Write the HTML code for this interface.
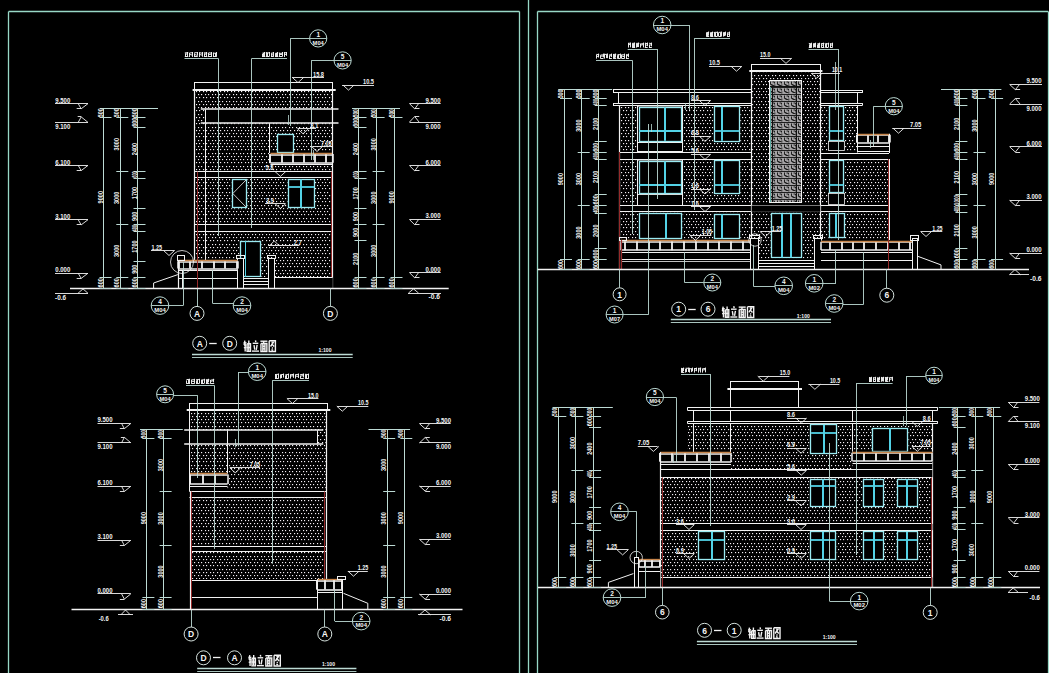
<!DOCTYPE html>
<html><head><meta charset="utf-8"><title>elevation</title>
<style>
html,body{margin:0;padding:0;background:#000;width:1049px;height:673px;overflow:hidden}
svg{display:block}
text{font-family:"Liberation Sans",sans-serif;font-weight:bold}
</style></head><body>
<svg width="1049" height="673" viewBox="0 0 1049 673">
<rect width="1049" height="673" fill="#000"/>
<defs>
<pattern id="dots" x="0" y="0" width="7" height="13" patternUnits="userSpaceOnUse"><g fill="#f4eef4"><rect x="0" y="0" width="1.15" height="1.15"/><rect x="3" y="0" width="1.15" height="1.15"/><rect x="2" y="3" width="1.15" height="1.15"/><rect x="5" y="3" width="1.15" height="1.15"/><rect x="0" y="6" width="1.15" height="1.15"/><rect x="3" y="6" width="1.15" height="1.15"/><rect x="2" y="10" width="1.15" height="1.15"/><rect x="5" y="10" width="1.15" height="1.15"/></g></pattern>
<pattern id="latt" x="769" y="80" width="7" height="7" patternUnits="userSpaceOnUse">
<rect width="7" height="7" fill="#a4a2a4"/>
<path d="M0 0.5H7 M1.5 1.5V4.5H3.5 M3.5 2H5.5V3.5 M5 5.5H2.5 M5.8 4.5V6.5" stroke="#101010" stroke-width="0.9" fill="none"/>
</pattern>
</defs>
<line x1="8.6" y1="11.5" x2="519.5" y2="11.5" stroke="#98d8c6" stroke-width="1.3"/>
<line x1="8.5" y1="11.4" x2="8.5" y2="673" stroke="#98d8c6" stroke-width="1.3"/>
<line x1="519.5" y1="11.4" x2="519.5" y2="673" stroke="#98d8c6" stroke-width="1.3"/>
<line x1="528.5" y1="0" x2="528.5" y2="673" stroke="#98d8c6" stroke-width="1.3"/>
<line x1="537.5" y1="11.5" x2="1048.3" y2="11.5" stroke="#98d8c6" stroke-width="1.3"/>
<line x1="537.5" y1="11.5" x2="537.5" y2="673" stroke="#98d8c6" stroke-width="1.3"/>
<line x1="1048.5" y1="11.5" x2="1048.5" y2="673" stroke="#98d8c6" stroke-width="1.3"/>
<rect x="195" y="90.5" width="137.8" height="186.5" fill="url(#dots)"/>
<rect x="195" y="277" width="42" height="11" fill="url(#dots)"/>
<rect x="194.5" y="82" width="138" height="7.5" fill="#000"/>
<rect x="194.5" y="82.5" width="138" height="7" fill="none" stroke="#f2f2f2" stroke-width="1"/>
<line x1="192.6" y1="90" x2="335.7" y2="90" stroke="#f2f2f2" stroke-width="2"/>
<rect x="205" y="109.4" width="127.8" height="13.9" fill="#000"/>
<line x1="200.8" y1="109" x2="338.5" y2="109" stroke="#f2f2f2" stroke-width="1.6"/>
<line x1="200.8" y1="123" x2="338.5" y2="123" stroke="#f2f2f2" stroke-width="1.6"/>
<line x1="205.5" y1="109.4" x2="205.5" y2="123.3" stroke="#f2f2f2" stroke-width="1"/>
<line x1="269.5" y1="123.3" x2="269.5" y2="153" stroke="#f2f2f2" stroke-width="1"/>
<rect x="277" y="133.7" width="17" height="19.3" fill="#000"/>
<rect x="277.5" y="134.5" width="16" height="18" fill="none" stroke="#9aeaf2" stroke-width="1.3"/>
<rect x="270.4" y="153" width="62.6" height="10.8" fill="#000"/>
<line x1="270.4" y1="155" x2="333" y2="155" stroke="#f2f2f2" stroke-width="1.6"/>
<line x1="270.4" y1="163" x2="333" y2="163" stroke="#f2f2f2" stroke-width="1.6"/>
<line x1="270" y1="154" x2="270" y2="162.8" stroke="#f2f2f2" stroke-width="1.8"/>
<line x1="282" y1="154" x2="282" y2="162.8" stroke="#f2f2f2" stroke-width="1.8"/>
<line x1="293" y1="154" x2="293" y2="162.8" stroke="#f2f2f2" stroke-width="1.8"/>
<line x1="304" y1="154" x2="304" y2="162.8" stroke="#f2f2f2" stroke-width="1.8"/>
<line x1="315" y1="154" x2="315" y2="162.8" stroke="#f2f2f2" stroke-width="1.8"/>
<line x1="326" y1="154" x2="326" y2="162.8" stroke="#f2f2f2" stroke-width="1.8"/>
<line x1="270" y1="154" x2="270" y2="162.8" stroke="#f2f2f2" stroke-width="1.5"/>
<line x1="333" y1="154" x2="333" y2="162.8" stroke="#f2f2f2" stroke-width="1.5"/>
<line x1="270.4" y1="153.5" x2="333" y2="153.5" stroke="#c8864c" stroke-width="1.3"/>
<line x1="270.4" y1="164.5" x2="333" y2="164.5" stroke="#f2f2f2" stroke-width="1"/>
<rect x="195" y="171.6" width="137.8" height="6.3" fill="#000"/>
<line x1="195" y1="171.5" x2="332.8" y2="171.5" stroke="#f2f2f2" stroke-width="1.2"/>
<line x1="195" y1="177.5" x2="332.8" y2="177.5" stroke="#f2f2f2" stroke-width="1.2"/>
<rect x="195" y="224.2" width="137.8" height="7.2" fill="#000"/>
<line x1="195" y1="224.5" x2="332.8" y2="224.5" stroke="#f2f2f2" stroke-width="1.2"/>
<line x1="195" y1="231.5" x2="332.8" y2="231.5" stroke="#f2f2f2" stroke-width="1.2"/>
<line x1="194.5" y1="89.9" x2="194.5" y2="288.6" stroke="#f2f2f2" stroke-width="1.2"/>
<line x1="332.5" y1="89.9" x2="332.5" y2="288.6" stroke="#f2f2f2" stroke-width="1.2"/>
<line x1="205.5" y1="123.3" x2="205.5" y2="288.6" stroke="#f2f2f2" stroke-width="1"/>
<line x1="197.5" y1="171.6" x2="197.5" y2="288.6" stroke="#962a2a" stroke-width="1"/>
<line x1="331.5" y1="171.6" x2="331.5" y2="288.6" stroke="#962a2a" stroke-width="1"/>
<rect x="231.3" y="178.5" width="16.1" height="29.9" fill="#000"/>
<rect x="232.5" y="179.5" width="14" height="28" fill="none" stroke="#9aeaf2" stroke-width="1.3"/>
<polyline points="246,180 232.8,193.5 246,207" fill="none" stroke="#f2f2f2" stroke-width="0.8"/>
<rect x="287.5" y="178.5" width="27.5" height="29.9" fill="#000"/>
<rect x="288.5" y="179.5" width="26" height="28" fill="none" stroke="#9aeaf2" stroke-width="1.3"/>
<line x1="301" y1="179.5" x2="301" y2="207.4" stroke="#52d2e6" stroke-width="2"/>
<line x1="288.5" y1="187" x2="314" y2="187" stroke="#52d2e6" stroke-width="1.8"/>
<rect x="237" y="277" width="95.8" height="11.6" fill="#000"/>
<line x1="274" y1="277.5" x2="332.8" y2="277.5" stroke="#f2f2f2" stroke-width="1"/>
<rect x="239.8" y="240.3" width="21.6" height="36.7" fill="#000"/>
<rect x="240.5" y="241.5" width="20" height="35" fill="none" stroke="#9aeaf2" stroke-width="1.3"/>
<line x1="245.5" y1="241" x2="245.5" y2="277" stroke="#52d2e6" stroke-width="1"/>
<rect x="241.4" y="277.5" width="27.9" height="11.1" fill="#000"/>
<line x1="241.4" y1="278.5" x2="269.3" y2="278.5" stroke="#f2f2f2" stroke-width="1"/>
<line x1="241.4" y1="281.5" x2="269.3" y2="281.5" stroke="#f2f2f2" stroke-width="1"/>
<line x1="241.4" y1="284.5" x2="269.3" y2="284.5" stroke="#f2f2f2" stroke-width="1"/>
<rect x="237" y="258" width="6" height="30.6" fill="#000"/>
<rect x="237.5" y="258.5" width="6" height="30" fill="none" stroke="#f2f2f2" stroke-width="1"/>
<rect x="236.5" y="255.5" width="8" height="3" fill="none" stroke="#f2f2f2" stroke-width="1"/>
<rect x="268" y="258" width="6" height="30.6" fill="#000"/>
<rect x="268.5" y="258.5" width="6" height="30" fill="none" stroke="#f2f2f2" stroke-width="1"/>
<rect x="267.5" y="255.5" width="8" height="3" fill="none" stroke="#f2f2f2" stroke-width="1"/>
<rect x="178" y="260.3" width="59" height="28.3" fill="#000"/>
<rect x="178.5" y="260.3" width="59" height="9.1" fill="#000"/>
<line x1="178.5" y1="262" x2="237.5" y2="262" stroke="#f2f2f2" stroke-width="1.6"/>
<line x1="178.5" y1="269" x2="237.5" y2="269" stroke="#f2f2f2" stroke-width="1.6"/>
<line x1="179" y1="261.3" x2="179" y2="268.4" stroke="#f2f2f2" stroke-width="1.8"/>
<line x1="190" y1="261.3" x2="190" y2="268.4" stroke="#f2f2f2" stroke-width="1.8"/>
<line x1="202" y1="261.3" x2="202" y2="268.4" stroke="#f2f2f2" stroke-width="1.8"/>
<line x1="214" y1="261.3" x2="214" y2="268.4" stroke="#f2f2f2" stroke-width="1.8"/>
<line x1="225" y1="261.3" x2="225" y2="268.4" stroke="#f2f2f2" stroke-width="1.8"/>
<line x1="237" y1="261.3" x2="237" y2="268.4" stroke="#f2f2f2" stroke-width="1.8"/>
<line x1="178" y1="261.3" x2="178" y2="268.4" stroke="#f2f2f2" stroke-width="1.5"/>
<line x1="238" y1="261.3" x2="238" y2="268.4" stroke="#f2f2f2" stroke-width="1.5"/>
<line x1="178.5" y1="260.5" x2="237.5" y2="260.5" stroke="#c8864c" stroke-width="1.3"/>
<line x1="178" y1="270.5" x2="237" y2="270.5" stroke="#f2f2f2" stroke-width="1"/>
<line x1="178" y1="278.5" x2="237" y2="278.5" stroke="#f2f2f2" stroke-width="1"/>
<line x1="178.5" y1="260" x2="178.5" y2="288.6" stroke="#f2f2f2" stroke-width="1.2"/>
<line x1="182.5" y1="270" x2="182.5" y2="288.6" stroke="#f2f2f2" stroke-width="1"/>
<line x1="212.5" y1="270" x2="212.5" y2="288.6" stroke="#f2f2f2" stroke-width="1"/>
<line x1="197.5" y1="260.3" x2="197.5" y2="288.6" stroke="#962a2a" stroke-width="1"/>
<rect x="177.5" y="255.5" width="7" height="5" fill="none" stroke="#f2f2f2" stroke-width="1"/>
<polyline points="153.6,288.6 153.6,283 177.8,274.6" fill="none" stroke="#f2f2f2" stroke-width="1"/>
<circle cx="182" cy="262" r="11.5" fill="none" stroke="#f2f2f2" stroke-width="0.8"/>
<line x1="70" y1="288.5" x2="448.7" y2="288.5" stroke="#f2f2f2" stroke-width="1.3"/>
<line x1="184.8" y1="52.86" x2="188.27" y2="52.72" stroke="#f4f4f4" stroke-width="0.95"/>
<line x1="185.5" y1="53.3" x2="185.5" y2="57" stroke="#f4f4f4" stroke-width="0.95"/>
<line x1="187.5" y1="52" x2="187.5" y2="56.89" stroke="#f4f4f4" stroke-width="0.95"/>
<line x1="184.8" y1="56.5" x2="188.27" y2="56.5" stroke="#f4f4f4" stroke-width="0.95"/>
<line x1="185.1" y1="54.5" x2="187.87" y2="53.62" stroke="#f4f4f4" stroke-width="0.95"/>
<line x1="189.57" y1="53.01" x2="193.04" y2="52.63" stroke="#f4f4f4" stroke-width="0.95"/>
<line x1="189.5" y1="52.87" x2="189.5" y2="57" stroke="#f4f4f4" stroke-width="0.95"/>
<line x1="192.5" y1="52" x2="192.5" y2="56.9" stroke="#f4f4f4" stroke-width="0.95"/>
<line x1="189.87" y1="54.5" x2="192.64" y2="55.15" stroke="#f4f4f4" stroke-width="0.95"/>
<line x1="194.34" y1="52.7" x2="197.81" y2="52.78" stroke="#f4f4f4" stroke-width="0.95"/>
<line x1="194.5" y1="53.25" x2="194.5" y2="57" stroke="#f4f4f4" stroke-width="0.95"/>
<line x1="197.5" y1="52" x2="197.5" y2="55.58" stroke="#f4f4f4" stroke-width="0.95"/>
<line x1="194.34" y1="56.5" x2="197.81" y2="56.5" stroke="#f4f4f4" stroke-width="0.95"/>
<line x1="194.64" y1="54.5" x2="197.41" y2="55.45" stroke="#f4f4f4" stroke-width="0.95"/>
<line x1="199.11" y1="52.64" x2="202.59" y2="53.29" stroke="#f4f4f4" stroke-width="0.95"/>
<line x1="199.5" y1="52.58" x2="199.5" y2="57" stroke="#f4f4f4" stroke-width="0.95"/>
<line x1="202.5" y1="52" x2="202.5" y2="56.78" stroke="#f4f4f4" stroke-width="0.95"/>
<line x1="199.41" y1="54.5" x2="202.19" y2="55.13" stroke="#f4f4f4" stroke-width="0.95"/>
<line x1="203.89" y1="52.74" x2="207.36" y2="53.07" stroke="#f4f4f4" stroke-width="0.95"/>
<line x1="204.5" y1="53.28" x2="204.5" y2="57" stroke="#f4f4f4" stroke-width="0.95"/>
<line x1="206.5" y1="52" x2="206.5" y2="56.44" stroke="#f4f4f4" stroke-width="0.95"/>
<line x1="203.89" y1="56.5" x2="207.36" y2="56.5" stroke="#f4f4f4" stroke-width="0.95"/>
<line x1="204.19" y1="54.5" x2="206.96" y2="53.62" stroke="#f4f4f4" stroke-width="0.95"/>
<line x1="208.66" y1="52.76" x2="212.13" y2="53.14" stroke="#f4f4f4" stroke-width="0.95"/>
<line x1="208.5" y1="52.86" x2="208.5" y2="57" stroke="#f4f4f4" stroke-width="0.95"/>
<line x1="211.5" y1="52" x2="211.5" y2="56.53" stroke="#f4f4f4" stroke-width="0.95"/>
<line x1="208.66" y1="56.5" x2="212.13" y2="56.5" stroke="#f4f4f4" stroke-width="0.95"/>
<line x1="208.96" y1="54.5" x2="211.73" y2="54.1" stroke="#f4f4f4" stroke-width="0.95"/>
<line x1="213.43" y1="53.24" x2="216.9" y2="53.16" stroke="#f4f4f4" stroke-width="0.95"/>
<line x1="213.5" y1="52.49" x2="213.5" y2="57" stroke="#f4f4f4" stroke-width="0.95"/>
<line x1="216.5" y1="52" x2="216.5" y2="56.14" stroke="#f4f4f4" stroke-width="0.95"/>
<line x1="213.43" y1="56.5" x2="216.9" y2="56.5" stroke="#f4f4f4" stroke-width="0.95"/>
<line x1="215.5" y1="53" x2="215.5" y2="56.5" stroke="#f4f4f4" stroke-width="0.95"/>
<line x1="184.5" y1="58.5" x2="218.5" y2="58.5" stroke="#bcdad4" stroke-width="0.9"/>
<line x1="218.5" y1="58.6" x2="218.5" y2="236" stroke="#bcdad4" stroke-width="0.9"/>
<line x1="262.3" y1="53.18" x2="265.32" y2="52.83" stroke="#f4f4f4" stroke-width="0.95"/>
<line x1="262.5" y1="53.96" x2="262.5" y2="57" stroke="#f4f4f4" stroke-width="0.95"/>
<line x1="264.5" y1="52" x2="264.5" y2="56.82" stroke="#f4f4f4" stroke-width="0.95"/>
<line x1="262.3" y1="56.5" x2="265.32" y2="56.5" stroke="#f4f4f4" stroke-width="0.95"/>
<line x1="263.5" y1="53" x2="263.5" y2="56.5" stroke="#f4f4f4" stroke-width="0.95"/>
<line x1="266.62" y1="52.72" x2="269.63" y2="52.99" stroke="#f4f4f4" stroke-width="0.95"/>
<line x1="266.5" y1="52.08" x2="266.5" y2="57" stroke="#f4f4f4" stroke-width="0.95"/>
<line x1="269.5" y1="52" x2="269.5" y2="56" stroke="#f4f4f4" stroke-width="0.95"/>
<line x1="266.62" y1="56.5" x2="269.63" y2="56.5" stroke="#f4f4f4" stroke-width="0.95"/>
<line x1="267.5" y1="53" x2="267.5" y2="56.5" stroke="#f4f4f4" stroke-width="0.95"/>
<line x1="270.93" y1="53.3" x2="273.95" y2="52.85" stroke="#f4f4f4" stroke-width="0.95"/>
<line x1="271.5" y1="53.39" x2="271.5" y2="57" stroke="#f4f4f4" stroke-width="0.95"/>
<line x1="273.5" y1="52" x2="273.5" y2="56.11" stroke="#f4f4f4" stroke-width="0.95"/>
<line x1="270.93" y1="56.5" x2="273.95" y2="56.5" stroke="#f4f4f4" stroke-width="0.95"/>
<line x1="271.23" y1="54.5" x2="273.55" y2="55.18" stroke="#f4f4f4" stroke-width="0.95"/>
<line x1="275.25" y1="53.36" x2="278.27" y2="52.98" stroke="#f4f4f4" stroke-width="0.95"/>
<line x1="275.5" y1="53.33" x2="275.5" y2="57" stroke="#f4f4f4" stroke-width="0.95"/>
<line x1="277.5" y1="52" x2="277.5" y2="56.91" stroke="#f4f4f4" stroke-width="0.95"/>
<line x1="275.25" y1="56.5" x2="278.27" y2="56.5" stroke="#f4f4f4" stroke-width="0.95"/>
<line x1="276.5" y1="53" x2="276.5" y2="56.5" stroke="#f4f4f4" stroke-width="0.95"/>
<line x1="279.57" y1="53.39" x2="282.58" y2="53.26" stroke="#f4f4f4" stroke-width="0.95"/>
<line x1="279.5" y1="52.57" x2="279.5" y2="57" stroke="#f4f4f4" stroke-width="0.95"/>
<line x1="282.5" y1="52" x2="282.5" y2="56.42" stroke="#f4f4f4" stroke-width="0.95"/>
<line x1="279.57" y1="56.5" x2="282.58" y2="56.5" stroke="#f4f4f4" stroke-width="0.95"/>
<line x1="279.87" y1="54.5" x2="282.18" y2="54.42" stroke="#f4f4f4" stroke-width="0.95"/>
<line x1="283.88" y1="52.73" x2="286.9" y2="52.69" stroke="#f4f4f4" stroke-width="0.95"/>
<line x1="284.5" y1="52.12" x2="284.5" y2="57" stroke="#f4f4f4" stroke-width="0.95"/>
<line x1="286.5" y1="52" x2="286.5" y2="55.85" stroke="#f4f4f4" stroke-width="0.95"/>
<line x1="284.18" y1="54.5" x2="286.5" y2="54.28" stroke="#f4f4f4" stroke-width="0.95"/>
<line x1="251.5" y1="58.5" x2="287" y2="58.5" stroke="#bcdad4" stroke-width="0.9"/>
<line x1="251.5" y1="58.6" x2="251.5" y2="228" stroke="#bcdad4" stroke-width="0.9"/>
<circle cx="318.2" cy="38.4" r="8.6" fill="none" stroke="#bcdad4" stroke-width="1"/>
<line x1="309.6" y1="38.5" x2="326.8" y2="38.5" stroke="#bcdad4" stroke-width="0.9"/>
<text x="318.2" y="36.8" font-size="6.5" fill="#f4f4f4" text-anchor="middle">1</text>
<text x="318.2" y="44.7" font-size="6" fill="#f4f4f4" text-anchor="middle" textLength="11.18" lengthAdjust="spacingAndGlyphs">M04</text>
<line x1="309.6" y1="38.5" x2="290.3" y2="38.5" stroke="#bcdad4" stroke-width="0.9"/>
<line x1="290.5" y1="38.4" x2="290.5" y2="126" stroke="#bcdad4" stroke-width="0.9"/>
<line x1="288.5" y1="115" x2="288.5" y2="125" stroke="#bcdad4" stroke-width="0.8"/>
<circle cx="342.6" cy="60.4" r="8.6" fill="none" stroke="#bcdad4" stroke-width="1"/>
<line x1="334" y1="60.5" x2="351.2" y2="60.5" stroke="#bcdad4" stroke-width="0.9"/>
<text x="342.6" y="58.8" font-size="6.5" fill="#f4f4f4" text-anchor="middle">5</text>
<text x="342.6" y="66.7" font-size="6" fill="#f4f4f4" text-anchor="middle" textLength="11.18" lengthAdjust="spacingAndGlyphs">M04</text>
<line x1="334" y1="60.5" x2="311.3" y2="60.5" stroke="#bcdad4" stroke-width="0.9"/>
<line x1="311.5" y1="60.4" x2="311.5" y2="160" stroke="#bcdad4" stroke-width="0.9"/>
<line x1="313.5" y1="150" x2="313.5" y2="160" stroke="#bcdad4" stroke-width="0.8"/>
<line x1="292" y1="77.5" x2="324" y2="77.5" stroke="#f2f2f2" stroke-width="0.9"/>
<polyline points="292.5,77.6 298,82.6 303.5,77.6" fill="none" stroke="#f2f2f2" stroke-width="0.9"/>
<text x="313" y="76.6" font-size="7" fill="#f4f4f4" text-anchor="start" textLength="11" lengthAdjust="spacingAndGlyphs">15.8</text>
<line x1="342" y1="85.5" x2="374" y2="85.5" stroke="#f2f2f2" stroke-width="0.9"/>
<polyline points="343,85.1 348.5,90.1 354,85.1" fill="none" stroke="#f2f2f2" stroke-width="0.9"/>
<text x="363" y="84.1" font-size="7" fill="#f4f4f4" text-anchor="start" textLength="11" lengthAdjust="spacingAndGlyphs">10.5</text>
<line x1="297.7" y1="128.5" x2="316" y2="128.5" stroke="#f2f2f2" stroke-width="0.9"/>
<polyline points="297.5,128.8 303,133.8 308.5,128.8" fill="none" stroke="#f2f2f2" stroke-width="0.9"/>
<text x="310.5" y="127.8" font-size="7" fill="#f4f4f4" text-anchor="start" textLength="7.8" lengthAdjust="spacingAndGlyphs">8.1</text>
<line x1="312.2" y1="146.5" x2="331" y2="146.5" stroke="#f2f2f2" stroke-width="0.9"/>
<polyline points="311.5,146.5 317,151.5 322.5,146.5" fill="none" stroke="#f2f2f2" stroke-width="0.9"/>
<text x="321" y="145.5" font-size="7" fill="#f4f4f4" text-anchor="start" textLength="10.4" lengthAdjust="spacingAndGlyphs">7.05</text>
<line x1="266" y1="171.5" x2="285" y2="171.5" stroke="#f2f2f2" stroke-width="0.9"/>
<polyline points="274.9,171.4 280.4,176.4 285.9,171.4" fill="none" stroke="#f2f2f2" stroke-width="0.9"/>
<text x="265.5" y="170.4" font-size="7" fill="#f4f4f4" text-anchor="start" textLength="7.8" lengthAdjust="spacingAndGlyphs">5.8</text>
<line x1="265" y1="203.5" x2="285" y2="203.5" stroke="#f2f2f2" stroke-width="0.9"/>
<polyline points="274.9,203.5 280.4,208.5 285.9,203.5" fill="none" stroke="#f2f2f2" stroke-width="0.9"/>
<text x="266" y="202.5" font-size="7" fill="#f4f4f4" text-anchor="start" textLength="7.8" lengthAdjust="spacingAndGlyphs">3.9</text>
<line x1="268.1" y1="245.5" x2="299.4" y2="245.5" stroke="#f2f2f2" stroke-width="0.9"/>
<polyline points="269.3,245.9 274.3,240.9 279.3,245.9" fill="none" stroke="#f2f2f2" stroke-width="0.9"/>
<text x="293.8" y="244.9" font-size="7" fill="#f4f4f4" text-anchor="start" textLength="7.8" lengthAdjust="spacingAndGlyphs">2.7</text>
<line x1="151" y1="250.5" x2="174.6" y2="250.5" stroke="#f2f2f2" stroke-width="0.9"/>
<polyline points="163.5,250.5 169,255.5 174.5,250.5" fill="none" stroke="#f2f2f2" stroke-width="0.9"/>
<text x="151.5" y="249.5" font-size="7" fill="#f4f4f4" text-anchor="start" textLength="10.5" lengthAdjust="spacingAndGlyphs">1.25</text>
<line x1="55" y1="103.5" x2="88" y2="103.5" stroke="#f2f2f2" stroke-width="0.9"/>
<polyline points="78.2,103.6 81.18,108.8 88,103.6" fill="none" stroke="#f2f2f2" stroke-width="0.9"/>
<line x1="81.18" y1="108.5" x2="76.68" y2="108.5" stroke="#f2f2f2" stroke-width="0.9"/>
<text x="55.3" y="102.8" font-size="7" fill="#f4f4f4" text-anchor="start" textLength="15" lengthAdjust="spacingAndGlyphs">9.500</text>
<line x1="55" y1="122.5" x2="88" y2="122.5" stroke="#f2f2f2" stroke-width="0.9"/>
<polyline points="78.2,122.4 81.18,116.9 88,122.4" fill="none" stroke="#f2f2f2" stroke-width="0.9"/>
<line x1="81.18" y1="116.5" x2="77.68" y2="116.5" stroke="#f2f2f2" stroke-width="0.9"/>
<text x="55.3" y="128.8" font-size="7" fill="#f4f4f4" text-anchor="start" textLength="15" lengthAdjust="spacingAndGlyphs">9.100</text>
<line x1="55" y1="165.5" x2="88" y2="165.5" stroke="#f2f2f2" stroke-width="0.9"/>
<polyline points="78.2,165.4 81.18,170.6 88,165.4" fill="none" stroke="#f2f2f2" stroke-width="0.9"/>
<line x1="81.18" y1="170.5" x2="76.68" y2="170.5" stroke="#f2f2f2" stroke-width="0.9"/>
<text x="55.3" y="164.6" font-size="7" fill="#f4f4f4" text-anchor="start" textLength="15" lengthAdjust="spacingAndGlyphs">6.100</text>
<line x1="55" y1="219.5" x2="88" y2="219.5" stroke="#f2f2f2" stroke-width="0.9"/>
<polyline points="78.2,219.7 81.18,224.9 88,219.7" fill="none" stroke="#f2f2f2" stroke-width="0.9"/>
<line x1="81.18" y1="224.5" x2="76.68" y2="224.5" stroke="#f2f2f2" stroke-width="0.9"/>
<text x="55.3" y="218.9" font-size="7" fill="#f4f4f4" text-anchor="start" textLength="15" lengthAdjust="spacingAndGlyphs">3.100</text>
<line x1="55" y1="273.5" x2="88" y2="273.5" stroke="#f2f2f2" stroke-width="0.9"/>
<polyline points="78.2,273.2 81.18,278.4 88,273.2" fill="none" stroke="#f2f2f2" stroke-width="0.9"/>
<line x1="81.18" y1="278.5" x2="76.68" y2="278.5" stroke="#f2f2f2" stroke-width="0.9"/>
<text x="55.3" y="272.4" font-size="7" fill="#f4f4f4" text-anchor="start" textLength="15" lengthAdjust="spacingAndGlyphs">0.000</text>
<line x1="55" y1="293.5" x2="88" y2="293.5" stroke="#f2f2f2" stroke-width="0.9"/>
<polyline points="78,293.3 83,288.9 88,293.3" fill="none" stroke="#f2f2f2" stroke-width="0.9"/>
<text x="55" y="299.5" font-size="7" fill="#f4f4f4" text-anchor="start" textLength="11" lengthAdjust="spacingAndGlyphs">-0.6</text>
<line x1="409.5" y1="103.5" x2="440.7" y2="103.5" stroke="#f2f2f2" stroke-width="0.9"/>
<polyline points="409.5,103.7 414.73,108.9 418.5,103.7" fill="none" stroke="#f2f2f2" stroke-width="0.9"/>
<line x1="414.73" y1="108.5" x2="419.53" y2="108.5" stroke="#f2f2f2" stroke-width="0.9"/>
<text x="425.5" y="102.5" font-size="7" fill="#f4f4f4" text-anchor="start" textLength="15" lengthAdjust="spacingAndGlyphs">9.500</text>
<line x1="409.5" y1="122.5" x2="440.7" y2="122.5" stroke="#f2f2f2" stroke-width="0.9"/>
<polyline points="409.5,122 414.73,116.5 419,122" fill="none" stroke="#f2f2f2" stroke-width="0.9"/>
<line x1="414.73" y1="116.5" x2="419.23" y2="116.5" stroke="#f2f2f2" stroke-width="0.9"/>
<text x="425.5" y="128.5" font-size="7" fill="#f4f4f4" text-anchor="start" textLength="15" lengthAdjust="spacingAndGlyphs">9.000</text>
<line x1="409.5" y1="165.5" x2="440.7" y2="165.5" stroke="#f2f2f2" stroke-width="0.9"/>
<polyline points="409.5,165.7 414.73,170.9 418.5,165.7" fill="none" stroke="#f2f2f2" stroke-width="0.9"/>
<line x1="414.73" y1="170.5" x2="419.53" y2="170.5" stroke="#f2f2f2" stroke-width="0.9"/>
<text x="425.5" y="164.5" font-size="7" fill="#f4f4f4" text-anchor="start" textLength="15" lengthAdjust="spacingAndGlyphs">6.000</text>
<line x1="409.5" y1="219.5" x2="440.7" y2="219.5" stroke="#f2f2f2" stroke-width="0.9"/>
<polyline points="409.5,219.6 414.73,224.8 418.5,219.6" fill="none" stroke="#f2f2f2" stroke-width="0.9"/>
<line x1="414.73" y1="224.5" x2="419.53" y2="224.5" stroke="#f2f2f2" stroke-width="0.9"/>
<text x="425.5" y="218.4" font-size="7" fill="#f4f4f4" text-anchor="start" textLength="15" lengthAdjust="spacingAndGlyphs">3.000</text>
<line x1="409.5" y1="272.5" x2="440.7" y2="272.5" stroke="#f2f2f2" stroke-width="0.9"/>
<polyline points="409.5,272.7 414.73,277.9 418.5,272.7" fill="none" stroke="#f2f2f2" stroke-width="0.9"/>
<line x1="414.73" y1="277.5" x2="419.53" y2="277.5" stroke="#f2f2f2" stroke-width="0.9"/>
<text x="425.5" y="271.5" font-size="7" fill="#f4f4f4" text-anchor="start" textLength="15" lengthAdjust="spacingAndGlyphs">0.000</text>
<line x1="408" y1="293.5" x2="441" y2="293.5" stroke="#f2f2f2" stroke-width="0.9"/>
<polyline points="408.5,293 413.5,288.9 418.5,293" fill="none" stroke="#f2f2f2" stroke-width="0.9"/>
<text x="428.5" y="299" font-size="7" fill="#f4f4f4" text-anchor="start" textLength="11.5" lengthAdjust="spacingAndGlyphs">-0.6</text>
<line x1="100" y1="108.5" x2="158" y2="108.5" stroke="#bcdad4" stroke-width="1"/>
<line x1="103.5" y1="108.2" x2="103.5" y2="288.6" stroke="#bcdad4" stroke-width="1"/>
<line x1="99.5" y1="117.5" x2="111.5" y2="117.5" stroke="#bcdad4" stroke-width="1"/>
<line x1="99.5" y1="277.5" x2="111.5" y2="277.5" stroke="#bcdad4" stroke-width="1"/>
<line x1="99.5" y1="288.5" x2="111.5" y2="288.5" stroke="#bcdad4" stroke-width="1"/>
<text x="102.7" y="112.8" font-size="7" fill="#f4f4f4" text-anchor="middle" textLength="8.7" lengthAdjust="spacingAndGlyphs" transform="rotate(-90 102.7 112.8)">500</text>
<text x="102.7" y="197.2" font-size="7" fill="#f4f4f4" text-anchor="middle" textLength="12.4" lengthAdjust="spacingAndGlyphs" transform="rotate(-90 102.7 197.2)">9000</text>
<text x="102.7" y="282.8" font-size="7" fill="#f4f4f4" text-anchor="middle" textLength="9.3" lengthAdjust="spacingAndGlyphs" transform="rotate(-90 102.7 282.8)">600</text>
<line x1="120.5" y1="108.2" x2="120.5" y2="288.6" stroke="#bcdad4" stroke-width="1"/>
<line x1="116.3" y1="117.5" x2="128.3" y2="117.5" stroke="#bcdad4" stroke-width="1"/>
<line x1="116.3" y1="171.5" x2="128.3" y2="171.5" stroke="#bcdad4" stroke-width="1"/>
<line x1="116.3" y1="224.5" x2="128.3" y2="224.5" stroke="#bcdad4" stroke-width="1"/>
<line x1="116.3" y1="277.5" x2="128.3" y2="277.5" stroke="#bcdad4" stroke-width="1"/>
<line x1="116.3" y1="288.5" x2="128.3" y2="288.5" stroke="#bcdad4" stroke-width="1"/>
<text x="119.5" y="112.8" font-size="7" fill="#f4f4f4" text-anchor="middle" textLength="8.7" lengthAdjust="spacingAndGlyphs" transform="rotate(-90 119.5 112.8)">500</text>
<text x="119.5" y="144.2" font-size="7" fill="#f4f4f4" text-anchor="middle" textLength="12.4" lengthAdjust="spacingAndGlyphs" transform="rotate(-90 119.5 144.2)">3000</text>
<text x="119.5" y="197.8" font-size="7" fill="#f4f4f4" text-anchor="middle" textLength="12.4" lengthAdjust="spacingAndGlyphs" transform="rotate(-90 119.5 197.8)">3000</text>
<text x="119.5" y="250.8" font-size="7" fill="#f4f4f4" text-anchor="middle" textLength="12.4" lengthAdjust="spacingAndGlyphs" transform="rotate(-90 119.5 250.8)">3000</text>
<text x="119.5" y="282.8" font-size="7" fill="#f4f4f4" text-anchor="middle" textLength="9.3" lengthAdjust="spacingAndGlyphs" transform="rotate(-90 119.5 282.8)">600</text>
<line x1="137.5" y1="108.2" x2="137.5" y2="288.6" stroke="#bcdad4" stroke-width="1"/>
<line x1="133.5" y1="117.5" x2="145.5" y2="117.5" stroke="#bcdad4" stroke-width="1"/>
<line x1="133.5" y1="127.5" x2="145.5" y2="127.5" stroke="#bcdad4" stroke-width="1"/>
<line x1="133.5" y1="171.5" x2="145.5" y2="171.5" stroke="#bcdad4" stroke-width="1"/>
<line x1="133.5" y1="178.5" x2="145.5" y2="178.5" stroke="#bcdad4" stroke-width="1"/>
<line x1="133.5" y1="208.5" x2="145.5" y2="208.5" stroke="#bcdad4" stroke-width="1"/>
<line x1="133.5" y1="224.5" x2="145.5" y2="224.5" stroke="#bcdad4" stroke-width="1"/>
<line x1="133.5" y1="231.5" x2="145.5" y2="231.5" stroke="#bcdad4" stroke-width="1"/>
<line x1="133.5" y1="261.5" x2="145.5" y2="261.5" stroke="#bcdad4" stroke-width="1"/>
<line x1="133.5" y1="277.5" x2="145.5" y2="277.5" stroke="#bcdad4" stroke-width="1"/>
<line x1="133.5" y1="288.5" x2="145.5" y2="288.5" stroke="#bcdad4" stroke-width="1"/>
<text x="136.7" y="112.8" font-size="7" fill="#f4f4f4" text-anchor="middle" textLength="8.7" lengthAdjust="spacingAndGlyphs" transform="rotate(-90 136.7 112.8)">500</text>
<text x="136.7" y="122.2" font-size="7" fill="#f4f4f4" text-anchor="middle" textLength="9.1" lengthAdjust="spacingAndGlyphs" transform="rotate(-90 136.7 122.2)">600</text>
<text x="136.7" y="149" font-size="7" fill="#f4f4f4" text-anchor="middle" textLength="12.4" lengthAdjust="spacingAndGlyphs" transform="rotate(-90 136.7 149)">2400</text>
<text x="136.7" y="174.5" font-size="7" fill="#f4f4f4" text-anchor="middle" textLength="6.5" lengthAdjust="spacingAndGlyphs" transform="rotate(-90 136.7 174.5)">600</text>
<text x="136.7" y="193" font-size="7" fill="#f4f4f4" text-anchor="middle" textLength="12.4" lengthAdjust="spacingAndGlyphs" transform="rotate(-90 136.7 193)">1700</text>
<text x="136.7" y="216.3" font-size="7" fill="#f4f4f4" text-anchor="middle" textLength="9.3" lengthAdjust="spacingAndGlyphs" transform="rotate(-90 136.7 216.3)">900</text>
<text x="136.7" y="228.15" font-size="7" fill="#f4f4f4" text-anchor="middle" textLength="6.6" lengthAdjust="spacingAndGlyphs" transform="rotate(-90 136.7 228.15)">400</text>
<text x="136.7" y="246.55" font-size="7" fill="#f4f4f4" text-anchor="middle" textLength="12.4" lengthAdjust="spacingAndGlyphs" transform="rotate(-90 136.7 246.55)">1700</text>
<text x="136.7" y="269.2" font-size="7" fill="#f4f4f4" text-anchor="middle" textLength="9.3" lengthAdjust="spacingAndGlyphs" transform="rotate(-90 136.7 269.2)">900</text>
<text x="136.7" y="282.8" font-size="7" fill="#f4f4f4" text-anchor="middle" textLength="9.3" lengthAdjust="spacingAndGlyphs" transform="rotate(-90 136.7 282.8)">600</text>
<line x1="352" y1="108.5" x2="400" y2="108.5" stroke="#bcdad4" stroke-width="1"/>
<line x1="358.5" y1="108.9" x2="358.5" y2="288.6" stroke="#bcdad4" stroke-width="1"/>
<line x1="354.5" y1="117.5" x2="366.5" y2="117.5" stroke="#bcdad4" stroke-width="1"/>
<line x1="354.5" y1="127.5" x2="366.5" y2="127.5" stroke="#bcdad4" stroke-width="1"/>
<line x1="354.5" y1="171.5" x2="366.5" y2="171.5" stroke="#bcdad4" stroke-width="1"/>
<line x1="354.5" y1="178.5" x2="366.5" y2="178.5" stroke="#bcdad4" stroke-width="1"/>
<line x1="354.5" y1="208.5" x2="366.5" y2="208.5" stroke="#bcdad4" stroke-width="1"/>
<line x1="354.5" y1="224.5" x2="366.5" y2="224.5" stroke="#bcdad4" stroke-width="1"/>
<line x1="354.5" y1="240.5" x2="366.5" y2="240.5" stroke="#bcdad4" stroke-width="1"/>
<line x1="354.5" y1="277.5" x2="366.5" y2="277.5" stroke="#bcdad4" stroke-width="1"/>
<line x1="354.5" y1="288.5" x2="366.5" y2="288.5" stroke="#bcdad4" stroke-width="1"/>
<text x="357.7" y="113.25" font-size="7" fill="#f4f4f4" text-anchor="middle" textLength="8.2" lengthAdjust="spacingAndGlyphs" transform="rotate(-90 357.7 113.25)">500</text>
<text x="357.7" y="122.3" font-size="7" fill="#f4f4f4" text-anchor="middle" textLength="8.9" lengthAdjust="spacingAndGlyphs" transform="rotate(-90 357.7 122.3)">600</text>
<text x="357.7" y="149" font-size="7" fill="#f4f4f4" text-anchor="middle" textLength="12.4" lengthAdjust="spacingAndGlyphs" transform="rotate(-90 357.7 149)">2400</text>
<text x="357.7" y="174.5" font-size="7" fill="#f4f4f4" text-anchor="middle" textLength="6.5" lengthAdjust="spacingAndGlyphs" transform="rotate(-90 357.7 174.5)">600</text>
<text x="357.7" y="193.3" font-size="7" fill="#f4f4f4" text-anchor="middle" textLength="12.4" lengthAdjust="spacingAndGlyphs" transform="rotate(-90 357.7 193.3)">1700</text>
<text x="357.7" y="216.5" font-size="7" fill="#f4f4f4" text-anchor="middle" textLength="9.3" lengthAdjust="spacingAndGlyphs" transform="rotate(-90 357.7 216.5)">900</text>
<text x="357.7" y="232.4" font-size="7" fill="#f4f4f4" text-anchor="middle" textLength="9.3" lengthAdjust="spacingAndGlyphs" transform="rotate(-90 357.7 232.4)">900</text>
<text x="357.7" y="258.75" font-size="7" fill="#f4f4f4" text-anchor="middle" textLength="12.4" lengthAdjust="spacingAndGlyphs" transform="rotate(-90 357.7 258.75)">2100</text>
<text x="357.7" y="282.85" font-size="7" fill="#f4f4f4" text-anchor="middle" textLength="9.3" lengthAdjust="spacingAndGlyphs" transform="rotate(-90 357.7 282.85)">600</text>
<line x1="376.5" y1="108.9" x2="376.5" y2="288.6" stroke="#bcdad4" stroke-width="1"/>
<line x1="372.6" y1="117.5" x2="384.6" y2="117.5" stroke="#bcdad4" stroke-width="1"/>
<line x1="372.6" y1="171.5" x2="384.6" y2="171.5" stroke="#bcdad4" stroke-width="1"/>
<line x1="372.6" y1="224.5" x2="384.6" y2="224.5" stroke="#bcdad4" stroke-width="1"/>
<line x1="372.6" y1="277.5" x2="384.6" y2="277.5" stroke="#bcdad4" stroke-width="1"/>
<line x1="372.6" y1="288.5" x2="384.6" y2="288.5" stroke="#bcdad4" stroke-width="1"/>
<text x="375.8" y="113.25" font-size="7" fill="#f4f4f4" text-anchor="middle" textLength="8.2" lengthAdjust="spacingAndGlyphs" transform="rotate(-90 375.8 113.25)">500</text>
<text x="375.8" y="144.3" font-size="7" fill="#f4f4f4" text-anchor="middle" textLength="12.4" lengthAdjust="spacingAndGlyphs" transform="rotate(-90 375.8 144.3)">3000</text>
<text x="375.8" y="197.7" font-size="7" fill="#f4f4f4" text-anchor="middle" textLength="12.4" lengthAdjust="spacingAndGlyphs" transform="rotate(-90 375.8 197.7)">3000</text>
<text x="375.8" y="250.75" font-size="7" fill="#f4f4f4" text-anchor="middle" textLength="12.4" lengthAdjust="spacingAndGlyphs" transform="rotate(-90 375.8 250.75)">3000</text>
<text x="375.8" y="282.85" font-size="7" fill="#f4f4f4" text-anchor="middle" textLength="9.3" lengthAdjust="spacingAndGlyphs" transform="rotate(-90 375.8 282.85)">600</text>
<line x1="394.5" y1="108.9" x2="394.5" y2="288.6" stroke="#bcdad4" stroke-width="1"/>
<line x1="390.5" y1="117.5" x2="402.5" y2="117.5" stroke="#bcdad4" stroke-width="1"/>
<line x1="390.5" y1="277.5" x2="402.5" y2="277.5" stroke="#bcdad4" stroke-width="1"/>
<line x1="390.5" y1="288.5" x2="402.5" y2="288.5" stroke="#bcdad4" stroke-width="1"/>
<text x="393.7" y="113.25" font-size="7" fill="#f4f4f4" text-anchor="middle" textLength="8.2" lengthAdjust="spacingAndGlyphs" transform="rotate(-90 393.7 113.25)">500</text>
<text x="393.7" y="197.35" font-size="7" fill="#f4f4f4" text-anchor="middle" textLength="12.4" lengthAdjust="spacingAndGlyphs" transform="rotate(-90 393.7 197.35)">9000</text>
<text x="393.7" y="282.85" font-size="7" fill="#f4f4f4" text-anchor="middle" textLength="9.3" lengthAdjust="spacingAndGlyphs" transform="rotate(-90 393.7 282.85)">600</text>
<line x1="197.5" y1="288.6" x2="197.5" y2="306.4" stroke="#bcdad4" stroke-width="0.9"/>
<circle cx="197" cy="313.4" r="7" fill="none" stroke="#d6e2de" stroke-width="1"/>
<text x="197" y="316.6" font-size="8.5" fill="#f4f4f4" text-anchor="middle">A</text>
<line x1="330.5" y1="288.6" x2="330.5" y2="306.4" stroke="#bcdad4" stroke-width="0.9"/>
<circle cx="330.4" cy="313.4" r="7" fill="none" stroke="#d6e2de" stroke-width="1"/>
<text x="330.4" y="316.6" font-size="8.5" fill="#f4f4f4" text-anchor="middle">D</text>
<circle cx="160" cy="305.6" r="8.8" fill="none" stroke="#bcdad4" stroke-width="1"/>
<line x1="151.2" y1="305.5" x2="168.8" y2="305.5" stroke="#bcdad4" stroke-width="0.9"/>
<text x="160" y="304" font-size="6.5" fill="#f4f4f4" text-anchor="middle">4</text>
<text x="160" y="311.9" font-size="6" fill="#f4f4f4" text-anchor="middle" textLength="11.44" lengthAdjust="spacingAndGlyphs">M04</text>
<line x1="168.8" y1="305.5" x2="183" y2="305.5" stroke="#bcdad4" stroke-width="0.9"/>
<line x1="183.5" y1="305.6" x2="183.5" y2="262" stroke="#bcdad4" stroke-width="0.9"/>
<circle cx="242" cy="305.6" r="8.8" fill="none" stroke="#bcdad4" stroke-width="1"/>
<line x1="233.2" y1="305.5" x2="250.8" y2="305.5" stroke="#bcdad4" stroke-width="0.9"/>
<text x="242" y="304" font-size="6.5" fill="#f4f4f4" text-anchor="middle">2</text>
<text x="242" y="311.9" font-size="6" fill="#f4f4f4" text-anchor="middle" textLength="11.44" lengthAdjust="spacingAndGlyphs">M04</text>
<line x1="233.2" y1="303.5" x2="212.4" y2="303.5" stroke="#bcdad4" stroke-width="0.9"/>
<line x1="212.5" y1="303" x2="212.5" y2="270" stroke="#bcdad4" stroke-width="0.9"/>
<circle cx="199.7" cy="343.3" r="7" fill="none" stroke="#d6e2de" stroke-width="1"/>
<text x="199.7" y="346.5" font-size="8.5" fill="#f4f4f4" text-anchor="middle">A</text>
<line x1="209.2" y1="343.5" x2="216.7" y2="343.5" stroke="#f2f2f2" stroke-width="1.3"/>
<circle cx="229.7" cy="343.3" r="7" fill="none" stroke="#d6e2de" stroke-width="1"/>
<text x="229.7" y="346.5" font-size="8.5" fill="#f4f4f4" text-anchor="middle">D</text>
<polyline points="243.62,342.83 246.51,342.83" fill="none" stroke="#f2f2f2" stroke-width="1.4"/>
<polyline points="244.88,340.65 244.14,345.13" fill="none" stroke="#f2f2f2" stroke-width="1.4"/>
<polyline points="244.14,345.13 246.36,345.13" fill="none" stroke="#f2f2f2" stroke-width="1.4"/>
<polyline points="243.84,347.89 246.51,347.2" fill="none" stroke="#f2f2f2" stroke-width="1.4"/>
<polyline points="245.18,343.29 245.18,351.57" fill="none" stroke="#f2f2f2" stroke-width="1.4"/>
<polyline points="247.1,343.75 250.5,343.75 250.5,351.34 247.1,351.34 247.1,343.75" fill="none" stroke="#f2f2f2" stroke-width="1.4"/>
<polyline points="248.8,340.53 248.8,351.34" fill="none" stroke="#f2f2f2" stroke-width="1.4"/>
<polyline points="247.1,347.55 250.5,347.55" fill="none" stroke="#f2f2f2" stroke-width="1.4"/>
<polyline points="255.5,340.3 255.8,342.14" fill="none" stroke="#f2f2f2" stroke-width="1.4"/>
<polyline points="252.69,343.29 258.31,343.29" fill="none" stroke="#f2f2f2" stroke-width="1.4"/>
<polyline points="254.02,345.13 254.76,349.73" fill="none" stroke="#f2f2f2" stroke-width="1.4"/>
<polyline points="257.13,344.9 256.24,349.96" fill="none" stroke="#f2f2f2" stroke-width="1.4"/>
<polyline points="252.02,351.11 258.98,351.11" fill="none" stroke="#f2f2f2" stroke-width="1.4"/>
<polyline points="260.42,341.22 267.38,341.22" fill="none" stroke="#f2f2f2" stroke-width="1.4"/>
<polyline points="263.9,341.22 263.46,343.52" fill="none" stroke="#f2f2f2" stroke-width="1.4"/>
<polyline points="260.94,343.52 266.86,343.52 266.86,351.57 260.94,351.57 260.94,343.52" fill="none" stroke="#f2f2f2" stroke-width="1.4"/>
<polyline points="262.86,343.52 262.86,351.57" fill="none" stroke="#f2f2f2" stroke-width="1.4"/>
<polyline points="264.94,343.52 264.94,351.57" fill="none" stroke="#f2f2f2" stroke-width="1.4"/>
<polyline points="262.86,346.28 264.94,346.28" fill="none" stroke="#f2f2f2" stroke-width="1.4"/>
<polyline points="262.86,348.81 264.94,348.81" fill="none" stroke="#f2f2f2" stroke-width="1.4"/>
<polyline points="269.19,340.76 275.41,340.76 275.41,351.57 269.19,351.57 269.19,340.76" fill="none" stroke="#f2f2f2" stroke-width="1.4"/>
<polyline points="271.41,342.14 273.48,342.14 270.52,346.51" fill="none" stroke="#f2f2f2" stroke-width="1.4"/>
<polyline points="271.56,343.75 274.22,346.51" fill="none" stroke="#f2f2f2" stroke-width="1.4"/>
<polyline points="271.86,347.66 272.89,348.35" fill="none" stroke="#f2f2f2" stroke-width="1.4"/>
<polyline points="271.41,349.73 273.19,350.42" fill="none" stroke="#f2f2f2" stroke-width="1.4"/>
<text x="318.5" y="351.6" font-size="6" fill="#f4f4f4" text-anchor="start" textLength="13" lengthAdjust="spacingAndGlyphs">1:100</text>
<line x1="192" y1="354.5" x2="352.7" y2="354.5" stroke="#bcdad4" stroke-width="1.3"/>
<line x1="192" y1="357.5" x2="352.7" y2="357.5" stroke="#bcdad4" stroke-width="0.9"/>
<rect x="619" y="105.5" width="132.8" height="134.5" fill="url(#dots)"/>
<rect x="820.3" y="105.5" width="37.1" height="47" fill="url(#dots)"/>
<rect x="820.3" y="159.3" width="67.7" height="80.7" fill="url(#dots)"/>
<rect x="613" y="89.9" width="138.8" height="15.3" fill="#000"/>
<line x1="613" y1="89.5" x2="751.8" y2="89.5" stroke="#f2f2f2" stroke-width="1.2"/>
<line x1="613" y1="92.5" x2="751.8" y2="92.5" stroke="#f2f2f2" stroke-width="1"/>
<line x1="613" y1="103.5" x2="751.8" y2="103.5" stroke="#f2f2f2" stroke-width="1.2"/>
<line x1="613" y1="105.5" x2="751.8" y2="105.5" stroke="#f2f2f2" stroke-width="1"/>
<line x1="613.5" y1="89.9" x2="613.5" y2="92.2" stroke="#f2f2f2" stroke-width="1"/>
<line x1="613.5" y1="103.6" x2="613.5" y2="105.2" stroke="#f2f2f2" stroke-width="1"/>
<line x1="618.5" y1="92.2" x2="618.5" y2="103.6" stroke="#f2f2f2" stroke-width="1"/>
<rect x="820.3" y="90.1" width="42.4" height="14.9" fill="#000"/>
<line x1="820.3" y1="90.5" x2="862.7" y2="90.5" stroke="#f2f2f2" stroke-width="1.2"/>
<line x1="820.3" y1="92.5" x2="862.7" y2="92.5" stroke="#f2f2f2" stroke-width="1"/>
<line x1="820.3" y1="103.5" x2="862.7" y2="103.5" stroke="#f2f2f2" stroke-width="1.2"/>
<line x1="820.3" y1="105.5" x2="862.7" y2="105.5" stroke="#f2f2f2" stroke-width="1"/>
<line x1="862.5" y1="90.1" x2="862.5" y2="92.8" stroke="#f2f2f2" stroke-width="1"/>
<line x1="862.5" y1="103.2" x2="862.5" y2="105" stroke="#f2f2f2" stroke-width="1"/>
<line x1="857.5" y1="92.8" x2="857.5" y2="103.2" stroke="#f2f2f2" stroke-width="1"/>
<rect x="619" y="152.5" width="132.8" height="6.8" fill="#000"/>
<line x1="619" y1="152.5" x2="751.8" y2="152.5" stroke="#f2f2f2" stroke-width="1.2"/>
<line x1="619" y1="159.5" x2="751.8" y2="159.5" stroke="#f2f2f2" stroke-width="1.2"/>
<rect x="619" y="205.5" width="132.8" height="6.3" fill="#000"/>
<line x1="619" y1="205.5" x2="751.8" y2="205.5" stroke="#f2f2f2" stroke-width="1.2"/>
<line x1="619" y1="211.5" x2="751.8" y2="211.5" stroke="#f2f2f2" stroke-width="1.2"/>
<rect x="820.3" y="152.5" width="68.7" height="6.8" fill="#000"/>
<line x1="820.3" y1="153.5" x2="889" y2="153.5" stroke="#f2f2f2" stroke-width="1.2"/>
<line x1="820.3" y1="159.5" x2="889" y2="159.5" stroke="#f2f2f2" stroke-width="1.2"/>
<rect x="820.3" y="205.5" width="67.7" height="6.3" fill="#000"/>
<line x1="751.6" y1="205.5" x2="888" y2="205.5" stroke="#f2f2f2" stroke-width="1.2"/>
<line x1="751.6" y1="211.5" x2="888" y2="211.5" stroke="#f2f2f2" stroke-width="1.2"/>
<rect x="637.4" y="106" width="45.2" height="45.7" fill="#000"/>
<rect x="637.5" y="106.5" width="45" height="45" fill="none" stroke="#f2f2f2" stroke-width="1"/>
<line x1="637.4" y1="142.5" x2="682.6" y2="142.5" stroke="#f2f2f2" stroke-width="1"/>
<rect x="638.2" y="106.5" width="43.8" height="35.3" fill="#000"/>
<rect x="639.5" y="107.5" width="42" height="34" fill="none" stroke="#9aeaf2" stroke-width="1.3"/>
<line x1="665" y1="107.5" x2="665" y2="140.8" stroke="#52d2e6" stroke-width="2"/>
<line x1="639.2" y1="131" x2="681" y2="131" stroke="#52d2e6" stroke-width="1.8"/>
<rect x="713.6" y="106" width="26.7" height="35.8" fill="#000"/>
<rect x="714.5" y="106.5" width="25" height="35" fill="none" stroke="#9aeaf2" stroke-width="1.3"/>
<line x1="722" y1="107" x2="722" y2="140.8" stroke="#52d2e6" stroke-width="2"/>
<line x1="714.6" y1="131" x2="739.3" y2="131" stroke="#52d2e6" stroke-width="1.8"/>
<rect x="828.3" y="106" width="16.3" height="35" fill="#000"/>
<rect x="829.5" y="106.5" width="14" height="34" fill="none" stroke="#9aeaf2" stroke-width="1.3"/>
<line x1="829.3" y1="131" x2="843.6" y2="131" stroke="#52d2e6" stroke-width="1.8"/>
<rect x="828.3" y="141" width="16.3" height="9.7" fill="#000"/>
<rect x="828.5" y="141.5" width="16" height="9" fill="none" stroke="#f2f2f2" stroke-width="0.8"/>
<rect x="637.4" y="160" width="45.2" height="45.2" fill="#000"/>
<rect x="637.5" y="160.5" width="45" height="45" fill="none" stroke="#f2f2f2" stroke-width="1"/>
<line x1="637.4" y1="194.5" x2="682.6" y2="194.5" stroke="#f2f2f2" stroke-width="1"/>
<rect x="638.2" y="160.5" width="43.8" height="33.6" fill="#000"/>
<rect x="639.5" y="161.5" width="42" height="32" fill="none" stroke="#9aeaf2" stroke-width="1.3"/>
<line x1="665" y1="161.5" x2="665" y2="193.1" stroke="#52d2e6" stroke-width="2"/>
<line x1="639.2" y1="185" x2="681" y2="185" stroke="#52d2e6" stroke-width="1.8"/>
<rect x="713.6" y="160" width="26.7" height="34.1" fill="#000"/>
<rect x="714.5" y="160.5" width="25" height="33" fill="none" stroke="#9aeaf2" stroke-width="1.3"/>
<line x1="722" y1="161" x2="722" y2="193.1" stroke="#52d2e6" stroke-width="2"/>
<line x1="714.6" y1="185" x2="739.3" y2="185" stroke="#52d2e6" stroke-width="1.8"/>
<rect x="828.3" y="160" width="16.3" height="33.3" fill="#000"/>
<rect x="829.5" y="160.5" width="14" height="32" fill="none" stroke="#9aeaf2" stroke-width="1.3"/>
<line x1="829.3" y1="185" x2="843.6" y2="185" stroke="#52d2e6" stroke-width="1.8"/>
<rect x="828.3" y="193.3" width="16.3" height="10.9" fill="#000"/>
<rect x="828.5" y="193.5" width="16" height="11" fill="none" stroke="#f2f2f2" stroke-width="0.8"/>
<rect x="638.2" y="213" width="44.4" height="26.2" fill="#000"/>
<rect x="639.5" y="213.5" width="42" height="25" fill="none" stroke="#9aeaf2" stroke-width="1.3"/>
<line x1="666" y1="214" x2="666" y2="238.2" stroke="#52d2e6" stroke-width="2"/>
<rect x="713.9" y="213.2" width="26.4" height="26" fill="#000"/>
<rect x="714.5" y="214.5" width="25" height="24" fill="none" stroke="#9aeaf2" stroke-width="1.3"/>
<line x1="722" y1="214.2" x2="722" y2="238.2" stroke="#52d2e6" stroke-width="2"/>
<rect x="828.6" y="213" width="16.4" height="25.3" fill="#000"/>
<rect x="829.5" y="213.5" width="15" height="24" fill="none" stroke="#9aeaf2" stroke-width="1.3"/>
<line x1="836" y1="214" x2="836" y2="237.3" stroke="#52d2e6" stroke-width="2"/>
<rect x="857.4" y="133.8" width="32.1" height="18.2" fill="#000"/>
<rect x="857.4" y="133.8" width="32.1" height="9.8" fill="#000"/>
<line x1="857.4" y1="135" x2="889.5" y2="135" stroke="#f2f2f2" stroke-width="1.6"/>
<line x1="857.4" y1="143" x2="889.5" y2="143" stroke="#f2f2f2" stroke-width="1.6"/>
<line x1="857" y1="134.8" x2="857" y2="142.6" stroke="#f2f2f2" stroke-width="1.8"/>
<line x1="868" y1="134.8" x2="868" y2="142.6" stroke="#f2f2f2" stroke-width="1.8"/>
<line x1="878" y1="134.8" x2="878" y2="142.6" stroke="#f2f2f2" stroke-width="1.8"/>
<line x1="889" y1="134.8" x2="889" y2="142.6" stroke="#f2f2f2" stroke-width="1.8"/>
<line x1="857" y1="134.8" x2="857" y2="142.6" stroke="#f2f2f2" stroke-width="1.5"/>
<line x1="890" y1="134.8" x2="890" y2="142.6" stroke="#f2f2f2" stroke-width="1.5"/>
<line x1="857.4" y1="134.5" x2="889.5" y2="134.5" stroke="#c8864c" stroke-width="1.3"/>
<line x1="857.4" y1="146.5" x2="889.5" y2="146.5" stroke="#f2f2f2" stroke-width="1"/>
<line x1="857.4" y1="151.5" x2="889.5" y2="151.5" stroke="#f2f2f2" stroke-width="1"/>
<line x1="889.5" y1="133.8" x2="889.5" y2="153" stroke="#f2f2f2" stroke-width="1"/>
<line x1="619.5" y1="105" x2="619.5" y2="269.3" stroke="#f2f2f2" stroke-width="1.2"/>
<line x1="619.5" y1="152" x2="619.5" y2="269.3" stroke="#962a2a" stroke-width="1"/>
<line x1="888.5" y1="159" x2="888.5" y2="269.3" stroke="#962a2a" stroke-width="1"/>
<line x1="889.5" y1="159" x2="889.5" y2="240" stroke="#f2f2f2" stroke-width="1"/>
<line x1="857.5" y1="105" x2="857.5" y2="152.5" stroke="#f2f2f2" stroke-width="1"/>
<rect x="751.6" y="72" width="68.7" height="197" fill="url(#dots)"/>
<rect x="751" y="64.6" width="69.3" height="5.4" fill="#000"/>
<rect x="751.5" y="64.5" width="69" height="6" fill="none" stroke="#f2f2f2" stroke-width="1"/>
<line x1="749.3" y1="71" x2="822.4" y2="71" stroke="#f2f2f2" stroke-width="1.8"/>
<line x1="751.5" y1="72" x2="751.5" y2="269.3" stroke="#f2f2f2" stroke-width="1.2"/>
<line x1="820.5" y1="72" x2="820.5" y2="269.3" stroke="#f2f2f2" stroke-width="1.2"/>
<rect x="769.4" y="80" width="32.1" height="122" fill="url(#latt)"/>
<line x1="772.5" y1="86" x2="772.5" y2="202" stroke="#101010" stroke-width="1"/>
<line x1="796.5" y1="80" x2="796.5" y2="202" stroke="#101010" stroke-width="1"/>
<line x1="769.4" y1="86.5" x2="801.5" y2="86.5" stroke="#101010" stroke-width="1"/>
<line x1="770.5" y1="87" x2="770.5" y2="202" stroke="#5aa8a0" stroke-width="1"/>
<rect x="769.5" y="80.5" width="32" height="122" fill="none" stroke="#f2f2f2" stroke-width="1"/>
<rect x="751.6" y="205.5" width="68.7" height="6.3" fill="#000"/>
<rect x="770.5" y="213" width="31.6" height="45.5" fill="#000"/>
<rect x="771.5" y="213.5" width="30" height="44" fill="none" stroke="#9aeaf2" stroke-width="1.3"/>
<line x1="782" y1="214" x2="782" y2="257.5" stroke="#52d2e6" stroke-width="2"/>
<line x1="791" y1="214" x2="791" y2="257.5" stroke="#52d2e6" stroke-width="2"/>
<rect x="755.4" y="258.5" width="60.6" height="10.8" fill="#000"/>
<line x1="755.4" y1="260.5" x2="816" y2="260.5" stroke="#f2f2f2" stroke-width="1"/>
<line x1="755.4" y1="263.5" x2="816" y2="263.5" stroke="#f2f2f2" stroke-width="1"/>
<line x1="755.4" y1="266.5" x2="816" y2="266.5" stroke="#f2f2f2" stroke-width="1"/>
<rect x="621" y="240.3" width="130.4" height="29" fill="#000"/>
<rect x="621" y="240.3" width="130.4" height="11" fill="#000"/>
<line x1="621" y1="242" x2="751.4" y2="242" stroke="#f2f2f2" stroke-width="1.6"/>
<line x1="621" y1="250" x2="751.4" y2="250" stroke="#f2f2f2" stroke-width="1.6"/>
<line x1="625" y1="241.3" x2="625" y2="250.3" stroke="#f2f2f2" stroke-width="1.8"/>
<line x1="637" y1="241.3" x2="637" y2="250.3" stroke="#f2f2f2" stroke-width="1.8"/>
<line x1="649" y1="241.3" x2="649" y2="250.3" stroke="#f2f2f2" stroke-width="1.8"/>
<line x1="660" y1="241.3" x2="660" y2="250.3" stroke="#f2f2f2" stroke-width="1.8"/>
<line x1="672" y1="241.3" x2="672" y2="250.3" stroke="#f2f2f2" stroke-width="1.8"/>
<line x1="684" y1="241.3" x2="684" y2="250.3" stroke="#f2f2f2" stroke-width="1.8"/>
<line x1="696" y1="241.3" x2="696" y2="250.3" stroke="#f2f2f2" stroke-width="1.8"/>
<line x1="708" y1="241.3" x2="708" y2="250.3" stroke="#f2f2f2" stroke-width="1.8"/>
<line x1="719" y1="241.3" x2="719" y2="250.3" stroke="#f2f2f2" stroke-width="1.8"/>
<line x1="731" y1="241.3" x2="731" y2="250.3" stroke="#f2f2f2" stroke-width="1.8"/>
<line x1="743" y1="241.3" x2="743" y2="250.3" stroke="#f2f2f2" stroke-width="1.8"/>
<line x1="621" y1="241.3" x2="621" y2="250.3" stroke="#f2f2f2" stroke-width="1.5"/>
<line x1="751" y1="241.3" x2="751" y2="250.3" stroke="#f2f2f2" stroke-width="1.5"/>
<line x1="621" y1="240.5" x2="751.4" y2="240.5" stroke="#c8864c" stroke-width="1.3"/>
<line x1="621" y1="252.5" x2="751.4" y2="252.5" stroke="#f2f2f2" stroke-width="1"/>
<line x1="621" y1="259.5" x2="751.4" y2="259.5" stroke="#f2f2f2" stroke-width="1.2"/>
<line x1="621" y1="261.5" x2="751.4" y2="261.5" stroke="#f2f2f2" stroke-width="0.8"/>
<rect x="619.5" y="237.5" width="7" height="3" fill="none" stroke="#f2f2f2" stroke-width="1"/>
<line x1="621.5" y1="240" x2="621.5" y2="269.3" stroke="#962a2a" stroke-width="1.2"/>
<rect x="750.4" y="238" width="8.4" height="31.3" fill="#000"/>
<rect x="750.5" y="238.5" width="8" height="31" fill="none" stroke="#f2f2f2" stroke-width="1"/>
<rect x="749.5" y="235.5" width="10" height="3" fill="none" stroke="#f2f2f2" stroke-width="1"/>
<rect x="814.7" y="238" width="6.3" height="31.3" fill="#000"/>
<rect x="814.5" y="238.5" width="7" height="31" fill="none" stroke="#f2f2f2" stroke-width="1"/>
<rect x="813.5" y="235.5" width="9" height="3" fill="none" stroke="#f2f2f2" stroke-width="1"/>
<rect x="821" y="240.8" width="94.8" height="28.5" fill="#000"/>
<rect x="821" y="240.8" width="94.8" height="10.2" fill="#000"/>
<line x1="821" y1="242" x2="915.8" y2="242" stroke="#f2f2f2" stroke-width="1.6"/>
<line x1="821" y1="250" x2="915.8" y2="250" stroke="#f2f2f2" stroke-width="1.6"/>
<line x1="830" y1="241.8" x2="830" y2="250" stroke="#f2f2f2" stroke-width="1.8"/>
<line x1="842" y1="241.8" x2="842" y2="250" stroke="#f2f2f2" stroke-width="1.8"/>
<line x1="853" y1="241.8" x2="853" y2="250" stroke="#f2f2f2" stroke-width="1.8"/>
<line x1="864" y1="241.8" x2="864" y2="250" stroke="#f2f2f2" stroke-width="1.8"/>
<line x1="876" y1="241.8" x2="876" y2="250" stroke="#f2f2f2" stroke-width="1.8"/>
<line x1="888" y1="241.8" x2="888" y2="250" stroke="#f2f2f2" stroke-width="1.8"/>
<line x1="899" y1="241.8" x2="899" y2="250" stroke="#f2f2f2" stroke-width="1.8"/>
<line x1="910" y1="241.8" x2="910" y2="250" stroke="#f2f2f2" stroke-width="1.8"/>
<line x1="821" y1="241.8" x2="821" y2="250" stroke="#f2f2f2" stroke-width="1.5"/>
<line x1="916" y1="241.8" x2="916" y2="250" stroke="#f2f2f2" stroke-width="1.5"/>
<line x1="821" y1="241.5" x2="915.8" y2="241.5" stroke="#c8864c" stroke-width="1.3"/>
<line x1="821" y1="252.5" x2="915.8" y2="252.5" stroke="#f2f2f2" stroke-width="1"/>
<line x1="821" y1="260.5" x2="915.8" y2="260.5" stroke="#f2f2f2" stroke-width="1.2"/>
<line x1="888.5" y1="240" x2="888.5" y2="269.3" stroke="#962a2a" stroke-width="1"/>
<rect x="912" y="238" width="5" height="31.3" fill="#000"/>
<rect x="912.5" y="238.5" width="5" height="31" fill="none" stroke="#f2f2f2" stroke-width="1"/>
<rect x="910.5" y="235.5" width="8" height="5" fill="none" stroke="#f2f2f2" stroke-width="1"/>
<polyline points="917,256 941,264.9 941,269.3" fill="none" stroke="#f2f2f2" stroke-width="1"/>
<circle cx="755" cy="240" r="6.2" fill="none" stroke="#f2f2f2" stroke-width="0.8"/>
<line x1="537.6" y1="269.5" x2="1029" y2="269.5" stroke="#f2f2f2" stroke-width="1.3"/>
<circle cx="662.2" cy="25" r="8.75" fill="none" stroke="#bcdad4" stroke-width="1"/>
<line x1="653.45" y1="25.5" x2="670.95" y2="25.5" stroke="#bcdad4" stroke-width="0.9"/>
<text x="662.2" y="23.4" font-size="6.5" fill="#f4f4f4" text-anchor="middle">1</text>
<text x="662.2" y="31.3" font-size="6" fill="#f4f4f4" text-anchor="middle" textLength="11.38" lengthAdjust="spacingAndGlyphs">M04</text>
<line x1="671" y1="25.5" x2="689" y2="25.5" stroke="#bcdad4" stroke-width="0.9"/>
<line x1="689.5" y1="25" x2="689.5" y2="110" stroke="#bcdad4" stroke-width="0.9"/>
<line x1="685.5" y1="103" x2="685.5" y2="110" stroke="#bcdad4" stroke-width="0.8"/>
<line x1="706.3" y1="32.9" x2="709.15" y2="32.26" stroke="#f4f4f4" stroke-width="0.95"/>
<line x1="706.5" y1="32.5" x2="706.5" y2="36.6" stroke="#f4f4f4" stroke-width="0.95"/>
<line x1="708.5" y1="31.6" x2="708.5" y2="35.78" stroke="#f4f4f4" stroke-width="0.95"/>
<line x1="706.3" y1="36.5" x2="709.15" y2="36.5" stroke="#f4f4f4" stroke-width="0.95"/>
<line x1="707.5" y1="32.6" x2="707.5" y2="36.1" stroke="#f4f4f4" stroke-width="0.95"/>
<line x1="710.45" y1="32.89" x2="713.3" y2="32.42" stroke="#f4f4f4" stroke-width="0.95"/>
<line x1="710.5" y1="32.43" x2="710.5" y2="36.6" stroke="#f4f4f4" stroke-width="0.95"/>
<line x1="712.5" y1="31.6" x2="712.5" y2="36.06" stroke="#f4f4f4" stroke-width="0.95"/>
<line x1="710.45" y1="36.5" x2="713.3" y2="36.5" stroke="#f4f4f4" stroke-width="0.95"/>
<line x1="711.5" y1="32.6" x2="711.5" y2="36.1" stroke="#f4f4f4" stroke-width="0.95"/>
<line x1="714.6" y1="32.32" x2="717.45" y2="32.34" stroke="#f4f4f4" stroke-width="0.95"/>
<line x1="714.5" y1="32.06" x2="714.5" y2="36.6" stroke="#f4f4f4" stroke-width="0.95"/>
<line x1="717.5" y1="31.6" x2="717.5" y2="36.25" stroke="#f4f4f4" stroke-width="0.95"/>
<line x1="714.6" y1="36.5" x2="717.45" y2="36.5" stroke="#f4f4f4" stroke-width="0.95"/>
<line x1="715.5" y1="32.6" x2="715.5" y2="36.1" stroke="#f4f4f4" stroke-width="0.95"/>
<line x1="718.75" y1="32.41" x2="721.6" y2="32.2" stroke="#f4f4f4" stroke-width="0.95"/>
<line x1="718.5" y1="32.44" x2="718.5" y2="36.6" stroke="#f4f4f4" stroke-width="0.95"/>
<line x1="721.5" y1="31.6" x2="721.5" y2="36.05" stroke="#f4f4f4" stroke-width="0.95"/>
<line x1="718.75" y1="36.5" x2="721.6" y2="36.5" stroke="#f4f4f4" stroke-width="0.95"/>
<line x1="720.5" y1="32.6" x2="720.5" y2="36.1" stroke="#f4f4f4" stroke-width="0.95"/>
<line x1="722.9" y1="32.75" x2="725.75" y2="32.61" stroke="#f4f4f4" stroke-width="0.95"/>
<line x1="723.5" y1="32.84" x2="723.5" y2="36.6" stroke="#f4f4f4" stroke-width="0.95"/>
<line x1="725.5" y1="31.6" x2="725.5" y2="35.59" stroke="#f4f4f4" stroke-width="0.95"/>
<line x1="724.5" y1="32.6" x2="724.5" y2="36.1" stroke="#f4f4f4" stroke-width="0.95"/>
<line x1="727.05" y1="32.82" x2="729.9" y2="32.9" stroke="#f4f4f4" stroke-width="0.95"/>
<line x1="727.5" y1="33.2" x2="727.5" y2="36.6" stroke="#f4f4f4" stroke-width="0.95"/>
<line x1="729.5" y1="31.6" x2="729.5" y2="36.01" stroke="#f4f4f4" stroke-width="0.95"/>
<line x1="727.05" y1="36.5" x2="729.9" y2="36.5" stroke="#f4f4f4" stroke-width="0.95"/>
<line x1="727.35" y1="34.1" x2="729.5" y2="34.37" stroke="#f4f4f4" stroke-width="0.95"/>
<line x1="694.6" y1="38.5" x2="730" y2="38.5" stroke="#bcdad4" stroke-width="0.9"/>
<line x1="694.5" y1="38.2" x2="694.5" y2="210" stroke="#bcdad4" stroke-width="0.9"/>
<line x1="628" y1="43.25" x2="630.9" y2="43.25" stroke="#f4f4f4" stroke-width="0.95"/>
<line x1="628.5" y1="43.02" x2="628.5" y2="47.6" stroke="#f4f4f4" stroke-width="0.95"/>
<line x1="630.5" y1="42.6" x2="630.5" y2="47.36" stroke="#f4f4f4" stroke-width="0.95"/>
<line x1="628.3" y1="45.1" x2="630.5" y2="44.1" stroke="#f4f4f4" stroke-width="0.95"/>
<line x1="632.2" y1="43.32" x2="635.1" y2="43.28" stroke="#f4f4f4" stroke-width="0.95"/>
<line x1="632.5" y1="43.33" x2="632.5" y2="47.6" stroke="#f4f4f4" stroke-width="0.95"/>
<line x1="634.5" y1="42.6" x2="634.5" y2="47.56" stroke="#f4f4f4" stroke-width="0.95"/>
<line x1="632.2" y1="47.5" x2="635.1" y2="47.5" stroke="#f4f4f4" stroke-width="0.95"/>
<line x1="633.5" y1="43.6" x2="633.5" y2="47.1" stroke="#f4f4f4" stroke-width="0.95"/>
<line x1="636.4" y1="43.32" x2="639.3" y2="43.4" stroke="#f4f4f4" stroke-width="0.95"/>
<line x1="636.5" y1="43.29" x2="636.5" y2="47.6" stroke="#f4f4f4" stroke-width="0.95"/>
<line x1="638.5" y1="42.6" x2="638.5" y2="47.05" stroke="#f4f4f4" stroke-width="0.95"/>
<line x1="637.5" y1="43.6" x2="637.5" y2="47.1" stroke="#f4f4f4" stroke-width="0.95"/>
<line x1="640.6" y1="43.99" x2="643.5" y2="43.57" stroke="#f4f4f4" stroke-width="0.95"/>
<line x1="640.5" y1="43.57" x2="640.5" y2="47.6" stroke="#f4f4f4" stroke-width="0.95"/>
<line x1="643.5" y1="42.6" x2="643.5" y2="47.47" stroke="#f4f4f4" stroke-width="0.95"/>
<line x1="640.9" y1="45.1" x2="643.1" y2="44.63" stroke="#f4f4f4" stroke-width="0.95"/>
<line x1="644.8" y1="43.86" x2="647.7" y2="43.33" stroke="#f4f4f4" stroke-width="0.95"/>
<line x1="645.5" y1="42.65" x2="645.5" y2="47.6" stroke="#f4f4f4" stroke-width="0.95"/>
<line x1="647.5" y1="42.6" x2="647.5" y2="46.17" stroke="#f4f4f4" stroke-width="0.95"/>
<line x1="644.8" y1="47.5" x2="647.7" y2="47.5" stroke="#f4f4f4" stroke-width="0.95"/>
<line x1="645.1" y1="45.1" x2="647.3" y2="45.19" stroke="#f4f4f4" stroke-width="0.95"/>
<line x1="649" y1="43.22" x2="651.9" y2="43.62" stroke="#f4f4f4" stroke-width="0.95"/>
<line x1="649.5" y1="44.56" x2="649.5" y2="47.6" stroke="#f4f4f4" stroke-width="0.95"/>
<line x1="651.5" y1="42.6" x2="651.5" y2="46.31" stroke="#f4f4f4" stroke-width="0.95"/>
<line x1="649" y1="47.5" x2="651.9" y2="47.5" stroke="#f4f4f4" stroke-width="0.95"/>
<line x1="649.3" y1="45.1" x2="651.5" y2="44.83" stroke="#f4f4f4" stroke-width="0.95"/>
<line x1="627.7" y1="49.5" x2="657.7" y2="49.5" stroke="#bcdad4" stroke-width="0.9"/>
<line x1="657.5" y1="49.2" x2="657.5" y2="199" stroke="#bcdad4" stroke-width="0.9"/>
<line x1="596.3" y1="54.33" x2="599.24" y2="54.82" stroke="#f4f4f4" stroke-width="0.95"/>
<line x1="596.5" y1="54.67" x2="596.5" y2="58.6" stroke="#f4f4f4" stroke-width="0.95"/>
<line x1="598.5" y1="53.6" x2="598.5" y2="57.43" stroke="#f4f4f4" stroke-width="0.95"/>
<line x1="596.6" y1="56.1" x2="598.84" y2="56.72" stroke="#f4f4f4" stroke-width="0.95"/>
<line x1="600.54" y1="54.99" x2="603.47" y2="54.88" stroke="#f4f4f4" stroke-width="0.95"/>
<line x1="600.5" y1="55.21" x2="600.5" y2="58.6" stroke="#f4f4f4" stroke-width="0.95"/>
<line x1="603.5" y1="53.6" x2="603.5" y2="57.37" stroke="#f4f4f4" stroke-width="0.95"/>
<line x1="600.54" y1="58.5" x2="603.47" y2="58.5" stroke="#f4f4f4" stroke-width="0.95"/>
<line x1="600.84" y1="56.1" x2="603.07" y2="56.14" stroke="#f4f4f4" stroke-width="0.95"/>
<line x1="604.77" y1="54.48" x2="607.71" y2="54.22" stroke="#f4f4f4" stroke-width="0.95"/>
<line x1="604.5" y1="53.66" x2="604.5" y2="58.6" stroke="#f4f4f4" stroke-width="0.95"/>
<line x1="607.5" y1="53.6" x2="607.5" y2="58.18" stroke="#f4f4f4" stroke-width="0.95"/>
<line x1="606.5" y1="54.6" x2="606.5" y2="58.1" stroke="#f4f4f4" stroke-width="0.95"/>
<line x1="609.01" y1="54.97" x2="611.95" y2="54.56" stroke="#f4f4f4" stroke-width="0.95"/>
<line x1="609.5" y1="55.47" x2="609.5" y2="58.6" stroke="#f4f4f4" stroke-width="0.95"/>
<line x1="611.5" y1="53.6" x2="611.5" y2="57.12" stroke="#f4f4f4" stroke-width="0.95"/>
<line x1="609.01" y1="58.5" x2="611.95" y2="58.5" stroke="#f4f4f4" stroke-width="0.95"/>
<line x1="609.31" y1="56.1" x2="611.55" y2="55.54" stroke="#f4f4f4" stroke-width="0.95"/>
<line x1="613.25" y1="54.38" x2="616.19" y2="54.36" stroke="#f4f4f4" stroke-width="0.95"/>
<line x1="613.5" y1="54.01" x2="613.5" y2="58.6" stroke="#f4f4f4" stroke-width="0.95"/>
<line x1="615.5" y1="53.6" x2="615.5" y2="57.66" stroke="#f4f4f4" stroke-width="0.95"/>
<line x1="613.25" y1="58.5" x2="616.19" y2="58.5" stroke="#f4f4f4" stroke-width="0.95"/>
<line x1="614.5" y1="54.6" x2="614.5" y2="58.1" stroke="#f4f4f4" stroke-width="0.95"/>
<line x1="617.49" y1="54.58" x2="620.42" y2="54.72" stroke="#f4f4f4" stroke-width="0.95"/>
<line x1="617.5" y1="55.2" x2="617.5" y2="58.6" stroke="#f4f4f4" stroke-width="0.95"/>
<line x1="620.5" y1="53.6" x2="620.5" y2="58.47" stroke="#f4f4f4" stroke-width="0.95"/>
<line x1="617.49" y1="58.5" x2="620.42" y2="58.5" stroke="#f4f4f4" stroke-width="0.95"/>
<line x1="618.5" y1="54.6" x2="618.5" y2="58.1" stroke="#f4f4f4" stroke-width="0.95"/>
<line x1="621.72" y1="54.83" x2="624.66" y2="54.8" stroke="#f4f4f4" stroke-width="0.95"/>
<line x1="621.5" y1="54.56" x2="621.5" y2="58.6" stroke="#f4f4f4" stroke-width="0.95"/>
<line x1="624.5" y1="53.6" x2="624.5" y2="58.33" stroke="#f4f4f4" stroke-width="0.95"/>
<line x1="621.72" y1="58.5" x2="624.66" y2="58.5" stroke="#f4f4f4" stroke-width="0.95"/>
<line x1="622.02" y1="56.1" x2="624.26" y2="56.7" stroke="#f4f4f4" stroke-width="0.95"/>
<line x1="625.96" y1="54.98" x2="628.9" y2="54.52" stroke="#f4f4f4" stroke-width="0.95"/>
<line x1="626.5" y1="54.4" x2="626.5" y2="58.6" stroke="#f4f4f4" stroke-width="0.95"/>
<line x1="628.5" y1="53.6" x2="628.5" y2="57.18" stroke="#f4f4f4" stroke-width="0.95"/>
<line x1="625.96" y1="58.5" x2="628.9" y2="58.5" stroke="#f4f4f4" stroke-width="0.95"/>
<line x1="626.26" y1="56.1" x2="628.5" y2="55.35" stroke="#f4f4f4" stroke-width="0.95"/>
<line x1="596" y1="60.5" x2="632" y2="60.5" stroke="#bcdad4" stroke-width="0.9"/>
<line x1="632.5" y1="60.2" x2="632.5" y2="234" stroke="#bcdad4" stroke-width="0.9"/>
<line x1="648.5" y1="124" x2="648.5" y2="250" stroke="#bcdad4" stroke-width="0.9"/>
<line x1="651.5" y1="124" x2="651.5" y2="132" stroke="#bcdad4" stroke-width="0.8"/>
<circle cx="614.6" cy="314.5" r="8.5" fill="none" stroke="#bcdad4" stroke-width="1"/>
<line x1="606.1" y1="314.5" x2="623.1" y2="314.5" stroke="#bcdad4" stroke-width="0.9"/>
<text x="614.6" y="312.9" font-size="6.5" fill="#f4f4f4" text-anchor="middle">1</text>
<text x="614.6" y="320.8" font-size="6" fill="#f4f4f4" text-anchor="middle" textLength="11.05" lengthAdjust="spacingAndGlyphs">M07</text>
<line x1="623.1" y1="314.5" x2="648.7" y2="314.5" stroke="#bcdad4" stroke-width="0.9"/>
<line x1="648.5" y1="314.5" x2="648.5" y2="250" stroke="#bcdad4" stroke-width="0.9"/>
<circle cx="712.3" cy="282.5" r="8.5" fill="none" stroke="#bcdad4" stroke-width="1"/>
<line x1="703.8" y1="282.5" x2="720.8" y2="282.5" stroke="#bcdad4" stroke-width="0.9"/>
<text x="712.3" y="280.9" font-size="6.5" fill="#f4f4f4" text-anchor="middle">2</text>
<text x="712.3" y="288.8" font-size="6" fill="#f4f4f4" text-anchor="middle" textLength="11.05" lengthAdjust="spacingAndGlyphs">M04</text>
<line x1="703.8" y1="282.5" x2="684.5" y2="282.5" stroke="#bcdad4" stroke-width="0.9"/>
<line x1="684.5" y1="282.5" x2="684.5" y2="252" stroke="#bcdad4" stroke-width="0.9"/>
<circle cx="783.7" cy="285.8" r="8.8" fill="none" stroke="#bcdad4" stroke-width="1"/>
<line x1="774.9" y1="285.5" x2="792.5" y2="285.5" stroke="#bcdad4" stroke-width="0.9"/>
<text x="783.7" y="284.2" font-size="6.5" fill="#f4f4f4" text-anchor="middle">4</text>
<text x="783.7" y="292.1" font-size="6" fill="#f4f4f4" text-anchor="middle" textLength="11.44" lengthAdjust="spacingAndGlyphs">M04</text>
<line x1="774.9" y1="286.5" x2="753.4" y2="286.5" stroke="#bcdad4" stroke-width="0.9"/>
<line x1="753.5" y1="286.3" x2="753.5" y2="245" stroke="#bcdad4" stroke-width="0.9"/>
<circle cx="814.2" cy="283.3" r="8.8" fill="none" stroke="#bcdad4" stroke-width="1"/>
<line x1="805.4" y1="283.5" x2="823" y2="283.5" stroke="#bcdad4" stroke-width="0.9"/>
<text x="814.2" y="281.7" font-size="6.5" fill="#f4f4f4" text-anchor="middle">1</text>
<text x="814.2" y="289.6" font-size="6" fill="#f4f4f4" text-anchor="middle" textLength="11.44" lengthAdjust="spacingAndGlyphs">M02</text>
<line x1="823" y1="283.5" x2="835.7" y2="283.5" stroke="#bcdad4" stroke-width="0.9"/>
<line x1="835.5" y1="283.8" x2="835.5" y2="250" stroke="#bcdad4" stroke-width="0.9"/>
<circle cx="834.2" cy="303.5" r="8.8" fill="none" stroke="#bcdad4" stroke-width="1"/>
<line x1="825.4" y1="303.5" x2="843" y2="303.5" stroke="#bcdad4" stroke-width="0.9"/>
<text x="834.2" y="301.9" font-size="6.5" fill="#f4f4f4" text-anchor="middle">2</text>
<text x="834.2" y="309.8" font-size="6" fill="#f4f4f4" text-anchor="middle" textLength="11.44" lengthAdjust="spacingAndGlyphs">M04</text>
<line x1="843" y1="304.5" x2="863.5" y2="304.5" stroke="#bcdad4" stroke-width="0.9"/>
<line x1="863.5" y1="304.5" x2="863.5" y2="252" stroke="#bcdad4" stroke-width="0.9"/>
<circle cx="893.8" cy="106.2" r="8.6" fill="none" stroke="#bcdad4" stroke-width="1"/>
<line x1="885.2" y1="106.5" x2="902.4" y2="106.5" stroke="#bcdad4" stroke-width="0.9"/>
<text x="893.8" y="104.6" font-size="6.5" fill="#f4f4f4" text-anchor="middle">5</text>
<text x="893.8" y="112.5" font-size="6" fill="#f4f4f4" text-anchor="middle" textLength="11.18" lengthAdjust="spacingAndGlyphs">M04</text>
<line x1="885.2" y1="106.5" x2="873.8" y2="106.5" stroke="#bcdad4" stroke-width="0.9"/>
<line x1="873.5" y1="106.2" x2="873.5" y2="146" stroke="#bcdad4" stroke-width="0.9"/>
<line x1="870.5" y1="140" x2="870.5" y2="148" stroke="#bcdad4" stroke-width="0.8"/>
<line x1="808.8" y1="43.42" x2="811.72" y2="44.02" stroke="#f4f4f4" stroke-width="0.95"/>
<line x1="809.5" y1="44.31" x2="809.5" y2="47.7" stroke="#f4f4f4" stroke-width="0.95"/>
<line x1="811.5" y1="42.7" x2="811.5" y2="47.48" stroke="#f4f4f4" stroke-width="0.95"/>
<line x1="808.8" y1="47.5" x2="811.72" y2="47.5" stroke="#f4f4f4" stroke-width="0.95"/>
<line x1="810.5" y1="43.7" x2="810.5" y2="47.2" stroke="#f4f4f4" stroke-width="0.95"/>
<line x1="813.02" y1="43.83" x2="815.93" y2="43.58" stroke="#f4f4f4" stroke-width="0.95"/>
<line x1="813.5" y1="43.8" x2="813.5" y2="47.7" stroke="#f4f4f4" stroke-width="0.95"/>
<line x1="815.5" y1="42.7" x2="815.5" y2="47.5" stroke="#f4f4f4" stroke-width="0.95"/>
<line x1="814.5" y1="43.7" x2="814.5" y2="47.2" stroke="#f4f4f4" stroke-width="0.95"/>
<line x1="817.23" y1="43.82" x2="820.15" y2="43.72" stroke="#f4f4f4" stroke-width="0.95"/>
<line x1="817.5" y1="44.57" x2="817.5" y2="47.7" stroke="#f4f4f4" stroke-width="0.95"/>
<line x1="819.5" y1="42.7" x2="819.5" y2="47.05" stroke="#f4f4f4" stroke-width="0.95"/>
<line x1="817.23" y1="47.5" x2="820.15" y2="47.5" stroke="#f4f4f4" stroke-width="0.95"/>
<line x1="818.5" y1="43.7" x2="818.5" y2="47.2" stroke="#f4f4f4" stroke-width="0.95"/>
<line x1="821.45" y1="43.47" x2="824.37" y2="43.5" stroke="#f4f4f4" stroke-width="0.95"/>
<line x1="821.5" y1="43.29" x2="821.5" y2="47.7" stroke="#f4f4f4" stroke-width="0.95"/>
<line x1="823.5" y1="42.7" x2="823.5" y2="47.34" stroke="#f4f4f4" stroke-width="0.95"/>
<line x1="821.45" y1="47.5" x2="824.37" y2="47.5" stroke="#f4f4f4" stroke-width="0.95"/>
<line x1="821.75" y1="45.2" x2="823.97" y2="45.04" stroke="#f4f4f4" stroke-width="0.95"/>
<line x1="825.67" y1="43.4" x2="828.58" y2="44.03" stroke="#f4f4f4" stroke-width="0.95"/>
<line x1="825.5" y1="43.41" x2="825.5" y2="47.7" stroke="#f4f4f4" stroke-width="0.95"/>
<line x1="828.5" y1="42.7" x2="828.5" y2="47.01" stroke="#f4f4f4" stroke-width="0.95"/>
<line x1="825.67" y1="47.5" x2="828.58" y2="47.5" stroke="#f4f4f4" stroke-width="0.95"/>
<line x1="826.5" y1="43.7" x2="826.5" y2="47.2" stroke="#f4f4f4" stroke-width="0.95"/>
<line x1="829.88" y1="43.64" x2="832.8" y2="44.03" stroke="#f4f4f4" stroke-width="0.95"/>
<line x1="830.5" y1="43.7" x2="830.5" y2="47.7" stroke="#f4f4f4" stroke-width="0.95"/>
<line x1="832.5" y1="42.7" x2="832.5" y2="46.9" stroke="#f4f4f4" stroke-width="0.95"/>
<line x1="829.88" y1="47.5" x2="832.8" y2="47.5" stroke="#f4f4f4" stroke-width="0.95"/>
<line x1="830.18" y1="45.2" x2="832.4" y2="45.08" stroke="#f4f4f4" stroke-width="0.95"/>
<line x1="808.5" y1="49.5" x2="838.8" y2="49.5" stroke="#bcdad4" stroke-width="0.9"/>
<line x1="838.5" y1="49.3" x2="838.5" y2="240" stroke="#bcdad4" stroke-width="0.9"/>
<line x1="835.5" y1="62" x2="835.5" y2="110" stroke="#bcdad4" stroke-width="0.8"/>
<line x1="619.5" y1="269.3" x2="619.5" y2="287.8" stroke="#bcdad4" stroke-width="0.9"/>
<circle cx="619.6" cy="294.3" r="6.5" fill="none" stroke="#d6e2de" stroke-width="1"/>
<text x="619.6" y="297.5" font-size="8.5" fill="#f4f4f4" text-anchor="middle">1</text>
<line x1="886.5" y1="269.3" x2="886.5" y2="288.2" stroke="#bcdad4" stroke-width="0.9"/>
<circle cx="886.8" cy="295.2" r="7" fill="none" stroke="#d6e2de" stroke-width="1"/>
<text x="886.8" y="298.4" font-size="8.5" fill="#f4f4f4" text-anchor="middle">6</text>
<circle cx="678.7" cy="309.2" r="7" fill="none" stroke="#d6e2de" stroke-width="1"/>
<text x="678.7" y="312.4" font-size="8.5" fill="#f4f4f4" text-anchor="middle">1</text>
<line x1="688.2" y1="309.5" x2="695.7" y2="309.5" stroke="#f2f2f2" stroke-width="1.3"/>
<circle cx="708" cy="309.2" r="7" fill="none" stroke="#d6e2de" stroke-width="1"/>
<text x="708" y="312.4" font-size="8.5" fill="#f4f4f4" text-anchor="middle">6</text>
<polyline points="721.92,308.73 724.81,308.73" fill="none" stroke="#f2f2f2" stroke-width="1.4"/>
<polyline points="723.18,306.55 722.44,311.03" fill="none" stroke="#f2f2f2" stroke-width="1.4"/>
<polyline points="722.44,311.03 724.66,311.03" fill="none" stroke="#f2f2f2" stroke-width="1.4"/>
<polyline points="722.14,313.79 724.81,313.1" fill="none" stroke="#f2f2f2" stroke-width="1.4"/>
<polyline points="723.48,309.19 723.48,317.47" fill="none" stroke="#f2f2f2" stroke-width="1.4"/>
<polyline points="725.4,309.65 728.8,309.65 728.8,317.24 725.4,317.24 725.4,309.65" fill="none" stroke="#f2f2f2" stroke-width="1.4"/>
<polyline points="727.1,306.43 727.1,317.24" fill="none" stroke="#f2f2f2" stroke-width="1.4"/>
<polyline points="725.4,313.44 728.8,313.44" fill="none" stroke="#f2f2f2" stroke-width="1.4"/>
<polyline points="733.8,306.2 734.1,308.04" fill="none" stroke="#f2f2f2" stroke-width="1.4"/>
<polyline points="730.99,309.19 736.61,309.19" fill="none" stroke="#f2f2f2" stroke-width="1.4"/>
<polyline points="732.32,311.03 733.06,315.63" fill="none" stroke="#f2f2f2" stroke-width="1.4"/>
<polyline points="735.43,310.8 734.54,315.86" fill="none" stroke="#f2f2f2" stroke-width="1.4"/>
<polyline points="730.32,317.01 737.28,317.01" fill="none" stroke="#f2f2f2" stroke-width="1.4"/>
<polyline points="738.72,307.12 745.68,307.12" fill="none" stroke="#f2f2f2" stroke-width="1.4"/>
<polyline points="742.2,307.12 741.76,309.42" fill="none" stroke="#f2f2f2" stroke-width="1.4"/>
<polyline points="739.24,309.42 745.16,309.42 745.16,317.47 739.24,317.47 739.24,309.42" fill="none" stroke="#f2f2f2" stroke-width="1.4"/>
<polyline points="741.16,309.42 741.16,317.47" fill="none" stroke="#f2f2f2" stroke-width="1.4"/>
<polyline points="743.24,309.42 743.24,317.47" fill="none" stroke="#f2f2f2" stroke-width="1.4"/>
<polyline points="741.16,312.18 743.24,312.18" fill="none" stroke="#f2f2f2" stroke-width="1.4"/>
<polyline points="741.16,314.71 743.24,314.71" fill="none" stroke="#f2f2f2" stroke-width="1.4"/>
<polyline points="747.49,306.66 753.71,306.66 753.71,317.47 747.49,317.47 747.49,306.66" fill="none" stroke="#f2f2f2" stroke-width="1.4"/>
<polyline points="749.71,308.04 751.78,308.04 748.82,312.41" fill="none" stroke="#f2f2f2" stroke-width="1.4"/>
<polyline points="749.86,309.65 752.52,312.41" fill="none" stroke="#f2f2f2" stroke-width="1.4"/>
<polyline points="750.16,313.56 751.19,314.25" fill="none" stroke="#f2f2f2" stroke-width="1.4"/>
<polyline points="749.71,315.63 751.49,316.32" fill="none" stroke="#f2f2f2" stroke-width="1.4"/>
<text x="796.8" y="317.5" font-size="6" fill="#f4f4f4" text-anchor="start" textLength="13" lengthAdjust="spacingAndGlyphs">1:100</text>
<line x1="670.8" y1="319.5" x2="831" y2="319.5" stroke="#bcdad4" stroke-width="1.3"/>
<line x1="670.8" y1="322.5" x2="831" y2="322.5" stroke="#bcdad4" stroke-width="0.9"/>
<line x1="709" y1="66.5" x2="741.5" y2="66.5" stroke="#f2f2f2" stroke-width="0.9"/>
<polyline points="731,66.2 736.5,71.2 742,66.2" fill="none" stroke="#f2f2f2" stroke-width="0.9"/>
<text x="709" y="65.2" font-size="7" fill="#f4f4f4" text-anchor="start" textLength="11" lengthAdjust="spacingAndGlyphs">10.5</text>
<line x1="760" y1="58.5" x2="791.7" y2="58.5" stroke="#f2f2f2" stroke-width="0.9"/>
<polyline points="780.5,58.4 786,63.4 791.5,58.4" fill="none" stroke="#f2f2f2" stroke-width="0.9"/>
<text x="760" y="57.4" font-size="7" fill="#f4f4f4" text-anchor="start" textLength="10.4" lengthAdjust="spacingAndGlyphs">15.0</text>
<line x1="811.4" y1="73.5" x2="840" y2="73.5" stroke="#f2f2f2" stroke-width="0.9"/>
<polyline points="811.2,73.2 816.7,78.2 822.2,73.2" fill="none" stroke="#f2f2f2" stroke-width="0.9"/>
<text x="831.9" y="72.2" font-size="7" fill="#f4f4f4" text-anchor="start" textLength="10.4" lengthAdjust="spacingAndGlyphs">10.1</text>
<line x1="691" y1="100.5" x2="710.6" y2="100.5" stroke="#f2f2f2" stroke-width="0.9"/>
<polyline points="699.5,100.6 705,105.6 710.5,100.6" fill="none" stroke="#f2f2f2" stroke-width="0.9"/>
<text x="691" y="99.6" font-size="7" fill="#f4f4f4" text-anchor="start" textLength="7.8" lengthAdjust="spacingAndGlyphs">8.6</text>
<line x1="691" y1="136.5" x2="710.6" y2="136.5" stroke="#f2f2f2" stroke-width="0.9"/>
<polyline points="699.5,136.4 705,141.4 710.5,136.4" fill="none" stroke="#f2f2f2" stroke-width="0.9"/>
<text x="691" y="135.4" font-size="7" fill="#f4f4f4" text-anchor="start" textLength="7.8" lengthAdjust="spacingAndGlyphs">6.8</text>
<line x1="691" y1="154.5" x2="710.6" y2="154.5" stroke="#f2f2f2" stroke-width="0.9"/>
<polyline points="699.5,154.4 705,159.4 710.5,154.4" fill="none" stroke="#f2f2f2" stroke-width="0.9"/>
<text x="691" y="153.4" font-size="7" fill="#f4f4f4" text-anchor="start" textLength="7.8" lengthAdjust="spacingAndGlyphs">5.6</text>
<line x1="691" y1="189.5" x2="710.6" y2="189.5" stroke="#f2f2f2" stroke-width="0.9"/>
<polyline points="699.5,189 705,194 710.5,189" fill="none" stroke="#f2f2f2" stroke-width="0.9"/>
<text x="691" y="188" font-size="7" fill="#f4f4f4" text-anchor="start" textLength="7.8" lengthAdjust="spacingAndGlyphs">1.6</text>
<line x1="691" y1="206.5" x2="710.6" y2="206.5" stroke="#f2f2f2" stroke-width="0.9"/>
<polyline points="699.5,206.5 705,211.5 710.5,206.5" fill="none" stroke="#f2f2f2" stroke-width="0.9"/>
<text x="691" y="205.5" font-size="7" fill="#f4f4f4" text-anchor="start" textLength="7.8" lengthAdjust="spacingAndGlyphs">1.6</text>
<line x1="690" y1="235.5" x2="711.3" y2="235.5" stroke="#f2f2f2" stroke-width="0.9"/>
<polyline points="689.9,235.3 695.4,240.3 700.9,235.3" fill="none" stroke="#f2f2f2" stroke-width="0.9"/>
<text x="701.7" y="234.3" font-size="7" fill="#f4f4f4" text-anchor="start" textLength="10.4" lengthAdjust="spacingAndGlyphs">1.05</text>
<line x1="892.2" y1="128.5" x2="921.3" y2="128.5" stroke="#f2f2f2" stroke-width="0.9"/>
<polyline points="893,128.2 898.5,133.2 904,128.2" fill="none" stroke="#f2f2f2" stroke-width="0.9"/>
<text x="910" y="127.2" font-size="7" fill="#f4f4f4" text-anchor="start" textLength="11.3" lengthAdjust="spacingAndGlyphs">7.05</text>
<line x1="760.4" y1="231.5" x2="781" y2="231.5" stroke="#f2f2f2" stroke-width="0.9"/>
<polyline points="760,231.5 765.5,236.5 771,231.5" fill="none" stroke="#f2f2f2" stroke-width="0.9"/>
<text x="771.8" y="230.5" font-size="7" fill="#f4f4f4" text-anchor="start" textLength="10.4" lengthAdjust="spacingAndGlyphs">1.25</text>
<line x1="920.9" y1="231.5" x2="942.3" y2="231.5" stroke="#f2f2f2" stroke-width="0.9"/>
<polyline points="920.5,231.5 926,236.5 931.5,231.5" fill="none" stroke="#f2f2f2" stroke-width="0.9"/>
<text x="932.2" y="230.5" font-size="7" fill="#f4f4f4" text-anchor="start" textLength="10.4" lengthAdjust="spacingAndGlyphs">1.25</text>
<line x1="1009.7" y1="84.5" x2="1042" y2="84.5" stroke="#f2f2f2" stroke-width="0.9"/>
<polyline points="1009.7,84.5 1015.37,89.7 1019.5,84.5" fill="none" stroke="#f2f2f2" stroke-width="0.9"/>
<line x1="1015.37" y1="89.5" x2="1020.16" y2="89.5" stroke="#f2f2f2" stroke-width="0.9"/>
<text x="1026.5" y="83.3" font-size="7" fill="#f4f4f4" text-anchor="start" textLength="15" lengthAdjust="spacingAndGlyphs">9.500</text>
<line x1="1009.7" y1="104.5" x2="1042" y2="104.5" stroke="#f2f2f2" stroke-width="0.9"/>
<polyline points="1009.7,104 1015.37,98.5 1020,104" fill="none" stroke="#f2f2f2" stroke-width="0.9"/>
<line x1="1015.37" y1="98.5" x2="1019.87" y2="98.5" stroke="#f2f2f2" stroke-width="0.9"/>
<text x="1026.5" y="110.5" font-size="7" fill="#f4f4f4" text-anchor="start" textLength="15" lengthAdjust="spacingAndGlyphs">9.000</text>
<line x1="1009.7" y1="146.5" x2="1042" y2="146.5" stroke="#f2f2f2" stroke-width="0.9"/>
<polyline points="1009.7,146.9 1015.37,152.1 1019.5,146.9" fill="none" stroke="#f2f2f2" stroke-width="0.9"/>
<line x1="1015.37" y1="152.5" x2="1020.16" y2="152.5" stroke="#f2f2f2" stroke-width="0.9"/>
<text x="1026.5" y="145.7" font-size="7" fill="#f4f4f4" text-anchor="start" textLength="15" lengthAdjust="spacingAndGlyphs">6.000</text>
<line x1="1009.7" y1="200.5" x2="1042" y2="200.5" stroke="#f2f2f2" stroke-width="0.9"/>
<polyline points="1009.7,200.4 1015.37,205.6 1019.5,200.4" fill="none" stroke="#f2f2f2" stroke-width="0.9"/>
<line x1="1015.37" y1="205.5" x2="1020.16" y2="205.5" stroke="#f2f2f2" stroke-width="0.9"/>
<text x="1026.5" y="199.2" font-size="7" fill="#f4f4f4" text-anchor="start" textLength="15" lengthAdjust="spacingAndGlyphs">3.000</text>
<line x1="1009.7" y1="253.5" x2="1042" y2="253.5" stroke="#f2f2f2" stroke-width="0.9"/>
<polyline points="1009.7,253.3 1015.37,258.5 1019.5,253.3" fill="none" stroke="#f2f2f2" stroke-width="0.9"/>
<line x1="1015.37" y1="258.5" x2="1020.16" y2="258.5" stroke="#f2f2f2" stroke-width="0.9"/>
<text x="1026.5" y="252.1" font-size="7" fill="#f4f4f4" text-anchor="start" textLength="15" lengthAdjust="spacingAndGlyphs">0.000</text>
<line x1="1009.5" y1="274.5" x2="1029" y2="274.5" stroke="#f2f2f2" stroke-width="0.9"/>
<polyline points="1009.5,274.7 1015,269.6 1020.5,274.7" fill="none" stroke="#f2f2f2" stroke-width="0.9"/>
<text x="1030" y="281" font-size="7" fill="#f4f4f4" text-anchor="start" textLength="11.5" lengthAdjust="spacingAndGlyphs">-0.6</text>
<line x1="558.2" y1="89.5" x2="612.2" y2="89.5" stroke="#bcdad4" stroke-width="1"/>
<line x1="564.5" y1="89.3" x2="564.5" y2="269.3" stroke="#bcdad4" stroke-width="1"/>
<line x1="560" y1="98.5" x2="572" y2="98.5" stroke="#bcdad4" stroke-width="1"/>
<line x1="560" y1="259.5" x2="572" y2="259.5" stroke="#bcdad4" stroke-width="1"/>
<line x1="560" y1="269.5" x2="572" y2="269.5" stroke="#bcdad4" stroke-width="1"/>
<text x="563.2" y="93.95" font-size="7" fill="#f4f4f4" text-anchor="middle" textLength="8.8" lengthAdjust="spacingAndGlyphs" transform="rotate(-90 563.2 93.95)">500</text>
<text x="563.2" y="179.15" font-size="7" fill="#f4f4f4" text-anchor="middle" textLength="12.4" lengthAdjust="spacingAndGlyphs" transform="rotate(-90 563.2 179.15)">9000</text>
<text x="563.2" y="264.5" font-size="7" fill="#f4f4f4" text-anchor="middle" textLength="9.1" lengthAdjust="spacingAndGlyphs" transform="rotate(-90 563.2 264.5)">600</text>
<line x1="581.5" y1="89.3" x2="581.5" y2="269.3" stroke="#bcdad4" stroke-width="1"/>
<line x1="577.7" y1="98.5" x2="589.7" y2="98.5" stroke="#bcdad4" stroke-width="1"/>
<line x1="577.7" y1="152.5" x2="589.7" y2="152.5" stroke="#bcdad4" stroke-width="1"/>
<line x1="577.7" y1="205.5" x2="589.7" y2="205.5" stroke="#bcdad4" stroke-width="1"/>
<line x1="577.7" y1="259.5" x2="589.7" y2="259.5" stroke="#bcdad4" stroke-width="1"/>
<line x1="577.7" y1="269.5" x2="589.7" y2="269.5" stroke="#bcdad4" stroke-width="1"/>
<text x="580.9" y="93.95" font-size="7" fill="#f4f4f4" text-anchor="middle" textLength="8.8" lengthAdjust="spacingAndGlyphs" transform="rotate(-90 580.9 93.95)">500</text>
<text x="580.9" y="125.6" font-size="7" fill="#f4f4f4" text-anchor="middle" textLength="12.4" lengthAdjust="spacingAndGlyphs" transform="rotate(-90 580.9 125.6)">3000</text>
<text x="580.9" y="179.05" font-size="7" fill="#f4f4f4" text-anchor="middle" textLength="12.4" lengthAdjust="spacingAndGlyphs" transform="rotate(-90 580.9 179.05)">3000</text>
<text x="580.9" y="232.6" font-size="7" fill="#f4f4f4" text-anchor="middle" textLength="12.4" lengthAdjust="spacingAndGlyphs" transform="rotate(-90 580.9 232.6)">3000</text>
<text x="580.9" y="264.5" font-size="7" fill="#f4f4f4" text-anchor="middle" textLength="9.1" lengthAdjust="spacingAndGlyphs" transform="rotate(-90 580.9 264.5)">600</text>
<line x1="598.5" y1="89.3" x2="598.5" y2="269.3" stroke="#bcdad4" stroke-width="1"/>
<line x1="594.7" y1="98.5" x2="606.7" y2="98.5" stroke="#bcdad4" stroke-width="1"/>
<line x1="594.7" y1="105.5" x2="606.7" y2="105.5" stroke="#bcdad4" stroke-width="1"/>
<line x1="594.7" y1="141.5" x2="606.7" y2="141.5" stroke="#bcdad4" stroke-width="1"/>
<line x1="594.7" y1="152.5" x2="606.7" y2="152.5" stroke="#bcdad4" stroke-width="1"/>
<line x1="594.7" y1="159.5" x2="606.7" y2="159.5" stroke="#bcdad4" stroke-width="1"/>
<line x1="594.7" y1="194.5" x2="606.7" y2="194.5" stroke="#bcdad4" stroke-width="1"/>
<line x1="594.7" y1="205.5" x2="606.7" y2="205.5" stroke="#bcdad4" stroke-width="1"/>
<line x1="594.7" y1="213.5" x2="606.7" y2="213.5" stroke="#bcdad4" stroke-width="1"/>
<line x1="594.7" y1="248.5" x2="606.7" y2="248.5" stroke="#bcdad4" stroke-width="1"/>
<line x1="594.7" y1="259.5" x2="606.7" y2="259.5" stroke="#bcdad4" stroke-width="1"/>
<text x="597.9" y="93.95" font-size="7" fill="#f4f4f4" text-anchor="middle" textLength="8.8" lengthAdjust="spacingAndGlyphs" transform="rotate(-90 597.9 93.95)">500</text>
<text x="597.9" y="102.15" font-size="7" fill="#f4f4f4" text-anchor="middle" textLength="6.6" lengthAdjust="spacingAndGlyphs" transform="rotate(-90 597.9 102.15)">400</text>
<text x="597.9" y="123.75" font-size="7" fill="#f4f4f4" text-anchor="middle" textLength="12.4" lengthAdjust="spacingAndGlyphs" transform="rotate(-90 597.9 123.75)">2100</text>
<text x="597.9" y="147.2" font-size="7" fill="#f4f4f4" text-anchor="middle" textLength="9.3" lengthAdjust="spacingAndGlyphs" transform="rotate(-90 597.9 147.2)">600</text>
<text x="597.9" y="156.2" font-size="7" fill="#f4f4f4" text-anchor="middle" textLength="6.7" lengthAdjust="spacingAndGlyphs" transform="rotate(-90 597.9 156.2)">400</text>
<text x="597.9" y="176.9" font-size="7" fill="#f4f4f4" text-anchor="middle" textLength="12.4" lengthAdjust="spacingAndGlyphs" transform="rotate(-90 597.9 176.9)">2100</text>
<text x="597.9" y="199.75" font-size="7" fill="#f4f4f4" text-anchor="middle" textLength="9.3" lengthAdjust="spacingAndGlyphs" transform="rotate(-90 597.9 199.75)">600</text>
<text x="597.9" y="209.25" font-size="7" fill="#f4f4f4" text-anchor="middle" textLength="7" lengthAdjust="spacingAndGlyphs" transform="rotate(-90 597.9 209.25)">400</text>
<text x="597.9" y="230.7" font-size="7" fill="#f4f4f4" text-anchor="middle" textLength="12.4" lengthAdjust="spacingAndGlyphs" transform="rotate(-90 597.9 230.7)">2000</text>
<text x="597.9" y="254.05" font-size="7" fill="#f4f4f4" text-anchor="middle" textLength="9.3" lengthAdjust="spacingAndGlyphs" transform="rotate(-90 597.9 254.05)">600</text>
<text x="597.9" y="264.5" font-size="7" fill="#f4f4f4" text-anchor="middle" textLength="9.1" lengthAdjust="spacingAndGlyphs" transform="rotate(-90 597.9 264.5)">600</text>
<line x1="941" y1="89.5" x2="1001.4" y2="89.5" stroke="#bcdad4" stroke-width="1"/>
<line x1="959.5" y1="89.1" x2="959.5" y2="269.3" stroke="#bcdad4" stroke-width="1"/>
<line x1="955.4" y1="98.5" x2="967.4" y2="98.5" stroke="#bcdad4" stroke-width="1"/>
<line x1="955.4" y1="105.5" x2="967.4" y2="105.5" stroke="#bcdad4" stroke-width="1"/>
<line x1="955.4" y1="141.5" x2="967.4" y2="141.5" stroke="#bcdad4" stroke-width="1"/>
<line x1="955.4" y1="152.5" x2="967.4" y2="152.5" stroke="#bcdad4" stroke-width="1"/>
<line x1="955.4" y1="159.5" x2="967.4" y2="159.5" stroke="#bcdad4" stroke-width="1"/>
<line x1="955.4" y1="194.5" x2="967.4" y2="194.5" stroke="#bcdad4" stroke-width="1"/>
<line x1="955.4" y1="205.5" x2="967.4" y2="205.5" stroke="#bcdad4" stroke-width="1"/>
<line x1="955.4" y1="212.5" x2="967.4" y2="212.5" stroke="#bcdad4" stroke-width="1"/>
<line x1="955.4" y1="248.5" x2="967.4" y2="248.5" stroke="#bcdad4" stroke-width="1"/>
<line x1="955.4" y1="259.5" x2="967.4" y2="259.5" stroke="#bcdad4" stroke-width="1"/>
<text x="958.6" y="93.85" font-size="7" fill="#f4f4f4" text-anchor="middle" textLength="9" lengthAdjust="spacingAndGlyphs" transform="rotate(-90 958.6 93.85)">500</text>
<text x="958.6" y="102.15" font-size="7" fill="#f4f4f4" text-anchor="middle" textLength="6.6" lengthAdjust="spacingAndGlyphs" transform="rotate(-90 958.6 102.15)">400</text>
<text x="958.6" y="123.75" font-size="7" fill="#f4f4f4" text-anchor="middle" textLength="12.4" lengthAdjust="spacingAndGlyphs" transform="rotate(-90 958.6 123.75)">2100</text>
<text x="958.6" y="147.2" font-size="7" fill="#f4f4f4" text-anchor="middle" textLength="9.3" lengthAdjust="spacingAndGlyphs" transform="rotate(-90 958.6 147.2)">600</text>
<text x="958.6" y="156.2" font-size="7" fill="#f4f4f4" text-anchor="middle" textLength="6.7" lengthAdjust="spacingAndGlyphs" transform="rotate(-90 958.6 156.2)">400</text>
<text x="958.6" y="177.2" font-size="7" fill="#f4f4f4" text-anchor="middle" textLength="12.4" lengthAdjust="spacingAndGlyphs" transform="rotate(-90 958.6 177.2)">2100</text>
<text x="958.6" y="200" font-size="7" fill="#f4f4f4" text-anchor="middle" textLength="10.3" lengthAdjust="spacingAndGlyphs" transform="rotate(-90 958.6 200)">1000</text>
<text x="958.6" y="208.85" font-size="7" fill="#f4f4f4" text-anchor="middle" textLength="6.4" lengthAdjust="spacingAndGlyphs" transform="rotate(-90 958.6 208.85)">400</text>
<text x="958.6" y="230.3" font-size="7" fill="#f4f4f4" text-anchor="middle" textLength="12.4" lengthAdjust="spacingAndGlyphs" transform="rotate(-90 958.6 230.3)">2100</text>
<text x="958.6" y="253.7" font-size="7" fill="#f4f4f4" text-anchor="middle" textLength="9.3" lengthAdjust="spacingAndGlyphs" transform="rotate(-90 958.6 253.7)">600</text>
<text x="958.6" y="264.2" font-size="7" fill="#f4f4f4" text-anchor="middle" textLength="9.3" lengthAdjust="spacingAndGlyphs" transform="rotate(-90 958.6 264.2)">600</text>
<line x1="977.5" y1="89.1" x2="977.5" y2="269.3" stroke="#bcdad4" stroke-width="1"/>
<line x1="973.5" y1="98.5" x2="985.5" y2="98.5" stroke="#bcdad4" stroke-width="1"/>
<line x1="973.5" y1="152.5" x2="985.5" y2="152.5" stroke="#bcdad4" stroke-width="1"/>
<line x1="973.5" y1="205.5" x2="985.5" y2="205.5" stroke="#bcdad4" stroke-width="1"/>
<line x1="973.5" y1="259.5" x2="985.5" y2="259.5" stroke="#bcdad4" stroke-width="1"/>
<text x="976.7" y="93.85" font-size="7" fill="#f4f4f4" text-anchor="middle" textLength="9" lengthAdjust="spacingAndGlyphs" transform="rotate(-90 976.7 93.85)">500</text>
<text x="976.7" y="125.6" font-size="7" fill="#f4f4f4" text-anchor="middle" textLength="12.4" lengthAdjust="spacingAndGlyphs" transform="rotate(-90 976.7 125.6)">3000</text>
<text x="976.7" y="179" font-size="7" fill="#f4f4f4" text-anchor="middle" textLength="12.4" lengthAdjust="spacingAndGlyphs" transform="rotate(-90 976.7 179)">3000</text>
<text x="976.7" y="232.25" font-size="7" fill="#f4f4f4" text-anchor="middle" textLength="12.4" lengthAdjust="spacingAndGlyphs" transform="rotate(-90 976.7 232.25)">3000</text>
<text x="976.7" y="264.2" font-size="7" fill="#f4f4f4" text-anchor="middle" textLength="9.3" lengthAdjust="spacingAndGlyphs" transform="rotate(-90 976.7 264.2)">600</text>
<line x1="995.5" y1="89.1" x2="995.5" y2="269.3" stroke="#bcdad4" stroke-width="1"/>
<line x1="991.1" y1="98.5" x2="1003.1" y2="98.5" stroke="#bcdad4" stroke-width="1"/>
<line x1="991.1" y1="259.5" x2="1003.1" y2="259.5" stroke="#bcdad4" stroke-width="1"/>
<text x="994.3" y="93.85" font-size="7" fill="#f4f4f4" text-anchor="middle" textLength="9" lengthAdjust="spacingAndGlyphs" transform="rotate(-90 994.3 93.85)">500</text>
<text x="994.3" y="178.85" font-size="7" fill="#f4f4f4" text-anchor="middle" textLength="12.4" lengthAdjust="spacingAndGlyphs" transform="rotate(-90 994.3 178.85)">9000</text>
<text x="994.3" y="264.2" font-size="7" fill="#f4f4f4" text-anchor="middle" textLength="9.3" lengthAdjust="spacingAndGlyphs" transform="rotate(-90 994.3 264.2)">600</text>
<rect x="189.4" y="412" width="136.3" height="79.5" fill="url(#dots)"/>
<rect x="190.6" y="497.8" width="134.2" height="81.2" fill="url(#dots)"/>
<rect x="189.4" y="403.3" width="138.4" height="6.7" fill="#000"/>
<rect x="189.5" y="403.5" width="138" height="7" fill="none" stroke="#f2f2f2" stroke-width="1"/>
<line x1="186.7" y1="410" x2="330.3" y2="410" stroke="#f2f2f2" stroke-width="2"/>
<rect x="184.2" y="430.3" width="133.2" height="13.6" fill="#000"/>
<line x1="184.2" y1="430" x2="323.2" y2="430" stroke="#f2f2f2" stroke-width="1.6"/>
<line x1="184.2" y1="444" x2="323.2" y2="444" stroke="#f2f2f2" stroke-width="1.6"/>
<line x1="227.5" y1="430.3" x2="227.5" y2="443.9" stroke="#f2f2f2" stroke-width="1"/>
<line x1="317.5" y1="430.3" x2="317.5" y2="443.9" stroke="#f2f2f2" stroke-width="1"/>
<line x1="189.5" y1="443.9" x2="189.5" y2="491.5" stroke="#f2f2f2" stroke-width="1"/>
<rect x="190" y="473.4" width="37.5" height="18.1" fill="#000"/>
<rect x="190" y="473.4" width="37.5" height="11.5" fill="#000"/>
<line x1="190" y1="475" x2="227.5" y2="475" stroke="#f2f2f2" stroke-width="1.6"/>
<line x1="190" y1="484" x2="227.5" y2="484" stroke="#f2f2f2" stroke-width="1.6"/>
<line x1="190" y1="474.4" x2="190" y2="483.9" stroke="#f2f2f2" stroke-width="1.8"/>
<line x1="203" y1="474.4" x2="203" y2="483.9" stroke="#f2f2f2" stroke-width="1.8"/>
<line x1="215" y1="474.4" x2="215" y2="483.9" stroke="#f2f2f2" stroke-width="1.8"/>
<line x1="190" y1="474.4" x2="190" y2="483.9" stroke="#f2f2f2" stroke-width="1.5"/>
<line x1="228" y1="474.4" x2="228" y2="483.9" stroke="#f2f2f2" stroke-width="1.5"/>
<line x1="190" y1="473.5" x2="227.5" y2="473.5" stroke="#c8864c" stroke-width="1.3"/>
<line x1="190" y1="486.5" x2="227.5" y2="486.5" stroke="#f2f2f2" stroke-width="1"/>
<line x1="227.5" y1="443.9" x2="227.5" y2="473.4" stroke="#f2f2f2" stroke-width="1"/>
<rect x="189.4" y="491.5" width="137.4" height="6.3" fill="#000"/>
<line x1="189.4" y1="491.5" x2="326.8" y2="491.5" stroke="#f2f2f2" stroke-width="1.2"/>
<line x1="189.4" y1="497.5" x2="326.8" y2="497.5" stroke="#f2f2f2" stroke-width="1.2"/>
<rect x="190" y="546" width="136.8" height="5.7" fill="#000"/>
<line x1="190" y1="546.5" x2="326.8" y2="546.5" stroke="#f2f2f2" stroke-width="1.2"/>
<line x1="190" y1="551.5" x2="326.8" y2="551.5" stroke="#f2f2f2" stroke-width="1.2"/>
<rect x="190" y="579" width="136.8" height="30.7" fill="#000"/>
<line x1="190" y1="580.5" x2="326.8" y2="580.5" stroke="#f2f2f2" stroke-width="1.2"/>
<line x1="190" y1="597.5" x2="326.8" y2="597.5" stroke="#f2f2f2" stroke-width="1"/>
<line x1="189.5" y1="403" x2="189.5" y2="443.9" stroke="#f2f2f2" stroke-width="1"/>
<line x1="190.5" y1="491" x2="190.5" y2="609.7" stroke="#f2f2f2" stroke-width="1.2"/>
<line x1="326.5" y1="410" x2="326.5" y2="609.7" stroke="#f2f2f2" stroke-width="1.2"/>
<line x1="191.5" y1="491.5" x2="191.5" y2="609.7" stroke="#962a2a" stroke-width="1"/>
<line x1="324.5" y1="491.5" x2="324.5" y2="609.7" stroke="#962a2a" stroke-width="1"/>
<rect x="317" y="579" width="25" height="30.7" fill="#000"/>
<rect x="317" y="579" width="25" height="11.4" fill="#000"/>
<line x1="317" y1="581" x2="342" y2="581" stroke="#f2f2f2" stroke-width="1.6"/>
<line x1="317" y1="590" x2="342" y2="590" stroke="#f2f2f2" stroke-width="1.6"/>
<line x1="317" y1="580" x2="317" y2="589.4" stroke="#f2f2f2" stroke-width="1.8"/>
<line x1="325" y1="580" x2="325" y2="589.4" stroke="#f2f2f2" stroke-width="1.8"/>
<line x1="334" y1="580" x2="334" y2="589.4" stroke="#f2f2f2" stroke-width="1.8"/>
<line x1="342" y1="580" x2="342" y2="589.4" stroke="#f2f2f2" stroke-width="1.8"/>
<line x1="317" y1="580" x2="317" y2="589.4" stroke="#f2f2f2" stroke-width="1.5"/>
<line x1="342" y1="580" x2="342" y2="589.4" stroke="#f2f2f2" stroke-width="1.5"/>
<line x1="317" y1="579.5" x2="342" y2="579.5" stroke="#c8864c" stroke-width="1.3"/>
<line x1="317" y1="592.5" x2="342" y2="592.5" stroke="#f2f2f2" stroke-width="1"/>
<line x1="342.5" y1="580" x2="342.5" y2="609.7" stroke="#f2f2f2" stroke-width="1"/>
<line x1="317.5" y1="579" x2="317.5" y2="609.7" stroke="#f2f2f2" stroke-width="1"/>
<rect x="337.5" y="576.5" width="8" height="3" fill="none" stroke="#f2f2f2" stroke-width="1"/>
<polyline points="343.5,593.3 367.8,603.3 367.8,609.7" fill="none" stroke="#f2f2f2" stroke-width="1"/>
<line x1="71.5" y1="609.5" x2="462.5" y2="609.5" stroke="#f2f2f2" stroke-width="1.3"/>
<circle cx="165.1" cy="394.3" r="8.5" fill="none" stroke="#bcdad4" stroke-width="1"/>
<line x1="156.6" y1="394.5" x2="173.6" y2="394.5" stroke="#bcdad4" stroke-width="0.9"/>
<text x="165.1" y="392.7" font-size="6.5" fill="#f4f4f4" text-anchor="middle">5</text>
<text x="165.1" y="400.6" font-size="6" fill="#f4f4f4" text-anchor="middle" textLength="11.05" lengthAdjust="spacingAndGlyphs">M04</text>
<line x1="173.6" y1="395.5" x2="197.7" y2="395.5" stroke="#bcdad4" stroke-width="0.9"/>
<line x1="197.5" y1="395.4" x2="197.5" y2="478" stroke="#bcdad4" stroke-width="0.9"/>
<line x1="186.5" y1="379.55" x2="190.03" y2="379.4" stroke="#f4f4f4" stroke-width="0.95"/>
<line x1="186.5" y1="380.4" x2="186.5" y2="383.8" stroke="#f4f4f4" stroke-width="0.95"/>
<line x1="189.5" y1="378.8" x2="189.5" y2="383.54" stroke="#f4f4f4" stroke-width="0.95"/>
<line x1="186.5" y1="383.5" x2="190.03" y2="383.5" stroke="#f4f4f4" stroke-width="0.95"/>
<line x1="188.5" y1="379.8" x2="188.5" y2="383.3" stroke="#f4f4f4" stroke-width="0.95"/>
<line x1="191.33" y1="379.85" x2="194.87" y2="379.66" stroke="#f4f4f4" stroke-width="0.95"/>
<line x1="191.5" y1="379.84" x2="191.5" y2="383.8" stroke="#f4f4f4" stroke-width="0.95"/>
<line x1="194.5" y1="378.8" x2="194.5" y2="382.97" stroke="#f4f4f4" stroke-width="0.95"/>
<line x1="191.33" y1="383.5" x2="194.87" y2="383.5" stroke="#f4f4f4" stroke-width="0.95"/>
<line x1="191.63" y1="381.3" x2="194.47" y2="381.42" stroke="#f4f4f4" stroke-width="0.95"/>
<line x1="196.17" y1="379.6" x2="199.7" y2="379.62" stroke="#f4f4f4" stroke-width="0.95"/>
<line x1="196.5" y1="380.34" x2="196.5" y2="383.8" stroke="#f4f4f4" stroke-width="0.95"/>
<line x1="199.5" y1="378.8" x2="199.5" y2="383.04" stroke="#f4f4f4" stroke-width="0.95"/>
<line x1="196.17" y1="383.5" x2="199.7" y2="383.5" stroke="#f4f4f4" stroke-width="0.95"/>
<line x1="197.5" y1="379.8" x2="197.5" y2="383.3" stroke="#f4f4f4" stroke-width="0.95"/>
<line x1="201" y1="380.13" x2="204.53" y2="379.75" stroke="#f4f4f4" stroke-width="0.95"/>
<line x1="201.5" y1="380.03" x2="201.5" y2="383.8" stroke="#f4f4f4" stroke-width="0.95"/>
<line x1="204.5" y1="378.8" x2="204.5" y2="383.04" stroke="#f4f4f4" stroke-width="0.95"/>
<line x1="201" y1="383.5" x2="204.53" y2="383.5" stroke="#f4f4f4" stroke-width="0.95"/>
<line x1="202.5" y1="379.8" x2="202.5" y2="383.3" stroke="#f4f4f4" stroke-width="0.95"/>
<line x1="205.83" y1="379.76" x2="209.37" y2="379.83" stroke="#f4f4f4" stroke-width="0.95"/>
<line x1="206.5" y1="379.76" x2="206.5" y2="383.8" stroke="#f4f4f4" stroke-width="0.95"/>
<line x1="208.5" y1="378.8" x2="208.5" y2="382.39" stroke="#f4f4f4" stroke-width="0.95"/>
<line x1="205.83" y1="383.5" x2="209.37" y2="383.5" stroke="#f4f4f4" stroke-width="0.95"/>
<line x1="207.5" y1="379.8" x2="207.5" y2="383.3" stroke="#f4f4f4" stroke-width="0.95"/>
<line x1="210.67" y1="380.15" x2="214.2" y2="379.61" stroke="#f4f4f4" stroke-width="0.95"/>
<line x1="210.5" y1="379.92" x2="210.5" y2="383.8" stroke="#f4f4f4" stroke-width="0.95"/>
<line x1="213.5" y1="378.8" x2="213.5" y2="382.39" stroke="#f4f4f4" stroke-width="0.95"/>
<line x1="210.67" y1="383.5" x2="214.2" y2="383.5" stroke="#f4f4f4" stroke-width="0.95"/>
<line x1="210.97" y1="381.3" x2="213.8" y2="380.54" stroke="#f4f4f4" stroke-width="0.95"/>
<line x1="186" y1="385.5" x2="214.4" y2="385.5" stroke="#bcdad4" stroke-width="0.9"/>
<line x1="214.5" y1="385.4" x2="214.5" y2="548.9" stroke="#bcdad4" stroke-width="0.9"/>
<circle cx="257.2" cy="371.7" r="8.8" fill="none" stroke="#bcdad4" stroke-width="1"/>
<line x1="248.4" y1="371.5" x2="266" y2="371.5" stroke="#bcdad4" stroke-width="0.9"/>
<text x="257.2" y="370.1" font-size="6.5" fill="#f4f4f4" text-anchor="middle">1</text>
<text x="257.2" y="378" font-size="6" fill="#f4f4f4" text-anchor="middle" textLength="11.44" lengthAdjust="spacingAndGlyphs">M04</text>
<line x1="248.4" y1="372.5" x2="238.5" y2="372.5" stroke="#bcdad4" stroke-width="0.9"/>
<line x1="238.5" y1="372" x2="238.5" y2="446.4" stroke="#bcdad4" stroke-width="0.9"/>
<line x1="235.5" y1="439" x2="235.5" y2="447.4" stroke="#bcdad4" stroke-width="0.8"/>
<line x1="275" y1="374.55" x2="278.73" y2="374.26" stroke="#f4f4f4" stroke-width="0.95"/>
<line x1="275.5" y1="374.08" x2="275.5" y2="378.6" stroke="#f4f4f4" stroke-width="0.95"/>
<line x1="278.5" y1="373.6" x2="278.5" y2="378.49" stroke="#f4f4f4" stroke-width="0.95"/>
<line x1="275" y1="378.5" x2="278.73" y2="378.5" stroke="#f4f4f4" stroke-width="0.95"/>
<line x1="276.5" y1="374.6" x2="276.5" y2="378.1" stroke="#f4f4f4" stroke-width="0.95"/>
<line x1="280.03" y1="374.92" x2="283.76" y2="374.32" stroke="#f4f4f4" stroke-width="0.95"/>
<line x1="280.5" y1="375.03" x2="280.5" y2="378.6" stroke="#f4f4f4" stroke-width="0.95"/>
<line x1="283.5" y1="373.6" x2="283.5" y2="377.61" stroke="#f4f4f4" stroke-width="0.95"/>
<line x1="281.5" y1="374.6" x2="281.5" y2="378.1" stroke="#f4f4f4" stroke-width="0.95"/>
<line x1="285.06" y1="374.97" x2="288.79" y2="374.38" stroke="#f4f4f4" stroke-width="0.95"/>
<line x1="285.5" y1="375.51" x2="285.5" y2="378.6" stroke="#f4f4f4" stroke-width="0.95"/>
<line x1="288.5" y1="373.6" x2="288.5" y2="378" stroke="#f4f4f4" stroke-width="0.95"/>
<line x1="285.06" y1="378.5" x2="288.79" y2="378.5" stroke="#f4f4f4" stroke-width="0.95"/>
<line x1="286.5" y1="374.6" x2="286.5" y2="378.1" stroke="#f4f4f4" stroke-width="0.95"/>
<line x1="290.09" y1="374.87" x2="293.81" y2="374.33" stroke="#f4f4f4" stroke-width="0.95"/>
<line x1="290.5" y1="374.46" x2="290.5" y2="378.6" stroke="#f4f4f4" stroke-width="0.95"/>
<line x1="293.5" y1="373.6" x2="293.5" y2="377.83" stroke="#f4f4f4" stroke-width="0.95"/>
<line x1="290.39" y1="376.1" x2="293.41" y2="375.74" stroke="#f4f4f4" stroke-width="0.95"/>
<line x1="295.11" y1="374.78" x2="298.84" y2="374.22" stroke="#f4f4f4" stroke-width="0.95"/>
<line x1="295.5" y1="374.71" x2="295.5" y2="378.6" stroke="#f4f4f4" stroke-width="0.95"/>
<line x1="298.5" y1="373.6" x2="298.5" y2="377.94" stroke="#f4f4f4" stroke-width="0.95"/>
<line x1="295.41" y1="376.1" x2="298.44" y2="376.35" stroke="#f4f4f4" stroke-width="0.95"/>
<line x1="300.14" y1="374.61" x2="303.87" y2="374.25" stroke="#f4f4f4" stroke-width="0.95"/>
<line x1="300.5" y1="375.57" x2="300.5" y2="378.6" stroke="#f4f4f4" stroke-width="0.95"/>
<line x1="303.5" y1="373.6" x2="303.5" y2="377.42" stroke="#f4f4f4" stroke-width="0.95"/>
<line x1="300.14" y1="378.5" x2="303.87" y2="378.5" stroke="#f4f4f4" stroke-width="0.95"/>
<line x1="300.44" y1="376.1" x2="303.47" y2="375.63" stroke="#f4f4f4" stroke-width="0.95"/>
<line x1="305.17" y1="374.23" x2="308.9" y2="374.82" stroke="#f4f4f4" stroke-width="0.95"/>
<line x1="305.5" y1="374.14" x2="305.5" y2="378.6" stroke="#f4f4f4" stroke-width="0.95"/>
<line x1="308.5" y1="373.6" x2="308.5" y2="378.41" stroke="#f4f4f4" stroke-width="0.95"/>
<line x1="305.17" y1="378.5" x2="308.9" y2="378.5" stroke="#f4f4f4" stroke-width="0.95"/>
<line x1="306.5" y1="374.6" x2="306.5" y2="378.1" stroke="#f4f4f4" stroke-width="0.95"/>
<line x1="272.6" y1="380.5" x2="309" y2="380.5" stroke="#bcdad4" stroke-width="0.9"/>
<line x1="272.5" y1="380.2" x2="272.5" y2="563.7" stroke="#bcdad4" stroke-width="0.9"/>
<circle cx="361.2" cy="621.1" r="8.8" fill="none" stroke="#bcdad4" stroke-width="1"/>
<line x1="352.4" y1="621.5" x2="370" y2="621.5" stroke="#bcdad4" stroke-width="0.9"/>
<text x="361.2" y="619.5" font-size="6.5" fill="#f4f4f4" text-anchor="middle">2</text>
<text x="361.2" y="627.4" font-size="6" fill="#f4f4f4" text-anchor="middle" textLength="11.44" lengthAdjust="spacingAndGlyphs">M04</text>
<line x1="352.4" y1="621.5" x2="334.9" y2="621.5" stroke="#bcdad4" stroke-width="0.9"/>
<line x1="334.5" y1="621.1" x2="334.5" y2="590" stroke="#bcdad4" stroke-width="0.9"/>
<line x1="191.5" y1="609.7" x2="191.5" y2="627" stroke="#bcdad4" stroke-width="0.9"/>
<circle cx="191.1" cy="634" r="7" fill="none" stroke="#d6e2de" stroke-width="1"/>
<text x="191.1" y="637.2" font-size="8.5" fill="#f4f4f4" text-anchor="middle">D</text>
<line x1="324.5" y1="609.7" x2="324.5" y2="627" stroke="#bcdad4" stroke-width="0.9"/>
<circle cx="324.8" cy="634" r="7" fill="none" stroke="#d6e2de" stroke-width="1"/>
<text x="324.8" y="637.2" font-size="8.5" fill="#f4f4f4" text-anchor="middle">A</text>
<circle cx="203.5" cy="657.8" r="7" fill="none" stroke="#d6e2de" stroke-width="1"/>
<text x="203.5" y="661" font-size="8.5" fill="#f4f4f4" text-anchor="middle">D</text>
<line x1="213" y1="657.5" x2="220.5" y2="657.5" stroke="#f2f2f2" stroke-width="1.3"/>
<circle cx="234.5" cy="657.8" r="7" fill="none" stroke="#d6e2de" stroke-width="1"/>
<text x="234.5" y="661" font-size="8.5" fill="#f4f4f4" text-anchor="middle">A</text>
<polyline points="248.52,657.33 251.41,657.33" fill="none" stroke="#f2f2f2" stroke-width="1.4"/>
<polyline points="249.78,655.14 249.04,659.63" fill="none" stroke="#f2f2f2" stroke-width="1.4"/>
<polyline points="249.04,659.63 251.26,659.63" fill="none" stroke="#f2f2f2" stroke-width="1.4"/>
<polyline points="248.74,662.39 251.41,661.7" fill="none" stroke="#f2f2f2" stroke-width="1.4"/>
<polyline points="250.08,657.79 250.08,666.07" fill="none" stroke="#f2f2f2" stroke-width="1.4"/>
<polyline points="252,658.25 255.4,658.25 255.4,665.84 252,665.84 252,658.25" fill="none" stroke="#f2f2f2" stroke-width="1.4"/>
<polyline points="253.7,655.03 253.7,665.84" fill="none" stroke="#f2f2f2" stroke-width="1.4"/>
<polyline points="252,662.04 255.4,662.04" fill="none" stroke="#f2f2f2" stroke-width="1.4"/>
<polyline points="260.4,654.8 260.7,656.64" fill="none" stroke="#f2f2f2" stroke-width="1.4"/>
<polyline points="257.59,657.79 263.21,657.79" fill="none" stroke="#f2f2f2" stroke-width="1.4"/>
<polyline points="258.92,659.63 259.66,664.23" fill="none" stroke="#f2f2f2" stroke-width="1.4"/>
<polyline points="262.03,659.4 261.14,664.46" fill="none" stroke="#f2f2f2" stroke-width="1.4"/>
<polyline points="256.92,665.61 263.88,665.61" fill="none" stroke="#f2f2f2" stroke-width="1.4"/>
<polyline points="265.32,655.72 272.28,655.72" fill="none" stroke="#f2f2f2" stroke-width="1.4"/>
<polyline points="268.8,655.72 268.36,658.02" fill="none" stroke="#f2f2f2" stroke-width="1.4"/>
<polyline points="265.84,658.02 271.76,658.02 271.76,666.07 265.84,666.07 265.84,658.02" fill="none" stroke="#f2f2f2" stroke-width="1.4"/>
<polyline points="267.76,658.02 267.76,666.07" fill="none" stroke="#f2f2f2" stroke-width="1.4"/>
<polyline points="269.84,658.02 269.84,666.07" fill="none" stroke="#f2f2f2" stroke-width="1.4"/>
<polyline points="267.76,660.78 269.84,660.78" fill="none" stroke="#f2f2f2" stroke-width="1.4"/>
<polyline points="267.76,663.31 269.84,663.31" fill="none" stroke="#f2f2f2" stroke-width="1.4"/>
<polyline points="274.09,655.26 280.31,655.26 280.31,666.07 274.09,666.07 274.09,655.26" fill="none" stroke="#f2f2f2" stroke-width="1.4"/>
<polyline points="276.31,656.64 278.38,656.64 275.42,661.01" fill="none" stroke="#f2f2f2" stroke-width="1.4"/>
<polyline points="276.46,658.25 279.12,661.01" fill="none" stroke="#f2f2f2" stroke-width="1.4"/>
<polyline points="276.76,662.16 277.79,662.85" fill="none" stroke="#f2f2f2" stroke-width="1.4"/>
<polyline points="276.31,664.23 278.09,664.92" fill="none" stroke="#f2f2f2" stroke-width="1.4"/>
<text x="322" y="666.1" font-size="6" fill="#f4f4f4" text-anchor="start" textLength="13" lengthAdjust="spacingAndGlyphs">1:100</text>
<line x1="197.2" y1="668.5" x2="356.4" y2="668.5" stroke="#bcdad4" stroke-width="1.3"/>
<line x1="197.2" y1="671.5" x2="356.4" y2="671.5" stroke="#bcdad4" stroke-width="0.9"/>
<line x1="287.2" y1="398.5" x2="318.4" y2="398.5" stroke="#f2f2f2" stroke-width="0.9"/>
<polyline points="286.9,398.5 292.4,403.5 297.9,398.5" fill="none" stroke="#f2f2f2" stroke-width="0.9"/>
<text x="308" y="397.5" font-size="7" fill="#f4f4f4" text-anchor="start" textLength="10.4" lengthAdjust="spacingAndGlyphs">15.0</text>
<line x1="337.1" y1="406.5" x2="368.3" y2="406.5" stroke="#f2f2f2" stroke-width="0.9"/>
<polyline points="336.8,406.2 342.3,411.2 347.8,406.2" fill="none" stroke="#f2f2f2" stroke-width="0.9"/>
<text x="358" y="405.2" font-size="7" fill="#f4f4f4" text-anchor="start" textLength="10.4" lengthAdjust="spacingAndGlyphs">10.5</text>
<line x1="230" y1="467.5" x2="260" y2="467.5" stroke="#f2f2f2" stroke-width="0.9"/>
<polyline points="229.7,467.8 235.2,472.8 240.7,467.8" fill="none" stroke="#f2f2f2" stroke-width="0.9"/>
<text x="249.7" y="466.8" font-size="7" fill="#f4f4f4" text-anchor="start" textLength="10.4" lengthAdjust="spacingAndGlyphs">7.05</text>
<line x1="347.8" y1="571.5" x2="367.8" y2="571.5" stroke="#f2f2f2" stroke-width="0.9"/>
<polyline points="348,571.2 353.5,576.2 359,571.2" fill="none" stroke="#f2f2f2" stroke-width="0.9"/>
<text x="357.8" y="570.2" font-size="7" fill="#f4f4f4" text-anchor="start" textLength="10.4" lengthAdjust="spacingAndGlyphs">1.25</text>
<line x1="97.5" y1="423.5" x2="130.8" y2="423.5" stroke="#f2f2f2" stroke-width="0.9"/>
<polyline points="121.6,423.5 124.35,428.7 130.8,423.5" fill="none" stroke="#f2f2f2" stroke-width="0.9"/>
<line x1="124.35" y1="428.5" x2="119.85" y2="428.5" stroke="#f2f2f2" stroke-width="0.9"/>
<text x="97.5" y="422.3" font-size="7" fill="#f4f4f4" text-anchor="start" textLength="15" lengthAdjust="spacingAndGlyphs">9.500</text>
<line x1="97.5" y1="442.5" x2="130.8" y2="442.5" stroke="#f2f2f2" stroke-width="0.9"/>
<polyline points="121.6,442.8 124.35,437.3 130.8,442.8" fill="none" stroke="#f2f2f2" stroke-width="0.9"/>
<line x1="124.35" y1="437.5" x2="120.85" y2="437.5" stroke="#f2f2f2" stroke-width="0.9"/>
<text x="97.5" y="449.3" font-size="7" fill="#f4f4f4" text-anchor="start" textLength="15" lengthAdjust="spacingAndGlyphs">9.100</text>
<line x1="97.5" y1="486.5" x2="130.8" y2="486.5" stroke="#f2f2f2" stroke-width="0.9"/>
<polyline points="121.6,486.3 124.35,491.5 130.8,486.3" fill="none" stroke="#f2f2f2" stroke-width="0.9"/>
<line x1="124.35" y1="491.5" x2="119.85" y2="491.5" stroke="#f2f2f2" stroke-width="0.9"/>
<text x="97.5" y="485.1" font-size="7" fill="#f4f4f4" text-anchor="start" textLength="15" lengthAdjust="spacingAndGlyphs">6.100</text>
<line x1="97.5" y1="540.5" x2="130.8" y2="540.5" stroke="#f2f2f2" stroke-width="0.9"/>
<polyline points="121.6,540.3 124.35,545.5 130.8,540.3" fill="none" stroke="#f2f2f2" stroke-width="0.9"/>
<line x1="124.35" y1="545.5" x2="119.85" y2="545.5" stroke="#f2f2f2" stroke-width="0.9"/>
<text x="97.5" y="539.1" font-size="7" fill="#f4f4f4" text-anchor="start" textLength="15" lengthAdjust="spacingAndGlyphs">3.100</text>
<line x1="97.5" y1="593.5" x2="130.8" y2="593.5" stroke="#f2f2f2" stroke-width="0.9"/>
<polyline points="121.6,593.9 124.35,599.1 130.8,593.9" fill="none" stroke="#f2f2f2" stroke-width="0.9"/>
<line x1="124.35" y1="599.5" x2="119.85" y2="599.5" stroke="#f2f2f2" stroke-width="0.9"/>
<text x="97.5" y="592.7" font-size="7" fill="#f4f4f4" text-anchor="start" textLength="15" lengthAdjust="spacingAndGlyphs">0.000</text>
<line x1="97.5" y1="614.5" x2="130.8" y2="614.5" stroke="#f2f2f2" stroke-width="0"/>
<polyline points="120.8,614.9 125.5,610 130.3,614.9" fill="none" stroke="#f2f2f2" stroke-width="0.9"/>
<line x1="118" y1="614.5" x2="133" y2="614.5" stroke="#f2f2f2" stroke-width="0.9"/>
<text x="98.7" y="620.5" font-size="7" fill="#f4f4f4" text-anchor="start" textLength="10" lengthAdjust="spacingAndGlyphs">-0.6</text>
<line x1="419.5" y1="423.5" x2="450.7" y2="423.5" stroke="#f2f2f2" stroke-width="0.9"/>
<polyline points="419.5,423.7 425.27,428.9 429.5,423.7" fill="none" stroke="#f2f2f2" stroke-width="0.9"/>
<line x1="425.27" y1="428.5" x2="430.07" y2="428.5" stroke="#f2f2f2" stroke-width="0.9"/>
<text x="436" y="422.5" font-size="7" fill="#f4f4f4" text-anchor="start" textLength="15" lengthAdjust="spacingAndGlyphs">9.500</text>
<line x1="419.5" y1="442.5" x2="450.7" y2="442.5" stroke="#f2f2f2" stroke-width="0.9"/>
<polyline points="419.5,442.9 425.27,437.4 430,442.9" fill="none" stroke="#f2f2f2" stroke-width="0.9"/>
<line x1="425.27" y1="437.5" x2="429.77" y2="437.5" stroke="#f2f2f2" stroke-width="0.9"/>
<text x="436" y="449.4" font-size="7" fill="#f4f4f4" text-anchor="start" textLength="15" lengthAdjust="spacingAndGlyphs">9.000</text>
<line x1="419.5" y1="486.5" x2="450.7" y2="486.5" stroke="#f2f2f2" stroke-width="0.9"/>
<polyline points="419.5,486 425.27,491.2 429.5,486" fill="none" stroke="#f2f2f2" stroke-width="0.9"/>
<line x1="425.27" y1="491.5" x2="430.07" y2="491.5" stroke="#f2f2f2" stroke-width="0.9"/>
<text x="436" y="484.8" font-size="7" fill="#f4f4f4" text-anchor="start" textLength="15" lengthAdjust="spacingAndGlyphs">6.000</text>
<line x1="419.5" y1="539.5" x2="450.7" y2="539.5" stroke="#f2f2f2" stroke-width="0.9"/>
<polyline points="419.5,539.4 425.27,544.6 429.5,539.4" fill="none" stroke="#f2f2f2" stroke-width="0.9"/>
<line x1="425.27" y1="544.5" x2="430.07" y2="544.5" stroke="#f2f2f2" stroke-width="0.9"/>
<text x="436" y="538.2" font-size="7" fill="#f4f4f4" text-anchor="start" textLength="15" lengthAdjust="spacingAndGlyphs">3.000</text>
<line x1="419.5" y1="594.5" x2="450.7" y2="594.5" stroke="#f2f2f2" stroke-width="0.9"/>
<polyline points="419.5,594.1 425.27,599.3 429.5,594.1" fill="none" stroke="#f2f2f2" stroke-width="0.9"/>
<line x1="425.27" y1="599.5" x2="430.07" y2="599.5" stroke="#f2f2f2" stroke-width="0.9"/>
<text x="436" y="592.9" font-size="7" fill="#f4f4f4" text-anchor="start" textLength="15" lengthAdjust="spacingAndGlyphs">0.000</text>
<line x1="418" y1="614.5" x2="451" y2="614.5" stroke="#f2f2f2" stroke-width="0.9"/>
<polyline points="419.5,614.8 425,610 430.5,614.8" fill="none" stroke="#f2f2f2" stroke-width="0.9"/>
<text x="439.5" y="621" font-size="7" fill="#f4f4f4" text-anchor="start" textLength="11.5" lengthAdjust="spacingAndGlyphs">-0.6</text>
<line x1="140" y1="429.5" x2="182.8" y2="429.5" stroke="#bcdad4" stroke-width="1"/>
<line x1="146.5" y1="429.7" x2="146.5" y2="609.7" stroke="#bcdad4" stroke-width="1"/>
<line x1="142.4" y1="438.5" x2="154.4" y2="438.5" stroke="#bcdad4" stroke-width="1"/>
<line x1="142.4" y1="597.5" x2="154.4" y2="597.5" stroke="#bcdad4" stroke-width="1"/>
<line x1="142.4" y1="609.5" x2="154.4" y2="609.5" stroke="#bcdad4" stroke-width="1"/>
<text x="145.6" y="434.2" font-size="7" fill="#f4f4f4" text-anchor="middle" textLength="8.5" lengthAdjust="spacingAndGlyphs" transform="rotate(-90 145.6 434.2)">500</text>
<text x="145.6" y="518.15" font-size="7" fill="#f4f4f4" text-anchor="middle" textLength="12.4" lengthAdjust="spacingAndGlyphs" transform="rotate(-90 145.6 518.15)">9000</text>
<text x="145.6" y="603.65" font-size="7" fill="#f4f4f4" text-anchor="middle" textLength="9.3" lengthAdjust="spacingAndGlyphs" transform="rotate(-90 145.6 603.65)">600</text>
<line x1="163.5" y1="429.7" x2="163.5" y2="609.7" stroke="#bcdad4" stroke-width="1"/>
<line x1="159.6" y1="438.5" x2="171.6" y2="438.5" stroke="#bcdad4" stroke-width="1"/>
<line x1="159.6" y1="491.5" x2="171.6" y2="491.5" stroke="#bcdad4" stroke-width="1"/>
<line x1="159.6" y1="545.5" x2="171.6" y2="545.5" stroke="#bcdad4" stroke-width="1"/>
<line x1="159.6" y1="597.5" x2="171.6" y2="597.5" stroke="#bcdad4" stroke-width="1"/>
<line x1="159.6" y1="609.5" x2="171.6" y2="609.5" stroke="#bcdad4" stroke-width="1"/>
<text x="162.8" y="434.2" font-size="7" fill="#f4f4f4" text-anchor="middle" textLength="8.5" lengthAdjust="spacingAndGlyphs" transform="rotate(-90 162.8 434.2)">500</text>
<text x="162.8" y="465.1" font-size="7" fill="#f4f4f4" text-anchor="middle" textLength="12.4" lengthAdjust="spacingAndGlyphs" transform="rotate(-90 162.8 465.1)">3000</text>
<text x="162.8" y="518.45" font-size="7" fill="#f4f4f4" text-anchor="middle" textLength="12.4" lengthAdjust="spacingAndGlyphs" transform="rotate(-90 162.8 518.45)">3000</text>
<text x="162.8" y="571.5" font-size="7" fill="#f4f4f4" text-anchor="middle" textLength="12.4" lengthAdjust="spacingAndGlyphs" transform="rotate(-90 162.8 571.5)">3000</text>
<text x="162.8" y="603.65" font-size="7" fill="#f4f4f4" text-anchor="middle" textLength="9.3" lengthAdjust="spacingAndGlyphs" transform="rotate(-90 162.8 603.65)">600</text>
<line x1="368.5" y1="429.5" x2="410.1" y2="429.5" stroke="#bcdad4" stroke-width="1"/>
<line x1="387.5" y1="429.3" x2="387.5" y2="609.7" stroke="#bcdad4" stroke-width="1"/>
<line x1="383.2" y1="438.5" x2="395.2" y2="438.5" stroke="#bcdad4" stroke-width="1"/>
<line x1="383.2" y1="491.5" x2="395.2" y2="491.5" stroke="#bcdad4" stroke-width="1"/>
<line x1="383.2" y1="545.5" x2="395.2" y2="545.5" stroke="#bcdad4" stroke-width="1"/>
<line x1="383.2" y1="597.5" x2="395.2" y2="597.5" stroke="#bcdad4" stroke-width="1"/>
<line x1="383.2" y1="609.5" x2="395.2" y2="609.5" stroke="#bcdad4" stroke-width="1"/>
<text x="386.4" y="433.8" font-size="7" fill="#f4f4f4" text-anchor="middle" textLength="8.5" lengthAdjust="spacingAndGlyphs" transform="rotate(-90 386.4 433.8)">500</text>
<text x="386.4" y="464.8" font-size="7" fill="#f4f4f4" text-anchor="middle" textLength="12.4" lengthAdjust="spacingAndGlyphs" transform="rotate(-90 386.4 464.8)">3000</text>
<text x="386.4" y="518.35" font-size="7" fill="#f4f4f4" text-anchor="middle" textLength="12.4" lengthAdjust="spacingAndGlyphs" transform="rotate(-90 386.4 518.35)">3000</text>
<text x="386.4" y="571.5" font-size="7" fill="#f4f4f4" text-anchor="middle" textLength="12.4" lengthAdjust="spacingAndGlyphs" transform="rotate(-90 386.4 571.5)">3000</text>
<text x="386.4" y="603.65" font-size="7" fill="#f4f4f4" text-anchor="middle" textLength="9.3" lengthAdjust="spacingAndGlyphs" transform="rotate(-90 386.4 603.65)">600</text>
<line x1="404.5" y1="429.3" x2="404.5" y2="609.7" stroke="#bcdad4" stroke-width="1"/>
<line x1="400.3" y1="438.5" x2="412.3" y2="438.5" stroke="#bcdad4" stroke-width="1"/>
<line x1="400.3" y1="597.5" x2="412.3" y2="597.5" stroke="#bcdad4" stroke-width="1"/>
<line x1="400.3" y1="609.5" x2="412.3" y2="609.5" stroke="#bcdad4" stroke-width="1"/>
<text x="403.5" y="433.8" font-size="7" fill="#f4f4f4" text-anchor="middle" textLength="8.5" lengthAdjust="spacingAndGlyphs" transform="rotate(-90 403.5 433.8)">500</text>
<text x="403.5" y="517.95" font-size="7" fill="#f4f4f4" text-anchor="middle" textLength="12.4" lengthAdjust="spacingAndGlyphs" transform="rotate(-90 403.5 517.95)">9000</text>
<text x="403.5" y="603.65" font-size="7" fill="#f4f4f4" text-anchor="middle" textLength="9.3" lengthAdjust="spacingAndGlyphs" transform="rotate(-90 403.5 603.65)">600</text>
<rect x="687.3" y="423.2" width="245.1" height="46.4" fill="url(#dots)"/>
<rect x="660.3" y="477.5" width="272" height="99.5" fill="url(#dots)"/>
<rect x="730.5" y="381.4" width="67.9" height="7.2" fill="#000"/>
<rect x="730.5" y="381.5" width="68" height="7" fill="none" stroke="#f2f2f2" stroke-width="1"/>
<line x1="727.4" y1="389" x2="802" y2="389" stroke="#f2f2f2" stroke-width="1.8"/>
<line x1="730.5" y1="389" x2="730.5" y2="407.2" stroke="#f2f2f2" stroke-width="1"/>
<line x1="798.5" y1="389" x2="798.5" y2="407.2" stroke="#f2f2f2" stroke-width="1"/>
<rect x="687.3" y="407.7" width="250.5" height="15.5" fill="#000"/>
<line x1="687.3" y1="407.5" x2="937.8" y2="407.5" stroke="#f2f2f2" stroke-width="1.2"/>
<line x1="687.3" y1="410.5" x2="937.8" y2="410.5" stroke="#f2f2f2" stroke-width="1"/>
<line x1="687.3" y1="421.5" x2="937.8" y2="421.5" stroke="#f2f2f2" stroke-width="1.2"/>
<line x1="687.3" y1="423.5" x2="937.8" y2="423.5" stroke="#f2f2f2" stroke-width="1"/>
<line x1="693.5" y1="410" x2="693.5" y2="421.5" stroke="#f2f2f2" stroke-width="1"/>
<line x1="730.5" y1="410" x2="730.5" y2="421.5" stroke="#f2f2f2" stroke-width="1"/>
<line x1="852.5" y1="410" x2="852.5" y2="421.5" stroke="#f2f2f2" stroke-width="1"/>
<line x1="932.5" y1="410" x2="932.5" y2="421.5" stroke="#f2f2f2" stroke-width="1"/>
<line x1="687.5" y1="407.7" x2="687.5" y2="410" stroke="#f2f2f2" stroke-width="1"/>
<line x1="937.5" y1="407.7" x2="937.5" y2="410" stroke="#f2f2f2" stroke-width="1"/>
<line x1="687.5" y1="421.5" x2="687.5" y2="423.2" stroke="#f2f2f2" stroke-width="1"/>
<line x1="937.5" y1="421.5" x2="937.5" y2="423.2" stroke="#f2f2f2" stroke-width="1"/>
<line x1="693.5" y1="423" x2="693.5" y2="452" stroke="#f2f2f2" stroke-width="1"/>
<line x1="730.5" y1="423" x2="730.5" y2="469.6" stroke="#f2f2f2" stroke-width="1"/>
<line x1="852.5" y1="423" x2="852.5" y2="451.8" stroke="#f2f2f2" stroke-width="1"/>
<line x1="932.5" y1="423" x2="932.5" y2="587.7" stroke="#f2f2f2" stroke-width="1.2"/>
<rect x="810.1" y="423.9" width="26.9" height="30.2" fill="#000"/>
<rect x="810.5" y="424.5" width="26" height="29" fill="none" stroke="#9aeaf2" stroke-width="1.3"/>
<line x1="824" y1="424.9" x2="824" y2="453.1" stroke="#52d2e6" stroke-width="2"/>
<line x1="811.1" y1="433" x2="836" y2="433" stroke="#52d2e6" stroke-width="1.8"/>
<rect x="871.6" y="427.4" width="36.9" height="24.4" fill="#000"/>
<rect x="872.5" y="428.5" width="35" height="23" fill="none" stroke="#9aeaf2" stroke-width="1.3"/>
<line x1="890" y1="428.4" x2="890" y2="450.8" stroke="#52d2e6" stroke-width="2"/>
<rect x="660.3" y="452" width="70.7" height="17.6" fill="#000"/>
<rect x="660.3" y="452" width="70.7" height="10.4" fill="#000"/>
<line x1="660.3" y1="454" x2="731" y2="454" stroke="#f2f2f2" stroke-width="1.6"/>
<line x1="660.3" y1="462" x2="731" y2="462" stroke="#f2f2f2" stroke-width="1.6"/>
<line x1="660" y1="453" x2="660" y2="461.4" stroke="#f2f2f2" stroke-width="1.8"/>
<line x1="672" y1="453" x2="672" y2="461.4" stroke="#f2f2f2" stroke-width="1.8"/>
<line x1="685" y1="453" x2="685" y2="461.4" stroke="#f2f2f2" stroke-width="1.8"/>
<line x1="697" y1="453" x2="697" y2="461.4" stroke="#f2f2f2" stroke-width="1.8"/>
<line x1="709" y1="453" x2="709" y2="461.4" stroke="#f2f2f2" stroke-width="1.8"/>
<line x1="721" y1="453" x2="721" y2="461.4" stroke="#f2f2f2" stroke-width="1.8"/>
<line x1="660" y1="453" x2="660" y2="461.4" stroke="#f2f2f2" stroke-width="1.5"/>
<line x1="731" y1="453" x2="731" y2="461.4" stroke="#f2f2f2" stroke-width="1.5"/>
<line x1="660.3" y1="452.5" x2="731" y2="452.5" stroke="#c8864c" stroke-width="1.3"/>
<line x1="660.3" y1="464.5" x2="731" y2="464.5" stroke="#f2f2f2" stroke-width="1"/>
<rect x="852.5" y="451.8" width="79.9" height="17.8" fill="#000"/>
<rect x="852.5" y="451.8" width="79.9" height="10.2" fill="#000"/>
<line x1="852.5" y1="453" x2="932.4" y2="453" stroke="#f2f2f2" stroke-width="1.6"/>
<line x1="852.5" y1="461" x2="932.4" y2="461" stroke="#f2f2f2" stroke-width="1.6"/>
<line x1="864" y1="452.8" x2="864" y2="461" stroke="#f2f2f2" stroke-width="1.8"/>
<line x1="876" y1="452.8" x2="876" y2="461" stroke="#f2f2f2" stroke-width="1.8"/>
<line x1="888" y1="452.8" x2="888" y2="461" stroke="#f2f2f2" stroke-width="1.8"/>
<line x1="900" y1="452.8" x2="900" y2="461" stroke="#f2f2f2" stroke-width="1.8"/>
<line x1="912" y1="452.8" x2="912" y2="461" stroke="#f2f2f2" stroke-width="1.8"/>
<line x1="924" y1="452.8" x2="924" y2="461" stroke="#f2f2f2" stroke-width="1.8"/>
<line x1="852" y1="452.8" x2="852" y2="461" stroke="#f2f2f2" stroke-width="1.5"/>
<line x1="932" y1="452.8" x2="932" y2="461" stroke="#f2f2f2" stroke-width="1.5"/>
<line x1="852.5" y1="452.5" x2="932.4" y2="452.5" stroke="#c8864c" stroke-width="1.3"/>
<line x1="852.5" y1="463.5" x2="932.4" y2="463.5" stroke="#f2f2f2" stroke-width="1"/>
<rect x="660.3" y="469.6" width="272.1" height="7.7" fill="#000"/>
<line x1="660.3" y1="469.5" x2="932.4" y2="469.5" stroke="#f2f2f2" stroke-width="1.2"/>
<line x1="660.3" y1="477.5" x2="932.4" y2="477.5" stroke="#f2f2f2" stroke-width="1.2"/>
<rect x="660.3" y="523.7" width="272.1" height="6.6" fill="#000"/>
<line x1="660.3" y1="523.5" x2="932.4" y2="523.5" stroke="#f2f2f2" stroke-width="1.2"/>
<line x1="660.3" y1="530.5" x2="932.4" y2="530.5" stroke="#f2f2f2" stroke-width="1.2"/>
<rect x="660.3" y="577" width="272.1" height="10.7" fill="#000"/>
<line x1="660.3" y1="577.5" x2="932.4" y2="577.5" stroke="#f2f2f2" stroke-width="1.2"/>
<line x1="660.5" y1="452" x2="660.5" y2="587.7" stroke="#f2f2f2" stroke-width="1.2"/>
<line x1="662.5" y1="477.5" x2="662.5" y2="587.7" stroke="#962a2a" stroke-width="1"/>
<line x1="931.5" y1="477.5" x2="931.5" y2="587.7" stroke="#962a2a" stroke-width="1"/>
<rect x="809.6" y="478.4" width="27.1" height="28.6" fill="#000"/>
<rect x="810.5" y="479.5" width="25" height="27" fill="none" stroke="#9aeaf2" stroke-width="1.3"/>
<line x1="823" y1="479.4" x2="823" y2="506" stroke="#52d2e6" stroke-width="2"/>
<line x1="810.6" y1="486" x2="835.7" y2="486" stroke="#52d2e6" stroke-width="1.8"/>
<rect x="863" y="478.4" width="20.9" height="28.6" fill="#000"/>
<rect x="863.5" y="479.5" width="20" height="27" fill="none" stroke="#9aeaf2" stroke-width="1.3"/>
<line x1="874" y1="479.4" x2="874" y2="506" stroke="#52d2e6" stroke-width="2"/>
<line x1="864" y1="486" x2="882.9" y2="486" stroke="#52d2e6" stroke-width="1.8"/>
<rect x="896.6" y="478.4" width="21.4" height="28.6" fill="#000"/>
<rect x="897.5" y="479.5" width="20" height="27" fill="none" stroke="#9aeaf2" stroke-width="1.3"/>
<line x1="907" y1="479.4" x2="907" y2="506" stroke="#52d2e6" stroke-width="2"/>
<line x1="897.6" y1="486" x2="917" y2="486" stroke="#52d2e6" stroke-width="1.8"/>
<rect x="809.6" y="531" width="27.1" height="29.5" fill="#000"/>
<rect x="810.5" y="531.5" width="25" height="28" fill="none" stroke="#9aeaf2" stroke-width="1.3"/>
<line x1="823" y1="532" x2="823" y2="559.5" stroke="#52d2e6" stroke-width="2"/>
<line x1="810.6" y1="540" x2="835.7" y2="540" stroke="#52d2e6" stroke-width="1.8"/>
<rect x="863" y="531" width="20.9" height="29.5" fill="#000"/>
<rect x="863.5" y="531.5" width="20" height="28" fill="none" stroke="#9aeaf2" stroke-width="1.3"/>
<line x1="874" y1="532" x2="874" y2="559.5" stroke="#52d2e6" stroke-width="2"/>
<line x1="864" y1="540" x2="882.9" y2="540" stroke="#52d2e6" stroke-width="1.8"/>
<rect x="896.6" y="531" width="21.4" height="29.5" fill="#000"/>
<rect x="897.5" y="531.5" width="20" height="28" fill="none" stroke="#9aeaf2" stroke-width="1.3"/>
<line x1="907" y1="532" x2="907" y2="559.5" stroke="#52d2e6" stroke-width="2"/>
<line x1="897.6" y1="540" x2="917" y2="540" stroke="#52d2e6" stroke-width="1.8"/>
<rect x="698" y="531" width="27.2" height="29.5" fill="#000"/>
<rect x="698.5" y="531.5" width="26" height="28" fill="none" stroke="#9aeaf2" stroke-width="1.3"/>
<line x1="712" y1="532" x2="712" y2="559.5" stroke="#52d2e6" stroke-width="2"/>
<line x1="699" y1="540" x2="724.2" y2="540" stroke="#52d2e6" stroke-width="1.8"/>
<rect x="634.7" y="559" width="25.6" height="28.7" fill="#000"/>
<rect x="638.6" y="559" width="21.7" height="9" fill="#000"/>
<line x1="638.6" y1="561" x2="660.3" y2="561" stroke="#f2f2f2" stroke-width="1.6"/>
<line x1="638.6" y1="567" x2="660.3" y2="567" stroke="#f2f2f2" stroke-width="1.6"/>
<line x1="645" y1="560" x2="645" y2="567" stroke="#f2f2f2" stroke-width="1.8"/>
<line x1="652" y1="560" x2="652" y2="567" stroke="#f2f2f2" stroke-width="1.8"/>
<line x1="660" y1="560" x2="660" y2="567" stroke="#f2f2f2" stroke-width="1.8"/>
<line x1="639" y1="560" x2="639" y2="567" stroke="#f2f2f2" stroke-width="1.5"/>
<line x1="660" y1="560" x2="660" y2="567" stroke="#f2f2f2" stroke-width="1.5"/>
<line x1="638.6" y1="559.5" x2="660.3" y2="559.5" stroke="#c8864c" stroke-width="1.3"/>
<line x1="638.6" y1="571.5" x2="660.3" y2="571.5" stroke="#f2f2f2" stroke-width="1"/>
<rect x="634.5" y="557.5" width="4" height="30" fill="none" stroke="#f2f2f2" stroke-width="1"/>
<circle cx="636.2" cy="557.5" r="6.2" fill="none" stroke="#f2f2f2" stroke-width="0.8"/>
<polyline points="608.4,587.7 608.4,582.4 633.4,573.6" fill="none" stroke="#f2f2f2" stroke-width="1"/>
<line x1="538" y1="587.5" x2="1040" y2="587.5" stroke="#f2f2f2" stroke-width="1.3"/>
<circle cx="654.9" cy="397" r="8.6" fill="none" stroke="#bcdad4" stroke-width="1"/>
<line x1="646.3" y1="397.5" x2="663.5" y2="397.5" stroke="#bcdad4" stroke-width="0.9"/>
<text x="654.9" y="395.4" font-size="6.5" fill="#f4f4f4" text-anchor="middle">5</text>
<text x="654.9" y="403.3" font-size="6" fill="#f4f4f4" text-anchor="middle" textLength="11.18" lengthAdjust="spacingAndGlyphs">M04</text>
<line x1="663.5" y1="397.5" x2="676.3" y2="397.5" stroke="#bcdad4" stroke-width="0.9"/>
<line x1="676.5" y1="397.5" x2="676.5" y2="462" stroke="#bcdad4" stroke-width="0.9"/>
<line x1="673.5" y1="455" x2="673.5" y2="463" stroke="#bcdad4" stroke-width="0.8"/>
<line x1="681.3" y1="368.86" x2="684.23" y2="368.41" stroke="#f4f4f4" stroke-width="0.95"/>
<line x1="681.5" y1="367.9" x2="681.5" y2="372.6" stroke="#f4f4f4" stroke-width="0.95"/>
<line x1="683.5" y1="367.6" x2="683.5" y2="371.22" stroke="#f4f4f4" stroke-width="0.95"/>
<line x1="681.3" y1="372.5" x2="684.23" y2="372.5" stroke="#f4f4f4" stroke-width="0.95"/>
<line x1="682.5" y1="368.6" x2="682.5" y2="372.1" stroke="#f4f4f4" stroke-width="0.95"/>
<line x1="685.53" y1="368.27" x2="688.47" y2="368.25" stroke="#f4f4f4" stroke-width="0.95"/>
<line x1="685.5" y1="368.98" x2="685.5" y2="372.6" stroke="#f4f4f4" stroke-width="0.95"/>
<line x1="688.5" y1="367.6" x2="688.5" y2="371.96" stroke="#f4f4f4" stroke-width="0.95"/>
<line x1="686.5" y1="368.6" x2="686.5" y2="372.1" stroke="#f4f4f4" stroke-width="0.95"/>
<line x1="689.77" y1="368.71" x2="692.7" y2="368.84" stroke="#f4f4f4" stroke-width="0.95"/>
<line x1="689.5" y1="367.77" x2="689.5" y2="372.6" stroke="#f4f4f4" stroke-width="0.95"/>
<line x1="692.5" y1="367.6" x2="692.5" y2="371.32" stroke="#f4f4f4" stroke-width="0.95"/>
<line x1="691.5" y1="368.6" x2="691.5" y2="372.1" stroke="#f4f4f4" stroke-width="0.95"/>
<line x1="694" y1="368.56" x2="696.93" y2="368.47" stroke="#f4f4f4" stroke-width="0.95"/>
<line x1="694.5" y1="368.71" x2="694.5" y2="372.6" stroke="#f4f4f4" stroke-width="0.95"/>
<line x1="696.5" y1="367.6" x2="696.5" y2="371.21" stroke="#f4f4f4" stroke-width="0.95"/>
<line x1="694.3" y1="370.1" x2="696.53" y2="370.15" stroke="#f4f4f4" stroke-width="0.95"/>
<line x1="698.23" y1="368.39" x2="701.17" y2="368.29" stroke="#f4f4f4" stroke-width="0.95"/>
<line x1="698.5" y1="367.92" x2="698.5" y2="372.6" stroke="#f4f4f4" stroke-width="0.95"/>
<line x1="700.5" y1="367.6" x2="700.5" y2="372.52" stroke="#f4f4f4" stroke-width="0.95"/>
<line x1="698.53" y1="370.1" x2="700.77" y2="369.71" stroke="#f4f4f4" stroke-width="0.95"/>
<line x1="702.47" y1="368.81" x2="705.4" y2="368.43" stroke="#f4f4f4" stroke-width="0.95"/>
<line x1="702.5" y1="368.6" x2="702.5" y2="372.6" stroke="#f4f4f4" stroke-width="0.95"/>
<line x1="705.5" y1="367.6" x2="705.5" y2="372.33" stroke="#f4f4f4" stroke-width="0.95"/>
<line x1="702.77" y1="370.1" x2="705" y2="369.6" stroke="#f4f4f4" stroke-width="0.95"/>
<line x1="681" y1="374.5" x2="710.7" y2="374.5" stroke="#bcdad4" stroke-width="0.9"/>
<line x1="710.5" y1="374.2" x2="710.5" y2="526" stroke="#bcdad4" stroke-width="0.9"/>
<line x1="869" y1="377.41" x2="871.83" y2="377.99" stroke="#f4f4f4" stroke-width="0.95"/>
<line x1="869.5" y1="377.9" x2="869.5" y2="381.8" stroke="#f4f4f4" stroke-width="0.95"/>
<line x1="871.5" y1="376.8" x2="871.5" y2="381.52" stroke="#f4f4f4" stroke-width="0.95"/>
<line x1="869" y1="381.5" x2="871.83" y2="381.5" stroke="#f4f4f4" stroke-width="0.95"/>
<line x1="870.5" y1="377.8" x2="870.5" y2="381.3" stroke="#f4f4f4" stroke-width="0.95"/>
<line x1="873.13" y1="377.49" x2="875.97" y2="378.06" stroke="#f4f4f4" stroke-width="0.95"/>
<line x1="873.5" y1="377.66" x2="873.5" y2="381.8" stroke="#f4f4f4" stroke-width="0.95"/>
<line x1="875.5" y1="376.8" x2="875.5" y2="381.06" stroke="#f4f4f4" stroke-width="0.95"/>
<line x1="873.13" y1="381.5" x2="875.97" y2="381.5" stroke="#f4f4f4" stroke-width="0.95"/>
<line x1="873.43" y1="379.3" x2="875.57" y2="379.31" stroke="#f4f4f4" stroke-width="0.95"/>
<line x1="877.27" y1="377.95" x2="880.1" y2="378.19" stroke="#f4f4f4" stroke-width="0.95"/>
<line x1="877.5" y1="377.49" x2="877.5" y2="381.8" stroke="#f4f4f4" stroke-width="0.95"/>
<line x1="879.5" y1="376.8" x2="879.5" y2="380.55" stroke="#f4f4f4" stroke-width="0.95"/>
<line x1="877.27" y1="381.5" x2="880.1" y2="381.5" stroke="#f4f4f4" stroke-width="0.95"/>
<line x1="878.5" y1="377.8" x2="878.5" y2="381.3" stroke="#f4f4f4" stroke-width="0.95"/>
<line x1="881.4" y1="377.72" x2="884.23" y2="377.68" stroke="#f4f4f4" stroke-width="0.95"/>
<line x1="881.5" y1="376.91" x2="881.5" y2="381.8" stroke="#f4f4f4" stroke-width="0.95"/>
<line x1="883.5" y1="376.8" x2="883.5" y2="381.61" stroke="#f4f4f4" stroke-width="0.95"/>
<line x1="882.5" y1="377.8" x2="882.5" y2="381.3" stroke="#f4f4f4" stroke-width="0.95"/>
<line x1="885.53" y1="377.6" x2="888.37" y2="377.53" stroke="#f4f4f4" stroke-width="0.95"/>
<line x1="885.5" y1="376.97" x2="885.5" y2="381.8" stroke="#f4f4f4" stroke-width="0.95"/>
<line x1="887.5" y1="376.8" x2="887.5" y2="380.54" stroke="#f4f4f4" stroke-width="0.95"/>
<line x1="885.53" y1="381.5" x2="888.37" y2="381.5" stroke="#f4f4f4" stroke-width="0.95"/>
<line x1="886.5" y1="377.8" x2="886.5" y2="381.3" stroke="#f4f4f4" stroke-width="0.95"/>
<line x1="889.67" y1="377.63" x2="892.5" y2="377.59" stroke="#f4f4f4" stroke-width="0.95"/>
<line x1="889.5" y1="377.39" x2="889.5" y2="381.8" stroke="#f4f4f4" stroke-width="0.95"/>
<line x1="892.5" y1="376.8" x2="892.5" y2="381.11" stroke="#f4f4f4" stroke-width="0.95"/>
<line x1="889.97" y1="379.3" x2="892.1" y2="378.83" stroke="#f4f4f4" stroke-width="0.95"/>
<line x1="856.1" y1="383.5" x2="892.6" y2="383.5" stroke="#bcdad4" stroke-width="0.9"/>
<line x1="856.5" y1="383.4" x2="856.5" y2="555" stroke="#bcdad4" stroke-width="0.9"/>
<circle cx="934" cy="375.5" r="8.3" fill="none" stroke="#bcdad4" stroke-width="1"/>
<line x1="925.7" y1="375.5" x2="942.3" y2="375.5" stroke="#bcdad4" stroke-width="0.9"/>
<text x="934" y="373.9" font-size="6.5" fill="#f4f4f4" text-anchor="middle">1</text>
<text x="934" y="381.8" font-size="6" fill="#f4f4f4" text-anchor="middle" textLength="10.79" lengthAdjust="spacingAndGlyphs">M04</text>
<line x1="925.7" y1="376.5" x2="906.2" y2="376.5" stroke="#bcdad4" stroke-width="0.9"/>
<line x1="906.5" y1="376.2" x2="906.5" y2="425.5" stroke="#bcdad4" stroke-width="0.9"/>
<line x1="903.5" y1="416" x2="903.5" y2="426" stroke="#bcdad4" stroke-width="0.8"/>
<line x1="829.5" y1="443" x2="829.5" y2="601.1" stroke="#bcdad4" stroke-width="0.9"/>
<line x1="829.5" y1="601.5" x2="850.4" y2="601.5" stroke="#bcdad4" stroke-width="0.9"/>
<circle cx="859.2" cy="601.1" r="8.8" fill="none" stroke="#bcdad4" stroke-width="1"/>
<line x1="850.4" y1="601.5" x2="868" y2="601.5" stroke="#bcdad4" stroke-width="0.9"/>
<text x="859.2" y="599.5" font-size="6.5" fill="#f4f4f4" text-anchor="middle">1</text>
<text x="859.2" y="607.4" font-size="6" fill="#f4f4f4" text-anchor="middle" textLength="11.44" lengthAdjust="spacingAndGlyphs">M02</text>
<circle cx="619.5" cy="511.8" r="8.8" fill="none" stroke="#bcdad4" stroke-width="1"/>
<line x1="610.7" y1="511.5" x2="628.3" y2="511.5" stroke="#bcdad4" stroke-width="0.9"/>
<text x="619.5" y="510.2" font-size="6.5" fill="#f4f4f4" text-anchor="middle">4</text>
<text x="619.5" y="518.1" font-size="6" fill="#f4f4f4" text-anchor="middle" textLength="11.44" lengthAdjust="spacingAndGlyphs">M04</text>
<line x1="628.3" y1="511.5" x2="636.8" y2="511.5" stroke="#bcdad4" stroke-width="0.9"/>
<line x1="636.5" y1="511.8" x2="636.5" y2="557" stroke="#bcdad4" stroke-width="0.9"/>
<circle cx="612" cy="597.6" r="8.8" fill="none" stroke="#bcdad4" stroke-width="1"/>
<line x1="603.2" y1="597.5" x2="620.8" y2="597.5" stroke="#bcdad4" stroke-width="0.9"/>
<text x="612" y="596" font-size="6.5" fill="#f4f4f4" text-anchor="middle">2</text>
<text x="612" y="603.9" font-size="6" fill="#f4f4f4" text-anchor="middle" textLength="11.44" lengthAdjust="spacingAndGlyphs">M04</text>
<line x1="620.8" y1="597.5" x2="645.8" y2="597.5" stroke="#bcdad4" stroke-width="0.9"/>
<line x1="645.5" y1="597.8" x2="645.5" y2="565" stroke="#bcdad4" stroke-width="0.9"/>
<line x1="662.5" y1="587.7" x2="662.5" y2="605.4" stroke="#bcdad4" stroke-width="0.9"/>
<circle cx="662.3" cy="612.2" r="6.8" fill="none" stroke="#d6e2de" stroke-width="1"/>
<text x="662.3" y="615.4" font-size="8.5" fill="#f4f4f4" text-anchor="middle">6</text>
<line x1="930.5" y1="587.7" x2="930.5" y2="605.4" stroke="#bcdad4" stroke-width="0.9"/>
<circle cx="930.2" cy="612.4" r="7" fill="none" stroke="#d6e2de" stroke-width="1"/>
<text x="930.2" y="615.6" font-size="8.5" fill="#f4f4f4" text-anchor="middle">1</text>
<circle cx="704.5" cy="630.3" r="7" fill="none" stroke="#d6e2de" stroke-width="1"/>
<text x="704.5" y="633.5" font-size="8.5" fill="#f4f4f4" text-anchor="middle">6</text>
<line x1="714" y1="630.5" x2="721.5" y2="630.5" stroke="#f2f2f2" stroke-width="1.3"/>
<circle cx="734.2" cy="630.3" r="7" fill="none" stroke="#d6e2de" stroke-width="1"/>
<text x="734.2" y="633.5" font-size="8.5" fill="#f4f4f4" text-anchor="middle">1</text>
<polyline points="748.22,629.83 751.11,629.83" fill="none" stroke="#f2f2f2" stroke-width="1.4"/>
<polyline points="749.48,627.64 748.74,632.13" fill="none" stroke="#f2f2f2" stroke-width="1.4"/>
<polyline points="748.74,632.13 750.96,632.13" fill="none" stroke="#f2f2f2" stroke-width="1.4"/>
<polyline points="748.44,634.89 751.11,634.2" fill="none" stroke="#f2f2f2" stroke-width="1.4"/>
<polyline points="749.78,630.29 749.78,638.57" fill="none" stroke="#f2f2f2" stroke-width="1.4"/>
<polyline points="751.7,630.75 755.1,630.75 755.1,638.34 751.7,638.34 751.7,630.75" fill="none" stroke="#f2f2f2" stroke-width="1.4"/>
<polyline points="753.4,627.53 753.4,638.34" fill="none" stroke="#f2f2f2" stroke-width="1.4"/>
<polyline points="751.7,634.54 755.1,634.54" fill="none" stroke="#f2f2f2" stroke-width="1.4"/>
<polyline points="760.1,627.3 760.4,629.14" fill="none" stroke="#f2f2f2" stroke-width="1.4"/>
<polyline points="757.29,630.29 762.91,630.29" fill="none" stroke="#f2f2f2" stroke-width="1.4"/>
<polyline points="758.62,632.13 759.36,636.73" fill="none" stroke="#f2f2f2" stroke-width="1.4"/>
<polyline points="761.73,631.9 760.84,636.96" fill="none" stroke="#f2f2f2" stroke-width="1.4"/>
<polyline points="756.62,638.11 763.58,638.11" fill="none" stroke="#f2f2f2" stroke-width="1.4"/>
<polyline points="765.02,628.22 771.98,628.22" fill="none" stroke="#f2f2f2" stroke-width="1.4"/>
<polyline points="768.5,628.22 768.06,630.52" fill="none" stroke="#f2f2f2" stroke-width="1.4"/>
<polyline points="765.54,630.52 771.46,630.52 771.46,638.57 765.54,638.57 765.54,630.52" fill="none" stroke="#f2f2f2" stroke-width="1.4"/>
<polyline points="767.46,630.52 767.46,638.57" fill="none" stroke="#f2f2f2" stroke-width="1.4"/>
<polyline points="769.54,630.52 769.54,638.57" fill="none" stroke="#f2f2f2" stroke-width="1.4"/>
<polyline points="767.46,633.28 769.54,633.28" fill="none" stroke="#f2f2f2" stroke-width="1.4"/>
<polyline points="767.46,635.81 769.54,635.81" fill="none" stroke="#f2f2f2" stroke-width="1.4"/>
<polyline points="773.79,627.76 780.01,627.76 780.01,638.57 773.79,638.57 773.79,627.76" fill="none" stroke="#f2f2f2" stroke-width="1.4"/>
<polyline points="776.01,629.14 778.08,629.14 775.12,633.51" fill="none" stroke="#f2f2f2" stroke-width="1.4"/>
<polyline points="776.16,630.75 778.82,633.51" fill="none" stroke="#f2f2f2" stroke-width="1.4"/>
<polyline points="776.46,634.66 777.49,635.35" fill="none" stroke="#f2f2f2" stroke-width="1.4"/>
<polyline points="776.01,636.73 777.79,637.42" fill="none" stroke="#f2f2f2" stroke-width="1.4"/>
<text x="822.7" y="638.6" font-size="6" fill="#f4f4f4" text-anchor="start" textLength="13" lengthAdjust="spacingAndGlyphs">1:100</text>
<line x1="696.9" y1="641.5" x2="857" y2="641.5" stroke="#bcdad4" stroke-width="1.3"/>
<line x1="696.9" y1="644.5" x2="857" y2="644.5" stroke="#bcdad4" stroke-width="0.9"/>
<line x1="758.4" y1="376.5" x2="789.4" y2="376.5" stroke="#f2f2f2" stroke-width="0.9"/>
<polyline points="757.7,376.2 763.2,381.2 768.7,376.2" fill="none" stroke="#f2f2f2" stroke-width="0.9"/>
<text x="779.8" y="375.2" font-size="7" fill="#f4f4f4" text-anchor="start" textLength="10.4" lengthAdjust="spacingAndGlyphs">15.0</text>
<line x1="808.4" y1="384.5" x2="839.4" y2="384.5" stroke="#f2f2f2" stroke-width="0.9"/>
<polyline points="809.4,384.3 814.9,389.3 820.4,384.3" fill="none" stroke="#f2f2f2" stroke-width="0.9"/>
<text x="829.9" y="383.3" font-size="7" fill="#f4f4f4" text-anchor="start" textLength="10.4" lengthAdjust="spacingAndGlyphs">10.5</text>
<line x1="787" y1="418.5" x2="806" y2="418.5" stroke="#f2f2f2" stroke-width="0.9"/>
<polyline points="795.8,418 801.3,423 806.8,418" fill="none" stroke="#f2f2f2" stroke-width="0.9"/>
<text x="787" y="417" font-size="7" fill="#f4f4f4" text-anchor="start" textLength="8" lengthAdjust="spacingAndGlyphs">8.6</text>
<line x1="787" y1="448.5" x2="806" y2="448.5" stroke="#f2f2f2" stroke-width="0.9"/>
<polyline points="795.5,448.2 801,453.2 806.5,448.2" fill="none" stroke="#f2f2f2" stroke-width="0.9"/>
<text x="787" y="447.2" font-size="7" fill="#f4f4f4" text-anchor="start" textLength="8" lengthAdjust="spacingAndGlyphs">6.9</text>
<line x1="787" y1="470.5" x2="806" y2="470.5" stroke="#f2f2f2" stroke-width="0.9"/>
<polyline points="795.8,470.1 801.3,475.1 806.8,470.1" fill="none" stroke="#f2f2f2" stroke-width="0.9"/>
<text x="787" y="469.1" font-size="7" fill="#f4f4f4" text-anchor="start" textLength="8" lengthAdjust="spacingAndGlyphs">5.6</text>
<line x1="787" y1="500.5" x2="806" y2="500.5" stroke="#f2f2f2" stroke-width="0.9"/>
<polyline points="795.5,500.8 801,505.8 806.5,500.8" fill="none" stroke="#f2f2f2" stroke-width="0.9"/>
<text x="787" y="499.8" font-size="7" fill="#f4f4f4" text-anchor="start" textLength="8" lengthAdjust="spacingAndGlyphs">2.9</text>
<line x1="676" y1="524.5" x2="694" y2="524.5" stroke="#f2f2f2" stroke-width="0.9"/>
<polyline points="683.5,524.5 689,529.5 694.5,524.5" fill="none" stroke="#f2f2f2" stroke-width="0.9"/>
<text x="676" y="523.5" font-size="7" fill="#f4f4f4" text-anchor="start" textLength="7.8" lengthAdjust="spacingAndGlyphs">3.6</text>
<line x1="787" y1="524.5" x2="806" y2="524.5" stroke="#f2f2f2" stroke-width="0.9"/>
<polyline points="795.5,524.5 801,529.5 806.5,524.5" fill="none" stroke="#f2f2f2" stroke-width="0.9"/>
<text x="787" y="523.5" font-size="7" fill="#f4f4f4" text-anchor="start" textLength="8" lengthAdjust="spacingAndGlyphs">3.6</text>
<line x1="676" y1="553.5" x2="694" y2="553.5" stroke="#f2f2f2" stroke-width="0.9"/>
<polyline points="683.5,553.5 689,558.5 694.5,553.5" fill="none" stroke="#f2f2f2" stroke-width="0.9"/>
<text x="676" y="552.5" font-size="7" fill="#f4f4f4" text-anchor="start" textLength="7.8" lengthAdjust="spacingAndGlyphs">0.9</text>
<line x1="787" y1="553.5" x2="806" y2="553.5" stroke="#f2f2f2" stroke-width="0.9"/>
<polyline points="795.5,553.5 801,558.5 806.5,553.5" fill="none" stroke="#f2f2f2" stroke-width="0.9"/>
<text x="787" y="552.5" font-size="7" fill="#f4f4f4" text-anchor="start" textLength="8" lengthAdjust="spacingAndGlyphs">0.9</text>
<line x1="912.1" y1="421.5" x2="930.7" y2="421.5" stroke="#f2f2f2" stroke-width="0.9"/>
<polyline points="911.8,421.5 917.3,426.5 922.8,421.5" fill="none" stroke="#f2f2f2" stroke-width="0.9"/>
<text x="922.8" y="420.5" font-size="7" fill="#f4f4f4" text-anchor="start" textLength="7.9" lengthAdjust="spacingAndGlyphs">8.6</text>
<line x1="912.1" y1="446.5" x2="930.7" y2="446.5" stroke="#f2f2f2" stroke-width="0.9"/>
<polyline points="911.8,446.3 917.3,451.3 922.8,446.3" fill="none" stroke="#f2f2f2" stroke-width="0.9"/>
<text x="920.4" y="445.3" font-size="7" fill="#f4f4f4" text-anchor="start" textLength="10.4" lengthAdjust="spacingAndGlyphs">7.05</text>
<line x1="637.8" y1="446.5" x2="657.6" y2="446.5" stroke="#f2f2f2" stroke-width="0.9"/>
<polyline points="647.9,446.4 653.4,451.4 658.9,446.4" fill="none" stroke="#f2f2f2" stroke-width="0.9"/>
<text x="637.8" y="445.4" font-size="7" fill="#f4f4f4" text-anchor="start" textLength="11.5" lengthAdjust="spacingAndGlyphs">7.05</text>
<line x1="606.6" y1="549.5" x2="628.6" y2="549.5" stroke="#f2f2f2" stroke-width="0.9"/>
<polyline points="617.1,549.9 622.6,554.9 628.1,549.9" fill="none" stroke="#f2f2f2" stroke-width="0.9"/>
<text x="606.6" y="548.9" font-size="7" fill="#f4f4f4" text-anchor="start" textLength="10.4" lengthAdjust="spacingAndGlyphs">1.25</text>
<line x1="1008.3" y1="402.5" x2="1039.4" y2="402.5" stroke="#f2f2f2" stroke-width="0.9"/>
<polyline points="1008.3,402.4 1013.69,407.6 1017.6,402.4" fill="none" stroke="#f2f2f2" stroke-width="0.9"/>
<line x1="1013.69" y1="407.5" x2="1018.49" y2="407.5" stroke="#f2f2f2" stroke-width="0.9"/>
<text x="1024.8" y="401.2" font-size="7" fill="#f4f4f4" text-anchor="start" textLength="15" lengthAdjust="spacingAndGlyphs">9.500</text>
<line x1="1008.3" y1="421.5" x2="1039.4" y2="421.5" stroke="#f2f2f2" stroke-width="0.9"/>
<polyline points="1008.3,421.5 1013.69,416 1018.1,421.5" fill="none" stroke="#f2f2f2" stroke-width="0.9"/>
<line x1="1013.69" y1="416.5" x2="1018.19" y2="416.5" stroke="#f2f2f2" stroke-width="0.9"/>
<text x="1024.8" y="428" font-size="7" fill="#f4f4f4" text-anchor="start" textLength="15" lengthAdjust="spacingAndGlyphs">9.100</text>
<line x1="1008.3" y1="464.5" x2="1039.4" y2="464.5" stroke="#f2f2f2" stroke-width="0.9"/>
<polyline points="1008.3,464.5 1013.69,469.7 1017.6,464.5" fill="none" stroke="#f2f2f2" stroke-width="0.9"/>
<line x1="1013.69" y1="469.5" x2="1018.49" y2="469.5" stroke="#f2f2f2" stroke-width="0.9"/>
<text x="1024.8" y="463.3" font-size="7" fill="#f4f4f4" text-anchor="start" textLength="15" lengthAdjust="spacingAndGlyphs">6.000</text>
<line x1="1008.3" y1="517.5" x2="1039.4" y2="517.5" stroke="#f2f2f2" stroke-width="0.9"/>
<polyline points="1008.3,517.9 1013.69,523.1 1017.6,517.9" fill="none" stroke="#f2f2f2" stroke-width="0.9"/>
<line x1="1013.69" y1="523.5" x2="1018.49" y2="523.5" stroke="#f2f2f2" stroke-width="0.9"/>
<text x="1024.8" y="516.7" font-size="7" fill="#f4f4f4" text-anchor="start" textLength="15" lengthAdjust="spacingAndGlyphs">3.000</text>
<line x1="1008.3" y1="571.5" x2="1039.4" y2="571.5" stroke="#f2f2f2" stroke-width="0.9"/>
<polyline points="1008.3,571.4 1013.69,576.6 1017.6,571.4" fill="none" stroke="#f2f2f2" stroke-width="0.9"/>
<line x1="1013.69" y1="576.5" x2="1018.49" y2="576.5" stroke="#f2f2f2" stroke-width="0.9"/>
<text x="1024.8" y="570.2" font-size="7" fill="#f4f4f4" text-anchor="start" textLength="15" lengthAdjust="spacingAndGlyphs">0.000</text>
<line x1="1008" y1="592.5" x2="1028" y2="592.5" stroke="#f2f2f2" stroke-width="0.9"/>
<polyline points="1008.3,592.2 1013.2,588 1018.1,592.2" fill="none" stroke="#f2f2f2" stroke-width="0.9"/>
<text x="1029.5" y="599.5" font-size="7" fill="#f4f4f4" text-anchor="start" textLength="10.5" lengthAdjust="spacingAndGlyphs">-0.6</text>
<line x1="552.5" y1="407.5" x2="612.8" y2="407.5" stroke="#bcdad4" stroke-width="1"/>
<line x1="558.5" y1="407.5" x2="558.5" y2="587.7" stroke="#bcdad4" stroke-width="1"/>
<line x1="554.3" y1="416.5" x2="566.3" y2="416.5" stroke="#bcdad4" stroke-width="1"/>
<line x1="554.3" y1="577.5" x2="566.3" y2="577.5" stroke="#bcdad4" stroke-width="1"/>
<line x1="554.3" y1="587.5" x2="566.3" y2="587.5" stroke="#bcdad4" stroke-width="1"/>
<text x="557.5" y="411.85" font-size="7" fill="#f4f4f4" text-anchor="middle" textLength="8.2" lengthAdjust="spacingAndGlyphs" transform="rotate(-90 557.5 411.85)">500</text>
<text x="557.5" y="496.7" font-size="7" fill="#f4f4f4" text-anchor="middle" textLength="12.4" lengthAdjust="spacingAndGlyphs" transform="rotate(-90 557.5 496.7)">9000</text>
<text x="557.5" y="582.45" font-size="7" fill="#f4f4f4" text-anchor="middle" textLength="9.3" lengthAdjust="spacingAndGlyphs" transform="rotate(-90 557.5 582.45)">600</text>
<line x1="575.5" y1="407.5" x2="575.5" y2="587.7" stroke="#bcdad4" stroke-width="1"/>
<line x1="571.4" y1="416.5" x2="583.4" y2="416.5" stroke="#bcdad4" stroke-width="1"/>
<line x1="571.4" y1="470.5" x2="583.4" y2="470.5" stroke="#bcdad4" stroke-width="1"/>
<line x1="571.4" y1="523.5" x2="583.4" y2="523.5" stroke="#bcdad4" stroke-width="1"/>
<line x1="571.4" y1="577.5" x2="583.4" y2="577.5" stroke="#bcdad4" stroke-width="1"/>
<line x1="571.4" y1="587.5" x2="583.4" y2="587.5" stroke="#bcdad4" stroke-width="1"/>
<text x="574.6" y="411.85" font-size="7" fill="#f4f4f4" text-anchor="middle" textLength="8.2" lengthAdjust="spacingAndGlyphs" transform="rotate(-90 574.6 411.85)">500</text>
<text x="574.6" y="443.1" font-size="7" fill="#f4f4f4" text-anchor="middle" textLength="12.4" lengthAdjust="spacingAndGlyphs" transform="rotate(-90 574.6 443.1)">3000</text>
<text x="574.6" y="496.85" font-size="7" fill="#f4f4f4" text-anchor="middle" textLength="12.4" lengthAdjust="spacingAndGlyphs" transform="rotate(-90 574.6 496.85)">3000</text>
<text x="574.6" y="550.45" font-size="7" fill="#f4f4f4" text-anchor="middle" textLength="12.4" lengthAdjust="spacingAndGlyphs" transform="rotate(-90 574.6 550.45)">3000</text>
<text x="574.6" y="582.45" font-size="7" fill="#f4f4f4" text-anchor="middle" textLength="9.3" lengthAdjust="spacingAndGlyphs" transform="rotate(-90 574.6 582.45)">600</text>
<line x1="593.5" y1="407.5" x2="593.5" y2="587.7" stroke="#bcdad4" stroke-width="1"/>
<line x1="589.1" y1="416.5" x2="601.1" y2="416.5" stroke="#bcdad4" stroke-width="1"/>
<line x1="589.1" y1="427.5" x2="601.1" y2="427.5" stroke="#bcdad4" stroke-width="1"/>
<line x1="589.1" y1="470.5" x2="601.1" y2="470.5" stroke="#bcdad4" stroke-width="1"/>
<line x1="589.1" y1="477.5" x2="601.1" y2="477.5" stroke="#bcdad4" stroke-width="1"/>
<line x1="589.1" y1="507.5" x2="601.1" y2="507.5" stroke="#bcdad4" stroke-width="1"/>
<line x1="589.1" y1="523.5" x2="601.1" y2="523.5" stroke="#bcdad4" stroke-width="1"/>
<line x1="589.1" y1="530.5" x2="601.1" y2="530.5" stroke="#bcdad4" stroke-width="1"/>
<line x1="589.1" y1="560.5" x2="601.1" y2="560.5" stroke="#bcdad4" stroke-width="1"/>
<line x1="589.1" y1="577.5" x2="601.1" y2="577.5" stroke="#bcdad4" stroke-width="1"/>
<line x1="589.1" y1="587.5" x2="601.1" y2="587.5" stroke="#bcdad4" stroke-width="1"/>
<text x="592.3" y="411.85" font-size="7" fill="#f4f4f4" text-anchor="middle" textLength="8.2" lengthAdjust="spacingAndGlyphs" transform="rotate(-90 592.3 411.85)">500</text>
<text x="592.3" y="421.6" font-size="7" fill="#f4f4f4" text-anchor="middle" textLength="9.3" lengthAdjust="spacingAndGlyphs" transform="rotate(-90 592.3 421.6)">600</text>
<text x="592.3" y="448.65" font-size="7" fill="#f4f4f4" text-anchor="middle" textLength="12.4" lengthAdjust="spacingAndGlyphs" transform="rotate(-90 592.3 448.65)">2400</text>
<text x="592.3" y="473.95" font-size="7" fill="#f4f4f4" text-anchor="middle" textLength="6.8" lengthAdjust="spacingAndGlyphs" transform="rotate(-90 592.3 473.95)">400</text>
<text x="592.3" y="492.3" font-size="7" fill="#f4f4f4" text-anchor="middle" textLength="12.4" lengthAdjust="spacingAndGlyphs" transform="rotate(-90 592.3 492.3)">1700</text>
<text x="592.3" y="515.35" font-size="7" fill="#f4f4f4" text-anchor="middle" textLength="9.3" lengthAdjust="spacingAndGlyphs" transform="rotate(-90 592.3 515.35)">900</text>
<text x="592.3" y="527.25" font-size="7" fill="#f4f4f4" text-anchor="middle" textLength="6.6" lengthAdjust="spacingAndGlyphs" transform="rotate(-90 592.3 527.25)">400</text>
<text x="592.3" y="545.55" font-size="7" fill="#f4f4f4" text-anchor="middle" textLength="12.4" lengthAdjust="spacingAndGlyphs" transform="rotate(-90 592.3 545.55)">1700</text>
<text x="592.3" y="568.75" font-size="7" fill="#f4f4f4" text-anchor="middle" textLength="9.3" lengthAdjust="spacingAndGlyphs" transform="rotate(-90 592.3 568.75)">900</text>
<text x="592.3" y="582.45" font-size="7" fill="#f4f4f4" text-anchor="middle" textLength="9.3" lengthAdjust="spacingAndGlyphs" transform="rotate(-90 592.3 582.45)">600</text>
<line x1="938.8" y1="407.5" x2="1000.1" y2="407.5" stroke="#bcdad4" stroke-width="1"/>
<line x1="957.5" y1="407.6" x2="957.5" y2="587.7" stroke="#bcdad4" stroke-width="1"/>
<line x1="953.6" y1="416.5" x2="965.6" y2="416.5" stroke="#bcdad4" stroke-width="1"/>
<line x1="953.6" y1="427.5" x2="965.6" y2="427.5" stroke="#bcdad4" stroke-width="1"/>
<line x1="953.6" y1="470.5" x2="965.6" y2="470.5" stroke="#bcdad4" stroke-width="1"/>
<line x1="953.6" y1="477.5" x2="965.6" y2="477.5" stroke="#bcdad4" stroke-width="1"/>
<line x1="953.6" y1="507.5" x2="965.6" y2="507.5" stroke="#bcdad4" stroke-width="1"/>
<line x1="953.6" y1="523.5" x2="965.6" y2="523.5" stroke="#bcdad4" stroke-width="1"/>
<line x1="953.6" y1="529.5" x2="965.6" y2="529.5" stroke="#bcdad4" stroke-width="1"/>
<line x1="953.6" y1="560.5" x2="965.6" y2="560.5" stroke="#bcdad4" stroke-width="1"/>
<line x1="953.6" y1="577.5" x2="965.6" y2="577.5" stroke="#bcdad4" stroke-width="1"/>
<line x1="953.6" y1="587.5" x2="965.6" y2="587.5" stroke="#bcdad4" stroke-width="1"/>
<text x="956.8" y="412.1" font-size="7" fill="#f4f4f4" text-anchor="middle" textLength="8.5" lengthAdjust="spacingAndGlyphs" transform="rotate(-90 956.8 412.1)">500</text>
<text x="956.8" y="421.9" font-size="7" fill="#f4f4f4" text-anchor="middle" textLength="9.3" lengthAdjust="spacingAndGlyphs" transform="rotate(-90 956.8 421.9)">600</text>
<text x="956.8" y="448.6" font-size="7" fill="#f4f4f4" text-anchor="middle" textLength="12.4" lengthAdjust="spacingAndGlyphs" transform="rotate(-90 956.8 448.6)">2400</text>
<text x="956.8" y="473.55" font-size="7" fill="#f4f4f4" text-anchor="middle" textLength="6.6" lengthAdjust="spacingAndGlyphs" transform="rotate(-90 956.8 473.55)">400</text>
<text x="956.8" y="492.05" font-size="7" fill="#f4f4f4" text-anchor="middle" textLength="12.4" lengthAdjust="spacingAndGlyphs" transform="rotate(-90 956.8 492.05)">1700</text>
<text x="956.8" y="515" font-size="7" fill="#f4f4f4" text-anchor="middle" textLength="9.3" lengthAdjust="spacingAndGlyphs" transform="rotate(-90 956.8 515)">900</text>
<text x="956.8" y="526.4" font-size="7" fill="#f4f4f4" text-anchor="middle" textLength="6.3" lengthAdjust="spacingAndGlyphs" transform="rotate(-90 956.8 526.4)">400</text>
<text x="956.8" y="545.1" font-size="7" fill="#f4f4f4" text-anchor="middle" textLength="12.4" lengthAdjust="spacingAndGlyphs" transform="rotate(-90 956.8 545.1)">1700</text>
<text x="956.8" y="568.85" font-size="7" fill="#f4f4f4" text-anchor="middle" textLength="9.3" lengthAdjust="spacingAndGlyphs" transform="rotate(-90 956.8 568.85)">900</text>
<text x="956.8" y="582.5" font-size="7" fill="#f4f4f4" text-anchor="middle" textLength="9.3" lengthAdjust="spacingAndGlyphs" transform="rotate(-90 956.8 582.5)">600</text>
<line x1="975.5" y1="407.6" x2="975.5" y2="587.7" stroke="#bcdad4" stroke-width="1"/>
<line x1="971.3" y1="416.5" x2="983.3" y2="416.5" stroke="#bcdad4" stroke-width="1"/>
<line x1="971.3" y1="470.5" x2="983.3" y2="470.5" stroke="#bcdad4" stroke-width="1"/>
<line x1="971.3" y1="523.5" x2="983.3" y2="523.5" stroke="#bcdad4" stroke-width="1"/>
<line x1="971.3" y1="577.5" x2="983.3" y2="577.5" stroke="#bcdad4" stroke-width="1"/>
<line x1="971.3" y1="587.5" x2="983.3" y2="587.5" stroke="#bcdad4" stroke-width="1"/>
<text x="974.5" y="412.1" font-size="7" fill="#f4f4f4" text-anchor="middle" textLength="8.5" lengthAdjust="spacingAndGlyphs" transform="rotate(-90 974.5 412.1)">500</text>
<text x="974.5" y="443.3" font-size="7" fill="#f4f4f4" text-anchor="middle" textLength="12.4" lengthAdjust="spacingAndGlyphs" transform="rotate(-90 974.5 443.3)">3000</text>
<text x="974.5" y="496.5" font-size="7" fill="#f4f4f4" text-anchor="middle" textLength="12.4" lengthAdjust="spacingAndGlyphs" transform="rotate(-90 974.5 496.5)">3000</text>
<text x="974.5" y="550.15" font-size="7" fill="#f4f4f4" text-anchor="middle" textLength="12.4" lengthAdjust="spacingAndGlyphs" transform="rotate(-90 974.5 550.15)">3000</text>
<text x="974.5" y="582.5" font-size="7" fill="#f4f4f4" text-anchor="middle" textLength="9.3" lengthAdjust="spacingAndGlyphs" transform="rotate(-90 974.5 582.5)">600</text>
<line x1="993.5" y1="407.6" x2="993.5" y2="587.7" stroke="#bcdad4" stroke-width="1"/>
<line x1="989.3" y1="416.5" x2="1001.3" y2="416.5" stroke="#bcdad4" stroke-width="1"/>
<line x1="989.3" y1="577.5" x2="1001.3" y2="577.5" stroke="#bcdad4" stroke-width="1"/>
<line x1="989.3" y1="587.5" x2="1001.3" y2="587.5" stroke="#bcdad4" stroke-width="1"/>
<text x="992.5" y="412.1" font-size="7" fill="#f4f4f4" text-anchor="middle" textLength="8.5" lengthAdjust="spacingAndGlyphs" transform="rotate(-90 992.5 412.1)">500</text>
<text x="992.5" y="496.95" font-size="7" fill="#f4f4f4" text-anchor="middle" textLength="12.4" lengthAdjust="spacingAndGlyphs" transform="rotate(-90 992.5 496.95)">9000</text>
<text x="992.5" y="582.5" font-size="7" fill="#f4f4f4" text-anchor="middle" textLength="9.3" lengthAdjust="spacingAndGlyphs" transform="rotate(-90 992.5 582.5)">600</text>
</svg>
</body></html>
